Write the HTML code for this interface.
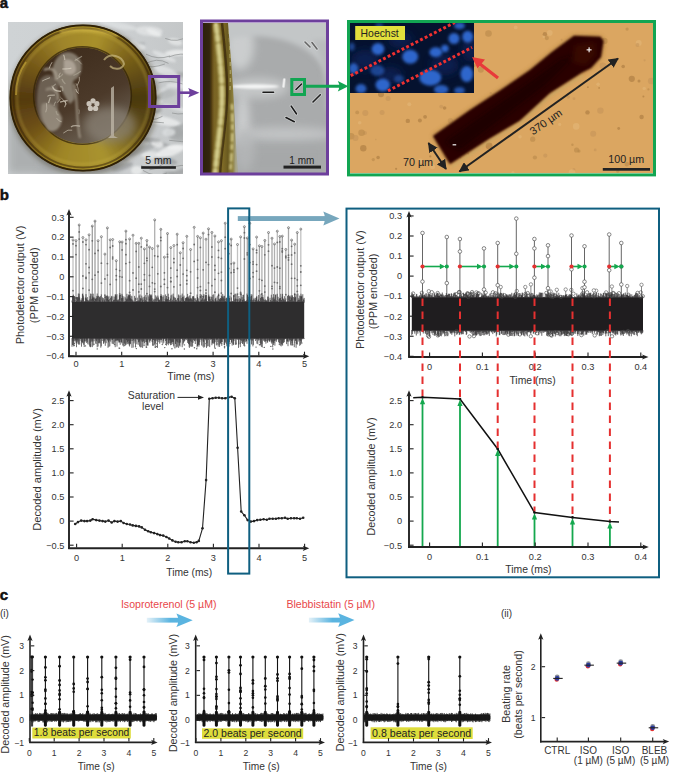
<!DOCTYPE html>
<html><head><meta charset="utf-8"><style>html,body{margin:0;padding:0;background:#fff;overflow:hidden}svg{display:block}</style></head>
<body><svg width="685" height="772" viewBox="0 0 685 772">

<defs>
 <radialGradient id="coinG" cx="0.42" cy="0.38" r="0.62">
  <stop offset="0" stop-color="#c9a638"/>
  <stop offset="0.55" stop-color="#a88420"/>
  <stop offset="0.85" stop-color="#8a6a12"/>
  <stop offset="1" stop-color="#4a3608"/>
 </radialGradient>
 <linearGradient id="innerG" x1="0.3" y1="0" x2="0.8" y2="1">
  <stop offset="0" stop-color="#3e2c1c"/>
  <stop offset="0.55" stop-color="#4c3a2a"/>
  <stop offset="1" stop-color="#72695c"/>
 </linearGradient>
 <linearGradient id="coinBg" x1="0" y1="0" x2="1" y2="0">
  <stop offset="0" stop-color="#cfd3d5"/>
  <stop offset="0.6" stop-color="#cdd0d2"/>
  <stop offset="1" stop-color="#c4c7c8"/>
 </linearGradient>
 <linearGradient id="midBg" x1="0" y1="0" x2="0" y2="1">
  <stop offset="0" stop-color="#b4b7b8"/>
  <stop offset="0.35" stop-color="#9c9e9f"/>
  <stop offset="0.6" stop-color="#a2a4a5"/>
  <stop offset="1" stop-color="#a9abac"/>
 </linearGradient>
 <linearGradient id="goldStrip" gradientUnits="userSpaceOnUse" x1="203" y1="0" x2="236" y2="0">
  <stop offset="0" stop-color="#2a1c06"/>
  <stop offset="0.2" stop-color="#4e3a10"/>
  <stop offset="0.35" stop-color="#7a6424"/>
  <stop offset="0.6" stop-color="#7e6a26"/>
  <stop offset="0.75" stop-color="#6a5a20"/>
  <stop offset="0.9" stop-color="#8c7e3c"/>
  <stop offset="1" stop-color="#a8a68e"/>
 </linearGradient>
 <linearGradient id="cArrow" x1="0" y1="0" x2="1" y2="0">
  <stop offset="0" stop-color="#e4f1f8"/>
  <stop offset="0.7" stop-color="#5ab4e0"/>
  <stop offset="1" stop-color="#5ab4e0"/>
 </linearGradient>
 <filter id="blur05" x="-50%" y="-50%" width="200%" height="200%"><feGaussianBlur stdDeviation="0.6"/></filter>
 <filter id="blur08" x="-50%" y="-50%" width="200%" height="200%"><feGaussianBlur stdDeviation="0.85"/></filter>
 <filter id="blur1" x="-50%" y="-50%" width="200%" height="200%"><feGaussianBlur stdDeviation="1.2"/></filter>
 <filter id="blur18" x="-50%" y="-50%" width="200%" height="200%"><feGaussianBlur stdDeviation="1.7"/></filter>
 <filter id="blur2" x="-60%" y="-60%" width="220%" height="220%"><feGaussianBlur stdDeviation="2.5"/></filter>
 <filter id="blur3" x="-100%" y="-100%" width="300%" height="300%"><feGaussianBlur stdDeviation="4"/></filter>
 <clipPath id="clipCoin"><rect x="8" y="22" width="175" height="152"/></clipPath>
 <clipPath id="clipCC"><circle cx="83" cy="98" r="72"/></clipPath>
 <clipPath id="clipStrip"><path d="M203,23 L228,23 C231,60 234,95 235,125 C236,145 237,160 238,173 L203,173 Z"/></clipPath>
 <clipPath id="clipMid"><rect x="203" y="23" width="123" height="150"/></clipPath>
 <clipPath id="clipRight"><rect x="350" y="23" width="303" height="150"/></clipPath>
 <clipPath id="clipInset"><rect x="350" y="23" width="124" height="70"/></clipPath>
 <marker id="ahBlk" viewBox="0 0 10 10" refX="9" refY="5" markerWidth="5" markerHeight="5" orient="auto-start-reverse"><path d="M0,0 L10,5 L0,10 z" fill="#222"/></marker>
</defs>

<rect width="685" height="772" fill="#fff"/>
<text x="-0.3" y="8" font-family="Liberation Sans, sans-serif" font-weight="bold" font-size="15" fill="#111" stroke="#111" stroke-width="0.5">a</text>
<text x="-0.3" y="200.3" font-family="Liberation Sans, sans-serif" font-weight="bold" font-size="15" fill="#111" stroke="#111" stroke-width="0.5">b</text>
<text x="-0.3" y="599.6" font-family="Liberation Sans, sans-serif" font-weight="bold" font-size="15" fill="#111" stroke="#111" stroke-width="0.5">c</text>
<g clip-path="url(#clipCoin)">
<rect x="8" y="22" width="175" height="152" fill="url(#coinBg)"/>
<rect x="8" y="110" width="60" height="64" fill="#a4a7a8" opacity="0.8" filter="url(#blur3)"/>
<rect x="40" y="150" width="80" height="24" fill="#a8abac" opacity="0.8" filter="url(#blur3)"/>
<ellipse cx="130.9" cy="44.9" rx="14.8" ry="1.8" fill="#a5a8a9" opacity="0.75" transform="rotate(-7 130.9 44.9)" filter="url(#blur1)"/>
<ellipse cx="109.6" cy="99.1" rx="5.6" ry="3.0" fill="#a5a8a9" opacity="0.75" transform="rotate(-13 109.6 99.1)" filter="url(#blur1)"/>
<ellipse cx="149.1" cy="31.0" rx="13.5" ry="4.8" fill="#e4e6e7" opacity="0.75" transform="rotate(4 149.1 31.0)" filter="url(#blur1)"/>
<ellipse cx="136.7" cy="170.4" rx="5.7" ry="4.5" fill="#eef0f0" opacity="0.75" transform="rotate(-4 136.7 170.4)" filter="url(#blur1)"/>
<ellipse cx="148.3" cy="108.8" rx="13.4" ry="3.9" fill="#a5a8a9" opacity="0.75" transform="rotate(4 148.3 108.8)" filter="url(#blur1)"/>
<ellipse cx="156.1" cy="78.6" rx="13.2" ry="1.7" fill="#e4e6e7" opacity="0.75" transform="rotate(6 156.1 78.6)" filter="url(#blur1)"/>
<ellipse cx="144.7" cy="102.8" rx="16.7" ry="3.1" fill="#e8eaea" opacity="0.75" transform="rotate(-7 144.7 102.8)" filter="url(#blur1)"/>
<ellipse cx="124.9" cy="49.3" rx="16.7" ry="1.8" fill="#eef0f0" opacity="0.75" transform="rotate(1 124.9 49.3)" filter="url(#blur1)"/>
<ellipse cx="175.0" cy="132.9" rx="9.3" ry="4.9" fill="#a5a8a9" opacity="0.75" transform="rotate(1 175.0 132.9)" filter="url(#blur1)"/>
<ellipse cx="118.2" cy="74.0" rx="19.0" ry="3.0" fill="#a5a8a9" opacity="0.75" transform="rotate(13 118.2 74.0)" filter="url(#blur1)"/>
<ellipse cx="150.8" cy="155.1" rx="9.7" ry="3.9" fill="#e8eaea" opacity="0.75" transform="rotate(4 150.8 155.1)" filter="url(#blur1)"/>
<ellipse cx="141.5" cy="149.7" rx="19.2" ry="3.2" fill="#a5a8a9" opacity="0.75" transform="rotate(-22 141.5 149.7)" filter="url(#blur1)"/>
<ellipse cx="161.1" cy="120.4" rx="19.9" ry="4.4" fill="#eef0f0" opacity="0.75" transform="rotate(11 161.1 120.4)" filter="url(#blur1)"/>
<ellipse cx="176.0" cy="74.7" rx="19.1" ry="2.7" fill="#a5a8a9" opacity="0.75" transform="rotate(-0 176.0 74.7)" filter="url(#blur1)"/>
<ellipse cx="122.5" cy="65.7" rx="16.1" ry="2.9" fill="#e8eaea" opacity="0.75" transform="rotate(-21 122.5 65.7)" filter="url(#blur1)"/>
<ellipse cx="140.9" cy="105.5" rx="18.3" ry="4.4" fill="#eef0f0" opacity="0.75" transform="rotate(10 140.9 105.5)" filter="url(#blur1)"/>
<ellipse cx="183.9" cy="125.8" rx="10.7" ry="2.3" fill="#a5a8a9" opacity="0.75" transform="rotate(-16 183.9 125.8)" filter="url(#blur1)"/>
<ellipse cx="123.6" cy="57.5" rx="12.3" ry="3.6" fill="#eef0f0" opacity="0.75" transform="rotate(-11 123.6 57.5)" filter="url(#blur1)"/>
<ellipse cx="116.7" cy="103.3" rx="14.1" ry="2.6" fill="#dfe2e3" opacity="0.75" transform="rotate(10 116.7 103.3)" filter="url(#blur1)"/>
<ellipse cx="146.2" cy="115.9" rx="15.1" ry="1.7" fill="#f2f3f3" opacity="0.75" transform="rotate(-5 146.2 115.9)" filter="url(#blur1)"/>
<ellipse cx="136.5" cy="95.2" rx="11.0" ry="2.2" fill="#9c9fa0" opacity="0.75" transform="rotate(-3 136.5 95.2)" filter="url(#blur1)"/>
<ellipse cx="113.8" cy="113.3" rx="6.5" ry="3.5" fill="#a5a8a9" opacity="0.75" transform="rotate(22 113.8 113.3)" filter="url(#blur1)"/>
<ellipse cx="154.1" cy="32.7" rx="8.1" ry="2.8" fill="#eef0f0" opacity="0.75" transform="rotate(23 154.1 32.7)" filter="url(#blur1)"/>
<ellipse cx="153.2" cy="94.1" rx="6.7" ry="3.2" fill="#e8eaea" opacity="0.75" transform="rotate(-1 153.2 94.1)" filter="url(#blur1)"/>
<ellipse cx="129.9" cy="43.9" rx="16.2" ry="4.1" fill="#e8eaea" opacity="0.75" transform="rotate(16 129.9 43.9)" filter="url(#blur1)"/>
<ellipse cx="117.9" cy="25.5" rx="19.3" ry="3.3" fill="#dfe2e3" opacity="0.75" transform="rotate(10 117.9 25.5)" filter="url(#blur1)"/>
<ellipse cx="178.1" cy="137.2" rx="9.5" ry="3.8" fill="#a5a8a9" opacity="0.75" transform="rotate(10 178.1 137.2)" filter="url(#blur1)"/>
<ellipse cx="125.9" cy="77.7" rx="7.5" ry="4.2" fill="#b8bbbc" opacity="0.75" transform="rotate(7 125.9 77.7)" filter="url(#blur1)"/>
<ellipse cx="154.1" cy="141.8" rx="16.4" ry="2.2" fill="#9c9fa0" opacity="0.75" transform="rotate(16 154.1 141.8)" filter="url(#blur1)"/>
<ellipse cx="164.2" cy="56.5" rx="12.8" ry="2.7" fill="#e4e6e7" opacity="0.75" transform="rotate(24 164.2 56.5)" filter="url(#blur1)"/>
<ellipse cx="168.2" cy="93.8" rx="7.9" ry="3.6" fill="#b8bbbc" opacity="0.75" transform="rotate(-3 168.2 93.8)" filter="url(#blur1)"/>
<ellipse cx="180.0" cy="172.2" rx="19.3" ry="2.8" fill="#9c9fa0" opacity="0.75" transform="rotate(-20 180.0 172.2)" filter="url(#blur1)"/>
<ellipse cx="142.6" cy="73.3" rx="12.2" ry="4.9" fill="#e4e6e7" opacity="0.75" transform="rotate(-1 142.6 73.3)" filter="url(#blur1)"/>
<ellipse cx="157.2" cy="143.5" rx="6.3" ry="3.8" fill="#f2f3f3" opacity="0.75" transform="rotate(14 157.2 143.5)" filter="url(#blur1)"/>
<ellipse cx="165.0" cy="94.7" rx="7.7" ry="4.3" fill="#b8bbbc" opacity="0.75" transform="rotate(-21 165.0 94.7)" filter="url(#blur1)"/>
<ellipse cx="180.7" cy="131.7" rx="11.9" ry="4.1" fill="#a5a8a9" opacity="0.75" transform="rotate(11 180.7 131.7)" filter="url(#blur1)"/>
<ellipse cx="118.6" cy="41.3" rx="7.3" ry="4.7" fill="#dfe2e3" opacity="0.75" transform="rotate(6 118.6 41.3)" filter="url(#blur1)"/>
<ellipse cx="152.7" cy="94.1" rx="19.1" ry="2.0" fill="#dfe2e3" opacity="0.75" transform="rotate(-24 152.7 94.1)" filter="url(#blur1)"/>
<ellipse cx="168.9" cy="132.4" rx="6.5" ry="4.1" fill="#dfe2e3" opacity="0.75" transform="rotate(-3 168.9 132.4)" filter="url(#blur1)"/>
<ellipse cx="174.7" cy="147.6" rx="8.2" ry="2.4" fill="#eef0f0" opacity="0.75" transform="rotate(0 174.7 147.6)" filter="url(#blur1)"/>
<ellipse cx="166.1" cy="71.6" rx="13.2" ry="4.4" fill="#e4e6e7" opacity="0.75" transform="rotate(21 166.1 71.6)" filter="url(#blur1)"/>
<ellipse cx="133.3" cy="91.6" rx="13.8" ry="4.7" fill="#f2f3f3" opacity="0.75" transform="rotate(16 133.3 91.6)" filter="url(#blur1)"/>
<ellipse cx="175.3" cy="41.9" rx="7.3" ry="3.3" fill="#e8eaea" opacity="0.75" transform="rotate(14 175.3 41.9)" filter="url(#blur1)"/>
<ellipse cx="153.7" cy="140.0" rx="7.2" ry="2.0" fill="#a5a8a9" opacity="0.75" transform="rotate(3 153.7 140.0)" filter="url(#blur1)"/>
<ellipse cx="131.1" cy="100.8" rx="13.3" ry="4.2" fill="#a5a8a9" opacity="0.75" transform="rotate(19 131.1 100.8)" filter="url(#blur1)"/>
<ellipse cx="109.5" cy="51.1" rx="5.6" ry="1.8" fill="#e8eaea" opacity="0.75" transform="rotate(3 109.5 51.1)" filter="url(#blur1)"/>
<ellipse cx="165.8" cy="160.7" rx="11.6" ry="3.6" fill="#9c9fa0" opacity="0.75" transform="rotate(10 165.8 160.7)" filter="url(#blur1)"/>
<ellipse cx="141.2" cy="103.1" rx="12.2" ry="4.8" fill="#eef0f0" opacity="0.75" transform="rotate(21 141.2 103.1)" filter="url(#blur1)"/>
<ellipse cx="176.4" cy="52.8" rx="11.7" ry="3.0" fill="#f2f3f3" opacity="0.75" transform="rotate(-3 176.4 52.8)" filter="url(#blur1)"/>
<ellipse cx="110.8" cy="58.6" rx="6.1" ry="3.8" fill="#a5a8a9" opacity="0.75" transform="rotate(20 110.8 58.6)" filter="url(#blur1)"/>
<ellipse cx="117.4" cy="130.9" rx="14.9" ry="2.0" fill="#dfe2e3" opacity="0.75" transform="rotate(23 117.4 130.9)" filter="url(#blur1)"/>
<ellipse cx="122.6" cy="166.8" rx="11.0" ry="3.2" fill="#9c9fa0" opacity="0.75" transform="rotate(-17 122.6 166.8)" filter="url(#blur1)"/>
<ellipse cx="139.5" cy="100.4" rx="10.1" ry="2.2" fill="#b8bbbc" opacity="0.75" transform="rotate(-20 139.5 100.4)" filter="url(#blur1)"/>
<ellipse cx="134.3" cy="73.4" rx="11.9" ry="4.0" fill="#f2f3f3" opacity="0.75" transform="rotate(-8 134.3 73.4)" filter="url(#blur1)"/>
<ellipse cx="154.9" cy="99.9" rx="6.0" ry="4.9" fill="#9c9fa0" opacity="0.75" transform="rotate(24 154.9 99.9)" filter="url(#blur1)"/>
<ellipse cx="113.4" cy="62.4" rx="5.6" ry="4.2" fill="#eef0f0" opacity="0.75" transform="rotate(13 113.4 62.4)" filter="url(#blur1)"/>
<ellipse cx="170.6" cy="151.1" rx="15.1" ry="4.8" fill="#f2f3f3" opacity="0.75" transform="rotate(-18 170.6 151.1)" filter="url(#blur1)"/>
<ellipse cx="178.5" cy="108.7" rx="15.5" ry="1.8" fill="#e4e6e7" opacity="0.75" transform="rotate(15 178.5 108.7)" filter="url(#blur1)"/>
<ellipse cx="119.7" cy="158.1" rx="9.0" ry="1.6" fill="#a5a8a9" opacity="0.75" transform="rotate(15 119.7 158.1)" filter="url(#blur1)"/>
<ellipse cx="111.7" cy="152.1" rx="6.0" ry="4.5" fill="#e8eaea" opacity="0.75" transform="rotate(-24 111.7 152.1)" filter="url(#blur1)"/>
<ellipse cx="184.5" cy="85.5" rx="18.7" ry="3.7" fill="#e4e6e7" opacity="0.75" transform="rotate(1 184.5 85.5)" filter="url(#blur1)"/>
<ellipse cx="124.1" cy="38.6" rx="7.4" ry="1.7" fill="#9c9fa0" opacity="0.75" transform="rotate(22 124.1 38.6)" filter="url(#blur1)"/>
<ellipse cx="155.3" cy="102.7" rx="8.1" ry="3.1" fill="#dfe2e3" opacity="0.75" transform="rotate(-11 155.3 102.7)" filter="url(#blur1)"/>
<ellipse cx="169.3" cy="173.2" rx="5.6" ry="1.6" fill="#9c9fa0" opacity="0.75" transform="rotate(1 169.3 173.2)" filter="url(#blur1)"/>
<ellipse cx="124.7" cy="90.0" rx="14.9" ry="3.8" fill="#e8eaea" opacity="0.75" transform="rotate(2 124.7 90.0)" filter="url(#blur1)"/>
<path d="M169.1,167.6 q12,-3.1 24,-2.3" stroke="#8e9192" stroke-width="1" fill="none" opacity="0.7"/>
<path d="M146.0,54.2 q12,6.1 24,1.8" stroke="#8e9192" stroke-width="1" fill="none" opacity="0.7"/>
<path d="M142.9,170.4 q12,7.7 24,2.7" stroke="#8e9192" stroke-width="1" fill="none" opacity="0.7"/>
<path d="M138.5,116.9 q12,6.1 24,-0.6" stroke="#8e9192" stroke-width="1" fill="none" opacity="0.7"/>
<path d="M139.9,122.8 q12,-1.9 24,0.0" stroke="#8e9192" stroke-width="1" fill="none" opacity="0.7"/>
<path d="M172.0,113.0 q12,3.1 24,-3.6" stroke="#8e9192" stroke-width="1" fill="none" opacity="0.7"/>
<path d="M144.5,64.5 q12,-7.9 24,-1.1" stroke="#8e9192" stroke-width="1" fill="none" opacity="0.7"/>
<path d="M149.5,169.8 q12,-2.8 24,-3.7" stroke="#8e9192" stroke-width="1" fill="none" opacity="0.7"/>
<path d="M168.9,57.0 q12,-5.1 24,-1.3" stroke="#8e9192" stroke-width="1" fill="none" opacity="0.7"/>
<path d="M140.9,66.0 q12,2.5 24,-2.0" stroke="#8e9192" stroke-width="1" fill="none" opacity="0.7"/>
<path d="M165.2,38.4 q12,5.1 24,-2.8" stroke="#8e9192" stroke-width="1" fill="none" opacity="0.7"/>
<path d="M158.5,82.9 q12,-3.2 24,1.0" stroke="#8e9192" stroke-width="1" fill="none" opacity="0.7"/>
<path d="M141.0,165.8 q12,5.7 24,-2.8" stroke="#8e9192" stroke-width="1" fill="none" opacity="0.7"/>
<path d="M169.2,140.3 q12,1.5 24,2.1" stroke="#8e9192" stroke-width="1" fill="none" opacity="0.7"/>
<circle cx="84" cy="100" r="75" fill="#2a2008" opacity="0.35" filter="url(#blur2)"/>
<circle cx="83" cy="98" r="72.8" fill="#64480f" stroke="#3a2806" stroke-width="1.6"/>
<g clip-path="url(#clipCC)"><g filter="url(#blur2)">
<path d="M83,98 L163.0,98.0 L162.6,106.0 Z" fill="#4c3a10"/>
<path d="M83,98 L162.7,105.0 L161.6,112.9 Z" fill="#503e11"/>
<path d="M83,98 L161.8,111.9 L160.0,119.7 Z" fill="#554212"/>
<path d="M83,98 L160.3,118.7 L157.8,126.3 Z" fill="#594613"/>
<path d="M83,98 L158.2,125.4 L155.1,132.8 Z" fill="#5d4a14"/>
<path d="M83,98 L155.5,131.8 L151.8,138.9 Z" fill="#624e15"/>
<path d="M83,98 L152.3,138.0 L147.9,144.7 Z" fill="#695417"/>
<path d="M83,98 L148.5,143.9 L143.6,150.2 Z" fill="#715d1b"/>
<path d="M83,98 L144.3,149.4 L138.8,155.3 Z" fill="#7a651e"/>
<path d="M83,98 L139.6,154.6 L133.6,160.0 Z" fill="#836e21"/>
<path d="M83,98 L134.4,159.3 L128.0,164.1 Z" fill="#8c7624"/>
<path d="M83,98 L128.9,163.5 L122.1,167.8 Z" fill="#947f28"/>
<path d="M83,98 L123.0,167.3 L115.9,170.9 Z" fill="#9d872b"/>
<path d="M83,98 L116.8,170.5 L109.4,173.5 Z" fill="#a6902e"/>
<path d="M83,98 L110.4,173.2 L102.7,175.5 Z" fill="#a9932f"/>
<path d="M83,98 L103.7,175.3 L95.9,177.0 Z" fill="#a8912e"/>
<path d="M83,98 L96.9,176.8 L88.9,177.8 Z" fill="#a68f2d"/>
<path d="M83,98 L90.0,177.7 L82.0,178.0 Z" fill="#a58e2c"/>
<path d="M83,98 L83.0,178.0 L75.0,177.6 Z" fill="#a48c2b"/>
<path d="M83,98 L76.0,177.7 L68.1,176.6 Z" fill="#a38a2a"/>
<path d="M83,98 L69.1,176.8 L61.3,175.0 Z" fill="#a18929"/>
<path d="M83,98 L62.3,175.3 L54.7,172.8 Z" fill="#a08728"/>
<path d="M83,98 L55.6,173.2 L48.2,170.1 Z" fill="#9c8326"/>
<path d="M83,98 L49.2,170.5 L42.1,166.8 Z" fill="#967c24"/>
<path d="M83,98 L43.0,167.3 L36.3,162.9 Z" fill="#8f7522"/>
<path d="M83,98 L37.1,163.5 L30.8,158.6 Z" fill="#896e1f"/>
<path d="M83,98 L31.6,159.3 L25.7,153.8 Z" fill="#83671d"/>
<path d="M83,98 L26.4,154.6 L21.0,148.6 Z" fill="#7d601b"/>
<path d="M83,98 L21.7,149.4 L16.9,143.0 Z" fill="#765919"/>
<path d="M83,98 L17.5,143.9 L13.2,137.1 Z" fill="#705216"/>
<path d="M83,98 L13.7,138.0 L10.1,130.9 Z" fill="#6b4d15"/>
<path d="M83,98 L10.5,131.8 L7.5,124.4 Z" fill="#674a14"/>
<path d="M83,98 L7.8,125.4 L5.5,117.7 Z" fill="#624613"/>
<path d="M83,98 L5.7,118.7 L4.0,110.9 Z" fill="#5e4212"/>
<path d="M83,98 L4.2,111.9 L3.2,103.9 Z" fill="#5a3f11"/>
<path d="M83,98 L3.3,105.0 L3.0,97.0 Z" fill="#553b10"/>
<path d="M83,98 L3.0,98.0 L3.4,90.0 Z" fill="#563c10"/>
<path d="M83,98 L3.3,91.0 L4.4,83.1 Z" fill="#5c4112"/>
<path d="M83,98 L4.2,84.1 L6.0,76.3 Z" fill="#614613"/>
<path d="M83,98 L5.7,77.3 L8.2,69.7 Z" fill="#664b15"/>
<path d="M83,98 L7.8,70.6 L10.9,63.2 Z" fill="#6b5016"/>
<path d="M83,98 L10.5,64.2 L14.2,57.1 Z" fill="#705517"/>
<path d="M83,98 L13.7,58.0 L18.1,51.3 Z" fill="#755919"/>
<path d="M83,98 L17.5,52.1 L22.4,45.8 Z" fill="#7b5f1b"/>
<path d="M83,98 L21.7,46.6 L27.2,40.7 Z" fill="#81651d"/>
<path d="M83,98 L26.4,41.4 L32.4,36.0 Z" fill="#866b1f"/>
<path d="M83,98 L31.6,36.7 L38.0,31.9 Z" fill="#8c7122"/>
<path d="M83,98 L37.1,32.5 L43.9,28.2 Z" fill="#927724"/>
<path d="M83,98 L43.0,28.7 L50.1,25.1 Z" fill="#977d26"/>
<path d="M83,98 L49.2,25.5 L56.6,22.5 Z" fill="#9d8329"/>
<path d="M83,98 L55.6,22.8 L63.3,20.5 Z" fill="#a0862a"/>
<path d="M83,98 L62.3,20.7 L70.1,19.0 Z" fill="#a2882a"/>
<path d="M83,98 L69.1,19.2 L77.1,18.2 Z" fill="#a38a2b"/>
<path d="M83,98 L76.0,18.3 L84.0,18.0 Z" fill="#a58b2b"/>
<path d="M83,98 L83.0,18.0 L91.0,18.4 Z" fill="#a68d2b"/>
<path d="M83,98 L90.0,18.3 L97.9,19.4 Z" fill="#a78e2c"/>
<path d="M83,98 L96.9,19.2 L104.7,21.0 Z" fill="#a9902c"/>
<path d="M83,98 L103.7,20.7 L111.3,23.2 Z" fill="#a58c2b"/>
<path d="M83,98 L110.4,22.8 L117.8,25.9 Z" fill="#9e8528"/>
<path d="M83,98 L116.8,25.5 L123.9,29.2 Z" fill="#977e26"/>
<path d="M83,98 L123.0,28.7 L129.7,33.1 Z" fill="#907723"/>
<path d="M83,98 L128.9,32.5 L135.2,37.4 Z" fill="#897020"/>
<path d="M83,98 L134.4,36.7 L140.3,42.2 Z" fill="#82691d"/>
<path d="M83,98 L139.6,41.4 L145.0,47.4 Z" fill="#7b621b"/>
<path d="M83,98 L144.3,46.6 L149.1,53.0 Z" fill="#745d19"/>
<path d="M83,98 L148.5,52.1 L152.8,58.9 Z" fill="#6e5818"/>
<path d="M83,98 L152.3,58.0 L155.9,65.1 Z" fill="#695316"/>
<path d="M83,98 L155.5,64.2 L158.5,71.6 Z" fill="#634e15"/>
<path d="M83,98 L158.2,70.6 L160.5,78.3 Z" fill="#5d4914"/>
<path d="M83,98 L160.3,77.3 L162.0,85.1 Z" fill="#574413"/>
<path d="M83,98 L161.8,84.1 L162.8,92.1 Z" fill="#523f11"/>
<path d="M83,98 L162.7,91.0 L163.0,99.0 Z" fill="#4c3a10"/>
</g>
<circle cx="83" cy="98" r="69.5" fill="none" stroke="#3a2808" stroke-width="2" opacity="0.55" filter="url(#blur05)"/>
<circle cx="83" cy="98" r="66" fill="none" stroke="#d8c050" stroke-width="2.5" opacity="0.25" filter="url(#blur1)"/>
<path d="M60,32 C80,28 100,30 118,36" stroke="#e0c450" stroke-width="3" fill="none" opacity="0.6" filter="url(#blur1)"/>
<path d="M16,95 C16,80 20,70 26,62" stroke="#d8b840" stroke-width="2" fill="none" opacity="0.5"/>
</g>
<circle cx="83" cy="98" r="72.5" fill="none" stroke="#2e2006" stroke-width="1.4"/>
<circle cx="82.5" cy="95.5" r="48.8" fill="none" stroke="#2e2008" stroke-width="1.6" opacity="0.7"/>
<circle cx="82.5" cy="95.5" r="48" fill="url(#innerG)"/>
<ellipse cx="110" cy="125" rx="26" ry="18" fill="#8c8478" opacity="0.7" filter="url(#blur3)"/>
<g filter="url(#blur1)" opacity="0.75">
<path d="M60,55 C66,50 76,52 80,60 C84,68 80,78 74,80 C70,86 76,92 74,100 L70,104 C64,96 60,86 56,80 C50,74 52,62 60,55Z" fill="#9a9284"/>
<path d="M64,60 C70,58 76,62 76,70 C74,76 68,76 64,72Z" fill="#d0c8bc"/>
<path d="M40,80 C46,72 54,74 58,84 C60,96 56,110 60,124 C54,130 46,128 40,120 C36,108 36,92 40,80Z" fill="#7a7064"/>
<path d="M42,104 C50,100 58,108 62,118 C62,128 54,134 48,130 C42,122 40,112 42,104Z" fill="#a8a092"/>
<path d="M44,70 C52,66 58,72 56,80" stroke="#c8c0b0" stroke-width="2" fill="none"/>
<path d="M46,90 C52,86 60,92 58,100" stroke="#b8b0a0" stroke-width="2" fill="none"/>
<path d="M74,84 C78,100 76,120 80,138" stroke="#b0a898" stroke-width="2" fill="none"/>
</g>
<path d="M50.5,97.2 q-0.2,0.3 -2.0,5.9" stroke="#c8c0b0" stroke-width="1.3" fill="none" opacity="0.75"/>
<path d="M60.4,98.7 q-1.4,2.3 -3.2,4.0" stroke="#a8a090" stroke-width="1.1" fill="none" opacity="0.75"/>
<path d="M46.4,103.1 q1.1,5.6 -0.7,9.2" stroke="#c8c0b0" stroke-width="0.8" fill="none" opacity="0.75"/>
<path d="M82.0,56.3 q-5.1,2.9 -7.4,4.6" stroke="#a8a090" stroke-width="1.2" fill="none" opacity="0.75"/>
<path d="M76.1,83.4 q3.4,6.6 1.5,8.7" stroke="#c8c0b0" stroke-width="0.7" fill="none" opacity="0.75"/>
<path d="M62.9,73.8 q-1.0,2.1 -6.2,5.1" stroke="#a8a090" stroke-width="1.1" fill="none" opacity="0.75"/>
<path d="M60.0,86.5 q3.8,-0.5 2.6,4.7" stroke="#a8a090" stroke-width="1.4" fill="none" opacity="0.75"/>
<path d="M71.4,68.0 q-2.1,0.9 -9.1,1.0" stroke="#d8d0c0" stroke-width="1.2" fill="none" opacity="0.75"/>
<path d="M52.1,62.2 q-1.6,2.2 -2.9,6.3" stroke="#c8c0b0" stroke-width="1.0" fill="none" opacity="0.75"/>
<path d="M50.0,77.7 q-6.7,2.4 -7.9,3.4" stroke="#c8c0b0" stroke-width="1.0" fill="none" opacity="0.75"/>
<path d="M60.4,97.1 q1.5,0.9 6.1,7.3" stroke="#c8c0b0" stroke-width="0.8" fill="none" opacity="0.75"/>
<path d="M63.2,55.1 q1.4,0.4 1.5,5.0" stroke="#c8c0b0" stroke-width="1.4" fill="none" opacity="0.75"/>
<path d="M55.8,83.9 q-2.9,3.2 -4.4,2.0" stroke="#a8a090" stroke-width="1.2" fill="none" opacity="0.75"/>
<path d="M67.6,100.7 q-3.8,0.3 -7.6,1.4" stroke="#d8d0c0" stroke-width="1.2" fill="none" opacity="0.75"/>
<path d="M75.8,89.0 q0.6,4.0 3.2,4.5" stroke="#d8d0c0" stroke-width="0.9" fill="none" opacity="0.75"/>
<path d="M56.0,101.7 q-2.0,1.3 -2.0,4.4" stroke="#a8a090" stroke-width="1.1" fill="none" opacity="0.75"/>
<path d="M54.9,95.1 q-6.6,-0.2 -7.5,1.1" stroke="#d8d0c0" stroke-width="1.0" fill="none" opacity="0.75"/>
<path d="M62.0,79.0 q0.9,3.1 3.4,5.1" stroke="#a8a090" stroke-width="1.3" fill="none" opacity="0.75"/>
<path d="M78.9,109.4 q0.9,1.0 0.0,4.8" stroke="#a8a090" stroke-width="0.8" fill="none" opacity="0.75"/>
<path d="M56.2,111.0 q0.2,4.0 2.4,3.9" stroke="#a8a090" stroke-width="1.3" fill="none" opacity="0.75"/>
<path d="M75.2,59.0 q3.7,1.3 6.5,5.3" stroke="#c8c0b0" stroke-width="0.7" fill="none" opacity="0.75"/>
<path d="M79.3,76.8 q1.1,3.4 -2.1,8.8" stroke="#d8d0c0" stroke-width="0.8" fill="none" opacity="0.75"/>
<path d="M65.0,100.7 q1.9,3.0 -0.4,6.5" stroke="#d8d0c0" stroke-width="1.0" fill="none" opacity="0.75"/>
<path d="M52.6,86.7 q1.2,4.9 8.4,4.5" stroke="#d8d0c0" stroke-width="1.4" fill="none" opacity="0.75"/>
<path d="M80.8,71.3 q-2.7,2.2 -7.4,4.2" stroke="#a8a090" stroke-width="1.1" fill="none" opacity="0.75"/>
<path d="M80.1,126.1 q-6.8,-1.1 -9.1,0.8" stroke="#c8c0b0" stroke-width="1.3" fill="none" opacity="0.75"/>
<path d="M72.2,130.2 q-4.0,-1.5 -8.9,2.9" stroke="#d8d0c0" stroke-width="0.8" fill="none" opacity="0.75"/>
<path d="M60.4,72.8 q-2.9,4.5 -0.5,4.1" stroke="#c8c0b0" stroke-width="0.9" fill="none" opacity="0.75"/>
<path d="M56.6,118.2 q2.7,3.7 5.0,3.5" stroke="#c8c0b0" stroke-width="0.9" fill="none" opacity="0.75"/>
<g opacity="0.9">
<circle cx="93.0" cy="100.84" r="2.6" fill="#d6d0c6"/>
<circle cx="96.9" cy="103.7" r="2.6" fill="#d6d0c6"/>
<circle cx="95.6" cy="108.38" r="2.6" fill="#d6d0c6"/>
<circle cx="90.4" cy="108.38" r="2.6" fill="#d6d0c6"/>
<circle cx="89.1" cy="103.7" r="2.6" fill="#d6d0c6"/>
</g>
<path d="M111,88 L114,86 L114,136 L118,138 L108,138 L111,135 Z" fill="#c0b8aa" opacity="0.75"/>
<path d="M104,60 C110,52 122,56 124,64 C122,70 114,70 110,66" stroke="#c8b880" stroke-width="2" fill="none" opacity="0.7"/>
</g>
<rect x="149.5" y="76.5" width="29.2" height="30" fill="none" stroke="#6d3f9c" stroke-width="3"/>
<line x1="180" y1="92.7" x2="192" y2="92.7" stroke="#6d3f9c" stroke-width="2.6"/>
<path d="M188.2,87.9 L199.4,92.7 L188.2,97.5 Q191.2,92.7 188.2,87.9 Z" fill="#6d3f9c"/>
<text x="158.3" y="163.8" font-family="Liberation Sans, sans-serif" font-size="10.5" fill="#222" text-anchor="middle">5 mm</text>
<rect x="141.2" y="166.2" width="34.7" height="2.6" fill="#222"/>
<g clip-path="url(#clipMid)">
<rect x="203" y="23" width="123" height="150" fill="#a9abac"/>
<ellipse cx="240" cy="45" rx="14" ry="25" fill="#cfd1d2" opacity="0.9" filter="url(#blur3)"/>
<ellipse cx="243" cy="130" rx="7" ry="40" fill="#d4d6d7" opacity="0.8" filter="url(#blur3)"/>
<path d="M203,18 L330,18 L330,80 C318,52 295,38 255,36 L203,40 Z" fill="#c3c6c7" filter="url(#blur2)"/>
<path d="M312,40 C322,55 326,80 326,110 L330,110 L330,40 Z" fill="#b9bcbd" filter="url(#blur2)"/>
<ellipse cx="258" cy="88" rx="30" ry="10" fill="#c8cacb" opacity="0.9" filter="url(#blur3)"/>
<ellipse cx="255" cy="86.5" rx="24" ry="2.2" fill="#f4f5f5" filter="url(#blur1)"/>
<ellipse cx="285" cy="134" rx="50" ry="7" fill="#c4c6c7" opacity="0.9" filter="url(#blur3)"/>
<rect x="203" y="145" width="123" height="30" fill="#a6a8a9" opacity="0.8" filter="url(#blur3)"/>
<ellipse cx="245" cy="150" rx="10" ry="20" fill="#b4b6b7" opacity="0.8" filter="url(#blur3)"/>
<path d="M203,23 L228,23 C231,60 234,95 235,125 C236,145 237,160 238,173 L203,173 Z" fill="url(#goldStrip)"/>
<g clip-path="url(#clipStrip)">
<rect x="203" y="23" width="8" height="150" fill="#2e2208" opacity="0.8" filter="url(#blur1)"/>
<path d="M222,23 C225,50 228,80 227,100 C226,130 221,150 220,175" stroke="#3a2c0c" stroke-width="2.5" fill="none" opacity="0.8" filter="url(#blur05)"/>
<path d="M216,25 C219,50 222,75 222,95 C222,120 218,140 215,175" stroke="#ece4a8" stroke-width="4.5" fill="none" stroke-linecap="round" stroke-dasharray="7 4 4 5 10 3 5 4" opacity="0.95" filter="url(#blur08)"/>
<path d="M216,25 C219,50 222,75 222,95 C222,120 218,140 215,175" stroke="#b0a860" stroke-width="7" fill="none" opacity="0.35" filter="url(#blur1)"/>
<path d="M232,105 C233,130 232,150 230,175" stroke="#e0d898" stroke-width="2.4" fill="none" stroke-linecap="round" stroke-dasharray="4 5 7 4" opacity="0.85" filter="url(#blur08)"/>
<path d="M229,30 C230,50 231,70 230,90" stroke="#b8b070" stroke-width="1.5" fill="none" stroke-dasharray="4 4" opacity="0.7" filter="url(#blur05)"/>
</g>
<line x1="263" y1="92.2" x2="273.6" y2="92.2" stroke="#e8eaea" stroke-width="3" stroke-linecap="round" opacity="0.6"/>
<line x1="263" y1="92.2" x2="273.6" y2="92.2" stroke="#1a1a1a" stroke-width="1.6" stroke-linecap="round"/>
<line x1="284.3" y1="79.5" x2="283.5" y2="86.5" stroke="#e8eaea" stroke-width="3" stroke-linecap="round" opacity="0.6"/>
<line x1="284.3" y1="79.5" x2="283.5" y2="86.5" stroke="#f0f0f0" stroke-width="1.6" stroke-linecap="round"/>
<line x1="296" y1="89.5" x2="301.6" y2="84" stroke="#e8eaea" stroke-width="3" stroke-linecap="round" opacity="0.6"/>
<line x1="296" y1="89.5" x2="301.6" y2="84" stroke="#1a1a1a" stroke-width="1.6" stroke-linecap="round"/>
<line x1="313" y1="102" x2="320.3" y2="94.7" stroke="#e8eaea" stroke-width="3" stroke-linecap="round" opacity="0.6"/>
<line x1="313" y1="102" x2="320.3" y2="94.7" stroke="#222" stroke-width="1.6" stroke-linecap="round"/>
<line x1="291.2" y1="106.1" x2="296.4" y2="113.8" stroke="#e8eaea" stroke-width="3" stroke-linecap="round" opacity="0.6"/>
<line x1="291.2" y1="106.1" x2="296.4" y2="113.8" stroke="#1a1a1a" stroke-width="1.6" stroke-linecap="round"/>
<line x1="286" y1="117.5" x2="294.3" y2="121.7" stroke="#e8eaea" stroke-width="3" stroke-linecap="round" opacity="0.6"/>
<line x1="286" y1="117.5" x2="294.3" y2="121.7" stroke="#1a1a1a" stroke-width="1.6" stroke-linecap="round"/>
<line x1="305" y1="42" x2="310" y2="47" stroke="#e8eaea" stroke-width="3" stroke-linecap="round" opacity="0.6"/>
<line x1="305" y1="42" x2="310" y2="47" stroke="#666" stroke-width="1.6" stroke-linecap="round"/>
<line x1="312" y1="42.5" x2="317" y2="49" stroke="#e8eaea" stroke-width="3" stroke-linecap="round" opacity="0.6"/>
<line x1="312" y1="42.5" x2="317" y2="49" stroke="#666" stroke-width="1.6" stroke-linecap="round"/>
</g>
<rect x="201.5" y="21" width="126" height="153" fill="none" stroke="#6d3f9c" stroke-width="3"/>
<rect x="291.8" y="79.5" width="12.7" height="15" fill="none" stroke="#12a552" stroke-width="3"/>
<line x1="305" y1="86.2" x2="340" y2="86.2" stroke="#12a552" stroke-width="3"/>
<path d="M337.8,81.1 L348.4,86.2 L337.8,91.4 Q340.8,86.2 337.8,81.1 Z" fill="#12a552"/>
<text x="301.8" y="163.6" font-family="Liberation Sans, sans-serif" font-size="10" fill="#222" text-anchor="middle">1 mm</text>
<rect x="283.5" y="165.6" width="37.5" height="3" fill="#222"/>
<g clip-path="url(#clipRight)">
<rect x="350" y="23" width="303" height="150" fill="#dba661"/>
<circle cx="568.4" cy="97.1" r="1.6" fill="#c49558" opacity="0.6"/>
<circle cx="363.3" cy="148.3" r="3.2" fill="#a87a40" opacity="0.6"/>
<circle cx="572.4" cy="144.8" r="1.2" fill="#b8884a" opacity="0.6"/>
<circle cx="600.4" cy="110.6" r="3.2" fill="#c49558" opacity="0.6"/>
<circle cx="375.8" cy="29.3" r="2.5" fill="#b8884a" opacity="0.6"/>
<circle cx="464.1" cy="90.7" r="0.9" fill="#b8884a" opacity="0.6"/>
<circle cx="539.7" cy="125.1" r="2.1" fill="#b8884a" opacity="0.6"/>
<circle cx="488.5" cy="33.5" r="3.3" fill="#b8884a" opacity="0.6"/>
<circle cx="549.8" cy="32.9" r="2.8" fill="#e2b878" opacity="0.6"/>
<circle cx="595.2" cy="149.9" r="1.4" fill="#c49558" opacity="0.6"/>
<circle cx="419.9" cy="120.5" r="2.0" fill="#a87a40" opacity="0.6"/>
<circle cx="373.3" cy="159.6" r="1.6" fill="#b8884a" opacity="0.6"/>
<circle cx="536.9" cy="119.4" r="1.0" fill="#c49558" opacity="0.6"/>
<circle cx="450.5" cy="120.7" r="2.7" fill="#c49558" opacity="0.6"/>
<circle cx="353.8" cy="32.1" r="1.5" fill="#b8884a" opacity="0.6"/>
<circle cx="559.7" cy="124.4" r="1.6" fill="#e2b878" opacity="0.6"/>
<circle cx="490.8" cy="93.0" r="1.1" fill="#c49558" opacity="0.6"/>
<circle cx="444.4" cy="35.9" r="2.1" fill="#e2b878" opacity="0.6"/>
<circle cx="489.1" cy="146.0" r="3.4" fill="#a87a40" opacity="0.6"/>
<circle cx="651.2" cy="81.0" r="3.3" fill="#c49558" opacity="0.6"/>
<circle cx="372.6" cy="36.5" r="2.8" fill="#e2b878" opacity="0.6"/>
<circle cx="638.7" cy="42.9" r="3.0" fill="#e2b878" opacity="0.6"/>
<circle cx="618.7" cy="128.5" r="1.4" fill="#a87a40" opacity="0.6"/>
<circle cx="469.4" cy="46.9" r="3.4" fill="#a87a40" opacity="0.6"/>
<circle cx="472.8" cy="132.1" r="1.9" fill="#a87a40" opacity="0.6"/>
<circle cx="445.8" cy="149.0" r="0.8" fill="#e2b878" opacity="0.6"/>
<circle cx="604.3" cy="41.0" r="3.3" fill="#b8884a" opacity="0.6"/>
<circle cx="623.2" cy="66.5" r="1.8" fill="#a87a40" opacity="0.6"/>
<circle cx="468.2" cy="153.5" r="1.0" fill="#a87a40" opacity="0.6"/>
<circle cx="579.0" cy="151.1" r="1.6" fill="#b8884a" opacity="0.6"/>
<circle cx="602.9" cy="65.8" r="3.3" fill="#c49558" opacity="0.6"/>
<circle cx="644.2" cy="88.4" r="1.7" fill="#e2b878" opacity="0.6"/>
<circle cx="587.9" cy="87.2" r="0.9" fill="#a87a40" opacity="0.6"/>
<circle cx="626.8" cy="164.1" r="2.3" fill="#b8884a" opacity="0.6"/>
<circle cx="365.0" cy="132.9" r="2.0" fill="#c49558" opacity="0.6"/>
<circle cx="545.3" cy="65.9" r="0.9" fill="#c49558" opacity="0.6"/>
<circle cx="401.7" cy="85.2" r="1.6" fill="#e2b878" opacity="0.6"/>
<circle cx="573.9" cy="169.4" r="1.5" fill="#c49558" opacity="0.6"/>
<circle cx="441.2" cy="106.6" r="1.9" fill="#c49558" opacity="0.6"/>
<circle cx="544.9" cy="34.3" r="2.2" fill="#a87a40" opacity="0.6"/>
<circle cx="516.8" cy="90.9" r="1.7" fill="#a87a40" opacity="0.6"/>
<circle cx="479.5" cy="105.2" r="1.5" fill="#c49558" opacity="0.6"/>
<circle cx="453.6" cy="36.7" r="1.4" fill="#e2b878" opacity="0.6"/>
<circle cx="595.2" cy="53.3" r="0.9" fill="#a87a40" opacity="0.6"/>
<circle cx="466.0" cy="134.9" r="1.4" fill="#e2b878" opacity="0.6"/>
<circle cx="452.5" cy="32.3" r="1.5" fill="#e2b878" opacity="0.6"/>
<circle cx="388.1" cy="98.5" r="2.5" fill="#c49558" opacity="0.6"/>
<circle cx="378.1" cy="157.5" r="1.8" fill="#a87a40" opacity="0.6"/>
<circle cx="480.8" cy="69.8" r="3.0" fill="#b8884a" opacity="0.6"/>
<circle cx="388.6" cy="86.8" r="2.9" fill="#a87a40" opacity="0.6"/>
<circle cx="643.4" cy="96.5" r="1.0" fill="#a87a40" opacity="0.6"/>
<circle cx="644.6" cy="60.3" r="1.1" fill="#c49558" opacity="0.6"/>
<circle cx="396.1" cy="168.8" r="1.1" fill="#a87a40" opacity="0.6"/>
<circle cx="375.8" cy="139.5" r="0.8" fill="#c49558" opacity="0.6"/>
<circle cx="420.5" cy="161.0" r="2.5" fill="#e2b878" opacity="0.6"/>
<circle cx="641.6" cy="117.0" r="2.2" fill="#a87a40" opacity="0.6"/>
<circle cx="561.7" cy="39.8" r="1.0" fill="#c49558" opacity="0.6"/>
<circle cx="467.6" cy="56.5" r="2.4" fill="#b8884a" opacity="0.6"/>
<circle cx="512.9" cy="172.5" r="1.6" fill="#e2b878" opacity="0.6"/>
<circle cx="545.3" cy="155.6" r="2.1" fill="#c49558" opacity="0.6"/>
<circle cx="515.7" cy="27.4" r="1.9" fill="#e2b878" opacity="0.6"/>
<circle cx="366.8" cy="52.1" r="3.2" fill="#a87a40" opacity="0.6"/>
<circle cx="374.6" cy="57.2" r="1.9" fill="#e2b878" opacity="0.6"/>
<circle cx="418.7" cy="28.1" r="1.7" fill="#a87a40" opacity="0.6"/>
<circle cx="459.8" cy="82.5" r="0.8" fill="#e2b878" opacity="0.6"/>
<circle cx="574.0" cy="98.7" r="1.4" fill="#c49558" opacity="0.6"/>
<circle cx="444.4" cy="146.0" r="1.4" fill="#c49558" opacity="0.6"/>
<circle cx="430.3" cy="156.4" r="1.1" fill="#a87a40" opacity="0.6"/>
<circle cx="534.9" cy="157.5" r="2.1" fill="#b8884a" opacity="0.6"/>
<circle cx="637.5" cy="45.0" r="1.9" fill="#c49558" opacity="0.6"/>
<circle cx="357.2" cy="112.4" r="1.9" fill="#b8884a" opacity="0.6"/>
<circle cx="405.8" cy="90.4" r="2.7" fill="#e2b878" opacity="0.6"/>
<circle cx="572.0" cy="172.6" r="3.3" fill="#e2b878" opacity="0.6"/>
<circle cx="407.8" cy="120.9" r="2.2" fill="#a87a40" opacity="0.6"/>
<circle cx="359.7" cy="122.7" r="1.8" fill="#e2b878" opacity="0.6"/>
<circle cx="648.4" cy="89.4" r="1.1" fill="#b8884a" opacity="0.6"/>
<circle cx="434.8" cy="75.7" r="3.4" fill="#b8884a" opacity="0.6"/>
<circle cx="520.0" cy="136.8" r="1.8" fill="#e2b878" opacity="0.6"/>
<circle cx="599.1" cy="87.9" r="0.9" fill="#a87a40" opacity="0.6"/>
<circle cx="409.3" cy="104.2" r="2.0" fill="#e2b878" opacity="0.6"/>
<circle cx="460.4" cy="157.5" r="0.9" fill="#a87a40" opacity="0.6"/>
<circle cx="425.1" cy="116.8" r="1.9" fill="#a87a40" opacity="0.6"/>
<circle cx="360.6" cy="32.4" r="3.3" fill="#e2b878" opacity="0.6"/>
<circle cx="409.1" cy="32.4" r="2.4" fill="#e2b878" opacity="0.6"/>
<circle cx="432.5" cy="166.7" r="2.5" fill="#e2b878" opacity="0.6"/>
<circle cx="576.2" cy="126.4" r="3.3" fill="#e2b878" opacity="0.6"/>
<circle cx="351.1" cy="136.3" r="3.3" fill="#b8884a" opacity="0.6"/>
<circle cx="357.3" cy="58.1" r="2.1" fill="#a87a40" opacity="0.6"/>
<circle cx="639.0" cy="81.0" r="1.5" fill="#a87a40" opacity="0.6"/>
<circle cx="596.9" cy="42.9" r="2.1" fill="#b8884a" opacity="0.6"/>
<circle cx="593.2" cy="133.8" r="3.0" fill="#c49558" opacity="0.6"/>
<circle cx="534.0" cy="72.2" r="1.7" fill="#e2b878" opacity="0.6"/>
<circle cx="587.5" cy="112.4" r="2.2" fill="#a87a40" opacity="0.6"/>
<circle cx="578.1" cy="60.1" r="1.0" fill="#b8884a" opacity="0.6"/>
<circle cx="496.0" cy="104.7" r="1.2" fill="#a87a40" opacity="0.6"/>
<circle cx="617.7" cy="171.2" r="1.5" fill="#b8884a" opacity="0.6"/>
<circle cx="413.1" cy="86.2" r="3.5" fill="#a87a40" opacity="0.6"/>
<circle cx="402.5" cy="42.9" r="2.0" fill="#c49558" opacity="0.6"/>
<circle cx="576.6" cy="150.0" r="2.6" fill="#b8884a" opacity="0.6"/>
<circle cx="586.3" cy="67.1" r="1.6" fill="#e2b878" opacity="0.6"/>
<circle cx="463.0" cy="133.7" r="1.3" fill="#c49558" opacity="0.6"/>
<circle cx="406.3" cy="58.3" r="1.6" fill="#c49558" opacity="0.6"/>
<circle cx="448.9" cy="82.4" r="3.5" fill="#c49558" opacity="0.6"/>
<circle cx="546.8" cy="38.1" r="2.1" fill="#b8884a" opacity="0.6"/>
<circle cx="381.0" cy="94.2" r="3.0" fill="#a87a40" opacity="0.6"/>
<circle cx="627.1" cy="29.1" r="1.6" fill="#b8884a" opacity="0.6"/>
<circle cx="365.3" cy="113.1" r="3.0" fill="#c49558" opacity="0.6"/>
<circle cx="631.8" cy="78.8" r="3.1" fill="#a87a40" opacity="0.6"/>
<circle cx="532.7" cy="139.2" r="2.6" fill="#b8884a" opacity="0.6"/>
<circle cx="382.1" cy="112.4" r="2.5" fill="#c49558" opacity="0.6"/>
<circle cx="361.3" cy="74.0" r="0.9" fill="#e2b878" opacity="0.6"/>
<circle cx="361.6" cy="132.8" r="3.3" fill="#b8884a" opacity="0.6"/>
<circle cx="598.1" cy="84.3" r="1.8" fill="#e2b878" opacity="0.6"/>
<circle cx="373.6" cy="27.7" r="2.1" fill="#a87a40" opacity="0.6"/>
<circle cx="369.2" cy="38.2" r="1.9" fill="#c49558" opacity="0.6"/>
<circle cx="543.7" cy="36.7" r="1.2" fill="#e2b878" opacity="0.6"/>
<circle cx="474.2" cy="65.5" r="1.6" fill="#b8884a" opacity="0.6"/>
<circle cx="444.6" cy="108.0" r="1.8" fill="#a87a40" opacity="0.6"/>
<circle cx="355.5" cy="138.0" r="3.0" fill="#c49558" opacity="0.6"/>
<circle cx="468.4" cy="83.7" r="3.3" fill="#a87a40" opacity="0.6"/>
<path d="M433,136 L470,110 L500,90.5 L530,70 L552,52 L574,35.7 L600.5,36.7 L603.5,41 L601,57 L591,68 L582,72.6 L550,93 L520,120.5 L490,138.2 L450,164 Z" fill="#8a5a20" opacity="0.8" filter="url(#blur2)" transform="translate(0,0)"/>
<path d="M433,136 L470,110 L500,90.5 L530,70 L552,52 L574,35.7 L600.5,36.7 L603.5,41 L601,57 L591,68 L582,72.6 L550,93 L520,120.5 L490,138.2 L450,164 Z" fill="#2a0600" filter="url(#blur1)"/>
<path d="M445,142 L530,82 L560,60 L575,55 L545,85 L460,150 Z" fill="#120100" opacity="0.6" filter="url(#blur2)"/>
<path d="M575,45 L595,42 L596,55 L585,66 L572,62 Z" fill="#4a1206" opacity="0.45" filter="url(#blur2)"/>
<path d="M452,167 L490,141 L520,123.5 L550,96 L583,75.5" stroke="#c8b070" stroke-width="2.2" fill="none" opacity="0.5" filter="url(#blur1)"/>
</g>
<g clip-path="url(#clipInset)">
<rect x="350" y="23" width="124" height="70" fill="#05122f"/>
<ellipse cx="365" cy="60" rx="14" ry="10" fill="#0c2458" opacity="0.8" filter="url(#blur3)"/>
<ellipse cx="400" cy="40" rx="12" ry="8" fill="#0c2458" opacity="0.8" filter="url(#blur3)"/>
<ellipse cx="445" cy="65" rx="14" ry="10" fill="#0c2458" opacity="0.8" filter="url(#blur3)"/>
<ellipse cx="390" cy="75" rx="12" ry="8" fill="#0c2458" opacity="0.8" filter="url(#blur3)"/>
<ellipse cx="470" cy="50" rx="8" ry="12" fill="#0c2458" opacity="0.8" filter="url(#blur3)"/>
<ellipse cx="378" cy="49" rx="6.4" ry="6" fill="#2f66cc" opacity="1" filter="url(#blur18)"/>
<ellipse cx="410.2" cy="56.8" rx="8" ry="7" fill="#2f66cc" opacity="1" filter="url(#blur18)"/>
<ellipse cx="435.8" cy="52.2" rx="6.4" ry="5" fill="#2f66cc" opacity="1" filter="url(#blur18)"/>
<ellipse cx="444.9" cy="48.5" rx="3.8" ry="3.8" fill="#2f66cc" opacity="1" filter="url(#blur18)"/>
<ellipse cx="454" cy="38.5" rx="5.5" ry="5.5" fill="#2f66cc" opacity="1" filter="url(#blur18)"/>
<ellipse cx="467.7" cy="36.7" rx="5.5" ry="6" fill="#2f66cc" opacity="1" filter="url(#blur18)"/>
<ellipse cx="459.5" cy="25.7" rx="5.5" ry="3.5" fill="#2f66cc" opacity="0.9" filter="url(#blur18)"/>
<ellipse cx="430.3" cy="77.7" rx="11" ry="8" fill="#2f66cc" opacity="1" filter="url(#blur18)"/>
<ellipse cx="382.8" cy="85" rx="7.3" ry="6.4" fill="#2f66cc" opacity="1" filter="url(#blur18)"/>
<ellipse cx="361" cy="88.7" rx="5.5" ry="4.6" fill="#2f66cc" opacity="0.9" filter="url(#blur18)"/>
<ellipse cx="353.6" cy="68.6" rx="4.6" ry="5.5" fill="#2f66cc" opacity="0.9" filter="url(#blur18)"/>
<ellipse cx="466.8" cy="74.1" rx="6.4" ry="8" fill="#2f66cc" opacity="1" filter="url(#blur18)"/>
<ellipse cx="441.2" cy="89.6" rx="7.3" ry="4.6" fill="#2f66cc" opacity="0.9" filter="url(#blur18)"/>
<ellipse cx="459.5" cy="90.5" rx="5.5" ry="3.5" fill="#2f66cc" opacity="0.8" filter="url(#blur18)"/>
<ellipse cx="377.4" cy="70.4" rx="7" ry="5.5" fill="#2f66cc" opacity="0.6" filter="url(#blur18)"/>
<ellipse cx="351.8" cy="46.7" rx="3" ry="4" fill="#2f66cc" opacity="0.6" filter="url(#blur18)"/>
<ellipse cx="399" cy="79" rx="5" ry="4" fill="#2f66cc" opacity="0.5" filter="url(#blur18)"/>
<ellipse cx="379.2" cy="25.7" rx="4" ry="3" fill="#2f66cc" opacity="0.5" filter="url(#blur18)"/>
</g>
<line x1="350.7" y1="75.7" x2="454.8" y2="22.5" stroke="#ee3030" stroke-width="3" stroke-dasharray="2.9 2.3"/>
<line x1="388" y1="90.9" x2="472" y2="47.4" stroke="#ee3030" stroke-width="3" stroke-dasharray="2.9 2.3"/>
<rect x="355.2" y="26" width="49.8" height="14" fill="#e2df3c"/>
<text x="360.6" y="36.6" font-family="Liberation Sans, sans-serif" font-size="10.4" fill="#222">Hoechst</text>
<line x1="498" y1="78" x2="480" y2="64" stroke="#e83a3a" stroke-width="3.2"/>
<path d="M472,57 L485,59.5 L477.5,68.5 Z" fill="#e83a3a"/>
<rect x="586.6" y="49.3" width="5" height="1.1" fill="#fff"/><rect x="588.55" y="47.3" width="1.1" height="5" fill="#fff"/>
<rect x="452.6" y="144.2" width="3.6" height="1.2" fill="#f4f4f4"/>
<line x1="428.5" y1="143" x2="446" y2="169" stroke="#222" stroke-width="2" marker-start="url(#ahBlk)" marker-end="url(#ahBlk)"/>
<line x1="459.5" y1="171.5" x2="618" y2="58.5" stroke="#222" stroke-width="2" marker-start="url(#ahBlk)" marker-end="url(#ahBlk)"/>
<text x="418" y="166" font-family="Liberation Sans, sans-serif" font-size="10.8" fill="#222" text-anchor="middle">70 µm</text>
<text transform="translate(548,125) rotate(-35)" font-family="Liberation Sans, sans-serif" font-size="11" fill="#222" text-anchor="middle">370 µm</text>
<text x="626.2" y="163.3" font-family="Liberation Sans, sans-serif" font-size="10.7" fill="#222" text-anchor="middle">100 µm</text>
<rect x="602.8" y="168" width="47.2" height="2.7" fill="#222"/>
<rect x="348.5" y="21.5" width="306" height="153.4" fill="none" stroke="#12a552" stroke-width="3"/>
<line x1="73.0" y1="239.9" x2="73.0" y2="300" stroke="#c2c2c2" stroke-width="1.3"/>
<circle cx="73.0" cy="239.9" r="1.0" fill="none" stroke="#666" stroke-width="0.7"/>
<circle cx="73.0" cy="243.9" r="0.9" fill="#6a6a6a"/>
<circle cx="73.0" cy="290.7" r="0.9" fill="#6a6a6a"/>
<line x1="76.0" y1="240.6" x2="76.0" y2="300" stroke="#a0a0a0" stroke-width="1.3"/>
<circle cx="76.0" cy="240.6" r="1.0" fill="none" stroke="#666" stroke-width="0.7"/>
<circle cx="76.0" cy="297.9" r="0.9" fill="#6a6a6a"/>
<circle cx="76.0" cy="245.7" r="0.9" fill="#6a6a6a"/>
<circle cx="76.0" cy="254.6" r="0.9" fill="#6a6a6a"/>
<line x1="79.2" y1="225.0" x2="79.2" y2="300" stroke="#a0a0a0" stroke-width="1.3"/>
<circle cx="79.2" cy="225.0" r="1.0" fill="none" stroke="#666" stroke-width="0.7"/>
<circle cx="79.2" cy="231.9" r="0.9" fill="#6a6a6a"/>
<circle cx="79.2" cy="239.1" r="0.9" fill="#6a6a6a"/>
<line x1="82.9" y1="237.5" x2="82.9" y2="300" stroke="#c2c2c2" stroke-width="1.3"/>
<circle cx="82.9" cy="237.5" r="1.0" fill="none" stroke="#666" stroke-width="0.7"/>
<circle cx="82.9" cy="242.0" r="0.9" fill="#6a6a6a"/>
<circle cx="82.9" cy="276.0" r="0.9" fill="#6a6a6a"/>
<circle cx="82.9" cy="288.4" r="0.9" fill="#6a6a6a"/>
<line x1="86.0" y1="239.8" x2="86.0" y2="300" stroke="#b0b0b0" stroke-width="1.3"/>
<circle cx="86.0" cy="239.8" r="1.0" fill="none" stroke="#666" stroke-width="0.7"/>
<circle cx="86.0" cy="278.3" r="0.9" fill="#6a6a6a"/>
<circle cx="86.0" cy="244.6" r="0.9" fill="#6a6a6a"/>
<circle cx="86.0" cy="263.8" r="0.9" fill="#6a6a6a"/>
<circle cx="86.0" cy="277.5" r="0.9" fill="#6a6a6a"/>
<line x1="89.1" y1="234.8" x2="89.1" y2="300" stroke="#b0b0b0" stroke-width="1.3"/>
<circle cx="89.1" cy="234.8" r="1.0" fill="none" stroke="#666" stroke-width="0.7"/>
<circle cx="89.1" cy="267.5" r="0.9" fill="#6a6a6a"/>
<circle cx="89.1" cy="272.8" r="0.9" fill="#6a6a6a"/>
<circle cx="89.1" cy="290.1" r="0.9" fill="#6a6a6a"/>
<circle cx="89.1" cy="249.7" r="0.9" fill="#6a6a6a"/>
<line x1="92.3" y1="226.1" x2="92.3" y2="300" stroke="#a0a0a0" stroke-width="1.3"/>
<circle cx="92.3" cy="226.1" r="1.0" fill="none" stroke="#666" stroke-width="0.7"/>
<circle cx="92.3" cy="279.3" r="0.9" fill="#6a6a6a"/>
<circle cx="92.3" cy="240.8" r="0.9" fill="#6a6a6a"/>
<line x1="95.0" y1="221.1" x2="95.0" y2="300" stroke="#a0a0a0" stroke-width="1.3"/>
<circle cx="95.0" cy="221.1" r="1.0" fill="none" stroke="#666" stroke-width="0.7"/>
<circle cx="95.0" cy="275.2" r="0.9" fill="#6a6a6a"/>
<circle cx="95.0" cy="253.4" r="0.9" fill="#6a6a6a"/>
<line x1="98.1" y1="240.7" x2="98.1" y2="300" stroke="#a8a8a8" stroke-width="1.3"/>
<circle cx="98.1" cy="240.7" r="1.0" fill="none" stroke="#666" stroke-width="0.7"/>
<circle cx="98.1" cy="250.5" r="0.9" fill="#6a6a6a"/>
<circle cx="98.1" cy="272.0" r="0.9" fill="#6a6a6a"/>
<line x1="101.4" y1="236.7" x2="101.4" y2="300" stroke="#bababa" stroke-width="1.3"/>
<circle cx="101.4" cy="236.7" r="1.0" fill="none" stroke="#666" stroke-width="0.7"/>
<circle cx="101.4" cy="283.1" r="0.9" fill="#6a6a6a"/>
<circle cx="101.4" cy="263.2" r="0.9" fill="#6a6a6a"/>
<line x1="104.9" y1="254.1" x2="104.9" y2="300" stroke="#c2c2c2" stroke-width="1.3"/>
<circle cx="104.9" cy="254.1" r="1.0" fill="none" stroke="#666" stroke-width="0.7"/>
<circle cx="104.9" cy="278.9" r="0.9" fill="#6a6a6a"/>
<circle cx="104.9" cy="295.2" r="0.9" fill="#6a6a6a"/>
<circle cx="104.9" cy="297.1" r="0.9" fill="#6a6a6a"/>
<line x1="107.4" y1="227.9" x2="107.4" y2="300" stroke="#b0b0b0" stroke-width="1.3"/>
<circle cx="107.4" cy="227.9" r="1.0" fill="none" stroke="#666" stroke-width="0.7"/>
<circle cx="107.4" cy="263.6" r="0.9" fill="#6a6a6a"/>
<circle cx="107.4" cy="275.1" r="0.9" fill="#6a6a6a"/>
<line x1="110.2" y1="239.8" x2="110.2" y2="300" stroke="#b0b0b0" stroke-width="1.3"/>
<circle cx="110.2" cy="239.8" r="1.0" fill="none" stroke="#666" stroke-width="0.7"/>
<circle cx="110.2" cy="284.4" r="0.9" fill="#6a6a6a"/>
<circle cx="110.2" cy="247.5" r="0.9" fill="#6a6a6a"/>
<line x1="112.7" y1="239.5" x2="112.7" y2="300" stroke="#c2c2c2" stroke-width="1.3"/>
<circle cx="112.7" cy="239.5" r="1.0" fill="none" stroke="#666" stroke-width="0.7"/>
<circle cx="112.7" cy="257.1" r="0.9" fill="#6a6a6a"/>
<circle cx="112.7" cy="246.0" r="0.9" fill="#6a6a6a"/>
<circle cx="112.7" cy="258.8" r="0.9" fill="#6a6a6a"/>
<line x1="116.3" y1="260.7" x2="116.3" y2="300" stroke="#a8a8a8" stroke-width="1.3"/>
<circle cx="116.3" cy="260.7" r="1.0" fill="none" stroke="#666" stroke-width="0.7"/>
<circle cx="116.3" cy="269.3" r="0.9" fill="#6a6a6a"/>
<circle cx="116.3" cy="279.7" r="0.9" fill="#6a6a6a"/>
<circle cx="116.3" cy="275.7" r="0.9" fill="#6a6a6a"/>
<line x1="119.7" y1="241.8" x2="119.7" y2="300" stroke="#a0a0a0" stroke-width="1.3"/>
<circle cx="119.7" cy="241.8" r="1.0" fill="none" stroke="#666" stroke-width="0.7"/>
<circle cx="119.7" cy="295.2" r="0.9" fill="#6a6a6a"/>
<circle cx="119.7" cy="276.6" r="0.9" fill="#6a6a6a"/>
<circle cx="119.7" cy="294.0" r="0.9" fill="#6a6a6a"/>
<circle cx="119.7" cy="270.6" r="0.9" fill="#6a6a6a"/>
<line x1="122.1" y1="242.0" x2="122.1" y2="300" stroke="#a8a8a8" stroke-width="1.3"/>
<circle cx="122.1" cy="242.0" r="1.0" fill="none" stroke="#666" stroke-width="0.7"/>
<circle cx="122.1" cy="277.1" r="0.9" fill="#6a6a6a"/>
<circle cx="122.1" cy="249.9" r="0.9" fill="#6a6a6a"/>
<line x1="125.9" y1="231.1" x2="125.9" y2="300" stroke="#a8a8a8" stroke-width="1.3"/>
<circle cx="125.9" cy="231.1" r="1.0" fill="none" stroke="#666" stroke-width="0.7"/>
<circle cx="125.9" cy="254.7" r="0.9" fill="#6a6a6a"/>
<circle cx="125.9" cy="243.7" r="0.9" fill="#6a6a6a"/>
<circle cx="125.9" cy="239.7" r="0.9" fill="#6a6a6a"/>
<circle cx="125.9" cy="263.6" r="0.9" fill="#6a6a6a"/>
<line x1="129.6" y1="239.0" x2="129.6" y2="300" stroke="#b0b0b0" stroke-width="1.3"/>
<circle cx="129.6" cy="239.0" r="1.0" fill="none" stroke="#666" stroke-width="0.7"/>
<circle cx="129.6" cy="262.3" r="0.9" fill="#6a6a6a"/>
<circle cx="129.6" cy="280.7" r="0.9" fill="#6a6a6a"/>
<circle cx="129.6" cy="292.5" r="0.9" fill="#6a6a6a"/>
<line x1="133.0" y1="235.2" x2="133.0" y2="300" stroke="#c2c2c2" stroke-width="1.3"/>
<circle cx="133.0" cy="235.2" r="1.0" fill="none" stroke="#666" stroke-width="0.7"/>
<circle cx="133.0" cy="290.0" r="0.9" fill="#6a6a6a"/>
<circle cx="133.0" cy="272.9" r="0.9" fill="#6a6a6a"/>
<line x1="136.2" y1="243.3" x2="136.2" y2="300" stroke="#a0a0a0" stroke-width="1.3"/>
<circle cx="136.2" cy="243.3" r="1.0" fill="none" stroke="#666" stroke-width="0.7"/>
<circle cx="136.2" cy="278.2" r="0.9" fill="#6a6a6a"/>
<circle cx="136.2" cy="251.4" r="0.9" fill="#6a6a6a"/>
<line x1="138.8" y1="243.3" x2="138.8" y2="300" stroke="#a8a8a8" stroke-width="1.3"/>
<circle cx="138.8" cy="243.3" r="1.0" fill="none" stroke="#666" stroke-width="0.7"/>
<circle cx="138.8" cy="291.9" r="0.9" fill="#6a6a6a"/>
<circle cx="138.8" cy="284.2" r="0.9" fill="#6a6a6a"/>
<circle cx="138.8" cy="267.0" r="0.9" fill="#6a6a6a"/>
<line x1="141.3" y1="238.2" x2="141.3" y2="300" stroke="#c2c2c2" stroke-width="1.3"/>
<circle cx="141.3" cy="238.2" r="1.0" fill="none" stroke="#666" stroke-width="0.7"/>
<circle cx="141.3" cy="289.0" r="0.9" fill="#6a6a6a"/>
<circle cx="141.3" cy="246.9" r="0.9" fill="#6a6a6a"/>
<circle cx="141.3" cy="284.1" r="0.9" fill="#6a6a6a"/>
<line x1="144.4" y1="248.9" x2="144.4" y2="300" stroke="#a8a8a8" stroke-width="1.3"/>
<circle cx="144.4" cy="248.9" r="1.0" fill="none" stroke="#666" stroke-width="0.7"/>
<circle cx="144.4" cy="280.0" r="0.9" fill="#6a6a6a"/>
<circle cx="144.4" cy="274.6" r="0.9" fill="#6a6a6a"/>
<circle cx="144.4" cy="263.3" r="0.9" fill="#6a6a6a"/>
<line x1="146.9" y1="240.5" x2="146.9" y2="300" stroke="#a0a0a0" stroke-width="1.3"/>
<circle cx="146.9" cy="240.5" r="1.0" fill="none" stroke="#666" stroke-width="0.7"/>
<circle cx="146.9" cy="293.7" r="0.9" fill="#6a6a6a"/>
<circle cx="146.9" cy="258.2" r="0.9" fill="#6a6a6a"/>
<circle cx="146.9" cy="245.1" r="0.9" fill="#6a6a6a"/>
<circle cx="146.9" cy="260.6" r="0.9" fill="#6a6a6a"/>
<line x1="149.5" y1="247.1" x2="149.5" y2="300" stroke="#a0a0a0" stroke-width="1.3"/>
<circle cx="149.5" cy="247.1" r="1.0" fill="none" stroke="#666" stroke-width="0.7"/>
<circle cx="149.5" cy="275.4" r="0.9" fill="#6a6a6a"/>
<circle cx="149.5" cy="286.4" r="0.9" fill="#6a6a6a"/>
<line x1="152.3" y1="248.5" x2="152.3" y2="300" stroke="#c2c2c2" stroke-width="1.3"/>
<circle cx="152.3" cy="248.5" r="1.0" fill="none" stroke="#666" stroke-width="0.7"/>
<circle cx="152.3" cy="267.3" r="0.9" fill="#6a6a6a"/>
<circle cx="152.3" cy="282.8" r="0.9" fill="#6a6a6a"/>
<line x1="154.7" y1="219.9" x2="154.7" y2="300" stroke="#b0b0b0" stroke-width="1.3"/>
<circle cx="154.7" cy="219.9" r="1.0" fill="none" stroke="#666" stroke-width="0.7"/>
<circle cx="154.7" cy="255.8" r="0.9" fill="#6a6a6a"/>
<circle cx="154.7" cy="283.6" r="0.9" fill="#6a6a6a"/>
<circle cx="154.7" cy="291.6" r="0.9" fill="#6a6a6a"/>
<circle cx="154.7" cy="289.1" r="0.9" fill="#6a6a6a"/>
<line x1="157.8" y1="246.0" x2="157.8" y2="300" stroke="#bababa" stroke-width="1.3"/>
<circle cx="157.8" cy="246.0" r="1.0" fill="none" stroke="#666" stroke-width="0.7"/>
<circle cx="157.8" cy="256.5" r="0.9" fill="#6a6a6a"/>
<circle cx="157.8" cy="273.8" r="0.9" fill="#6a6a6a"/>
<line x1="160.8" y1="229.3" x2="160.8" y2="300" stroke="#a8a8a8" stroke-width="1.3"/>
<circle cx="160.8" cy="229.3" r="1.0" fill="none" stroke="#666" stroke-width="0.7"/>
<circle cx="160.8" cy="237.5" r="0.9" fill="#6a6a6a"/>
<circle cx="160.8" cy="296.7" r="0.9" fill="#6a6a6a"/>
<circle cx="160.8" cy="286.5" r="0.9" fill="#6a6a6a"/>
<circle cx="160.8" cy="240.6" r="0.9" fill="#6a6a6a"/>
<line x1="164.4" y1="257.2" x2="164.4" y2="300" stroke="#c2c2c2" stroke-width="1.3"/>
<circle cx="164.4" cy="257.2" r="1.0" fill="none" stroke="#666" stroke-width="0.7"/>
<circle cx="164.4" cy="284.2" r="0.9" fill="#6a6a6a"/>
<circle cx="164.4" cy="279.4" r="0.9" fill="#6a6a6a"/>
<circle cx="164.4" cy="272.8" r="0.9" fill="#6a6a6a"/>
<line x1="167.5" y1="233.5" x2="167.5" y2="300" stroke="#a0a0a0" stroke-width="1.3"/>
<circle cx="167.5" cy="233.5" r="1.0" fill="none" stroke="#666" stroke-width="0.7"/>
<circle cx="167.5" cy="256.9" r="0.9" fill="#6a6a6a"/>
<circle cx="167.5" cy="287.6" r="0.9" fill="#6a6a6a"/>
<circle cx="167.5" cy="254.3" r="0.9" fill="#6a6a6a"/>
<line x1="170.8" y1="247.6" x2="170.8" y2="300" stroke="#bababa" stroke-width="1.3"/>
<circle cx="170.8" cy="247.6" r="1.0" fill="none" stroke="#666" stroke-width="0.7"/>
<circle cx="170.8" cy="268.1" r="0.9" fill="#6a6a6a"/>
<circle cx="170.8" cy="281.7" r="0.9" fill="#6a6a6a"/>
<circle cx="170.8" cy="277.8" r="0.9" fill="#6a6a6a"/>
<circle cx="170.8" cy="281.4" r="0.9" fill="#6a6a6a"/>
<line x1="173.9" y1="245.5" x2="173.9" y2="300" stroke="#c2c2c2" stroke-width="1.3"/>
<circle cx="173.9" cy="245.5" r="1.0" fill="none" stroke="#666" stroke-width="0.7"/>
<circle cx="173.9" cy="258.7" r="0.9" fill="#6a6a6a"/>
<circle cx="173.9" cy="286.8" r="0.9" fill="#6a6a6a"/>
<circle cx="173.9" cy="262.5" r="0.9" fill="#6a6a6a"/>
<line x1="177.2" y1="234.2" x2="177.2" y2="300" stroke="#a8a8a8" stroke-width="1.3"/>
<circle cx="177.2" cy="234.2" r="1.0" fill="none" stroke="#666" stroke-width="0.7"/>
<circle cx="177.2" cy="244.7" r="0.9" fill="#6a6a6a"/>
<circle cx="177.2" cy="270.2" r="0.9" fill="#6a6a6a"/>
<circle cx="177.2" cy="276.5" r="0.9" fill="#6a6a6a"/>
<line x1="180.3" y1="252.8" x2="180.3" y2="300" stroke="#bababa" stroke-width="1.3"/>
<circle cx="180.3" cy="252.8" r="1.0" fill="none" stroke="#666" stroke-width="0.7"/>
<circle cx="180.3" cy="285.0" r="0.9" fill="#6a6a6a"/>
<circle cx="180.3" cy="265.0" r="0.9" fill="#6a6a6a"/>
<line x1="183.1" y1="242.7" x2="183.1" y2="300" stroke="#a8a8a8" stroke-width="1.3"/>
<circle cx="183.1" cy="242.7" r="1.0" fill="none" stroke="#666" stroke-width="0.7"/>
<circle cx="183.1" cy="274.1" r="0.9" fill="#6a6a6a"/>
<circle cx="183.1" cy="248.5" r="0.9" fill="#6a6a6a"/>
<circle cx="183.1" cy="258.3" r="0.9" fill="#6a6a6a"/>
<line x1="186.8" y1="236.3" x2="186.8" y2="300" stroke="#bababa" stroke-width="1.3"/>
<circle cx="186.8" cy="236.3" r="1.0" fill="none" stroke="#666" stroke-width="0.7"/>
<circle cx="186.8" cy="280.5" r="0.9" fill="#6a6a6a"/>
<circle cx="186.8" cy="270.3" r="0.9" fill="#6a6a6a"/>
<circle cx="186.8" cy="275.7" r="0.9" fill="#6a6a6a"/>
<circle cx="186.8" cy="283.9" r="0.9" fill="#6a6a6a"/>
<line x1="190.6" y1="249.5" x2="190.6" y2="300" stroke="#b0b0b0" stroke-width="1.3"/>
<circle cx="190.6" cy="249.5" r="1.0" fill="none" stroke="#666" stroke-width="0.7"/>
<circle cx="190.6" cy="271.8" r="0.9" fill="#6a6a6a"/>
<circle cx="190.6" cy="293.2" r="0.9" fill="#6a6a6a"/>
<line x1="194.2" y1="227.3" x2="194.2" y2="300" stroke="#c2c2c2" stroke-width="1.3"/>
<circle cx="194.2" cy="227.3" r="1.0" fill="none" stroke="#666" stroke-width="0.7"/>
<circle cx="194.2" cy="261.4" r="0.9" fill="#6a6a6a"/>
<circle cx="194.2" cy="244.5" r="0.9" fill="#6a6a6a"/>
<line x1="197.6" y1="236.4" x2="197.6" y2="300" stroke="#a0a0a0" stroke-width="1.3"/>
<circle cx="197.6" cy="236.4" r="1.0" fill="none" stroke="#666" stroke-width="0.7"/>
<circle cx="197.6" cy="278.0" r="0.9" fill="#6a6a6a"/>
<circle cx="197.6" cy="269.3" r="0.9" fill="#6a6a6a"/>
<circle cx="197.6" cy="287.6" r="0.9" fill="#6a6a6a"/>
<circle cx="197.6" cy="260.1" r="0.9" fill="#6a6a6a"/>
<line x1="200.4" y1="237.8" x2="200.4" y2="300" stroke="#bababa" stroke-width="1.3"/>
<circle cx="200.4" cy="237.8" r="1.0" fill="none" stroke="#666" stroke-width="0.7"/>
<circle cx="200.4" cy="297.0" r="0.9" fill="#6a6a6a"/>
<circle cx="200.4" cy="247.4" r="0.9" fill="#6a6a6a"/>
<circle cx="200.4" cy="290.5" r="0.9" fill="#6a6a6a"/>
<circle cx="200.4" cy="286.7" r="0.9" fill="#6a6a6a"/>
<line x1="203.2" y1="233.1" x2="203.2" y2="300" stroke="#b0b0b0" stroke-width="1.3"/>
<circle cx="203.2" cy="233.1" r="1.0" fill="none" stroke="#666" stroke-width="0.7"/>
<circle cx="203.2" cy="296.8" r="0.9" fill="#6a6a6a"/>
<circle cx="203.2" cy="296.6" r="0.9" fill="#6a6a6a"/>
<circle cx="203.2" cy="269.8" r="0.9" fill="#6a6a6a"/>
<line x1="206.0" y1="239.2" x2="206.0" y2="300" stroke="#bababa" stroke-width="1.3"/>
<circle cx="206.0" cy="239.2" r="1.0" fill="none" stroke="#666" stroke-width="0.7"/>
<circle cx="206.0" cy="293.1" r="0.9" fill="#6a6a6a"/>
<circle cx="206.0" cy="290.1" r="0.9" fill="#6a6a6a"/>
<circle cx="206.0" cy="262.3" r="0.9" fill="#6a6a6a"/>
<line x1="208.5" y1="228.8" x2="208.5" y2="300" stroke="#a0a0a0" stroke-width="1.3"/>
<circle cx="208.5" cy="228.8" r="1.0" fill="none" stroke="#666" stroke-width="0.7"/>
<circle cx="208.5" cy="282.9" r="0.9" fill="#6a6a6a"/>
<circle cx="208.5" cy="264.6" r="0.9" fill="#6a6a6a"/>
<circle cx="208.5" cy="234.6" r="0.9" fill="#6a6a6a"/>
<line x1="211.9" y1="232.4" x2="211.9" y2="300" stroke="#a8a8a8" stroke-width="1.3"/>
<circle cx="211.9" cy="232.4" r="1.0" fill="none" stroke="#666" stroke-width="0.7"/>
<circle cx="211.9" cy="285.7" r="0.9" fill="#6a6a6a"/>
<circle cx="211.9" cy="247.0" r="0.9" fill="#6a6a6a"/>
<circle cx="211.9" cy="257.0" r="0.9" fill="#6a6a6a"/>
<line x1="214.9" y1="236.0" x2="214.9" y2="300" stroke="#b0b0b0" stroke-width="1.3"/>
<circle cx="214.9" cy="236.0" r="1.0" fill="none" stroke="#666" stroke-width="0.7"/>
<circle cx="214.9" cy="292.2" r="0.9" fill="#6a6a6a"/>
<circle cx="214.9" cy="270.0" r="0.9" fill="#6a6a6a"/>
<circle cx="214.9" cy="279.3" r="0.9" fill="#6a6a6a"/>
<circle cx="214.9" cy="265.5" r="0.9" fill="#6a6a6a"/>
<line x1="218.5" y1="241.9" x2="218.5" y2="300" stroke="#c2c2c2" stroke-width="1.3"/>
<circle cx="218.5" cy="241.9" r="1.0" fill="none" stroke="#666" stroke-width="0.7"/>
<circle cx="218.5" cy="295.4" r="0.9" fill="#6a6a6a"/>
<circle cx="218.5" cy="250.4" r="0.9" fill="#6a6a6a"/>
<circle cx="218.5" cy="257.4" r="0.9" fill="#6a6a6a"/>
<circle cx="218.5" cy="273.3" r="0.9" fill="#6a6a6a"/>
<line x1="221.4" y1="240.7" x2="221.4" y2="300" stroke="#b0b0b0" stroke-width="1.3"/>
<circle cx="221.4" cy="240.7" r="1.0" fill="none" stroke="#666" stroke-width="0.7"/>
<circle cx="221.4" cy="272.1" r="0.9" fill="#6a6a6a"/>
<circle cx="221.4" cy="293.1" r="0.9" fill="#6a6a6a"/>
<circle cx="221.4" cy="258.4" r="0.9" fill="#6a6a6a"/>
<circle cx="221.4" cy="280.5" r="0.9" fill="#6a6a6a"/>
<line x1="225.2" y1="223.2" x2="225.2" y2="300" stroke="#a0a0a0" stroke-width="1.3"/>
<circle cx="225.2" cy="223.2" r="1.0" fill="none" stroke="#666" stroke-width="0.7"/>
<circle cx="225.2" cy="248.7" r="0.9" fill="#6a6a6a"/>
<circle cx="225.2" cy="237.2" r="0.9" fill="#6a6a6a"/>
<line x1="228.8" y1="244.0" x2="228.8" y2="300" stroke="#c2c2c2" stroke-width="1.3"/>
<circle cx="228.8" cy="244.0" r="1.0" fill="none" stroke="#666" stroke-width="0.7"/>
<circle cx="228.8" cy="268.5" r="0.9" fill="#6a6a6a"/>
<circle cx="228.8" cy="253.7" r="0.9" fill="#6a6a6a"/>
<line x1="231.2" y1="239.1" x2="231.2" y2="300" stroke="#a8a8a8" stroke-width="1.3"/>
<circle cx="231.2" cy="239.1" r="1.0" fill="none" stroke="#666" stroke-width="0.7"/>
<circle cx="231.2" cy="263.8" r="0.9" fill="#6a6a6a"/>
<circle cx="231.2" cy="272.7" r="0.9" fill="#6a6a6a"/>
<circle cx="231.2" cy="245.5" r="0.9" fill="#6a6a6a"/>
<circle cx="231.2" cy="293.5" r="0.9" fill="#6a6a6a"/>
<line x1="233.9" y1="263.0" x2="233.9" y2="300" stroke="#a8a8a8" stroke-width="1.3"/>
<circle cx="233.9" cy="263.0" r="1.0" fill="none" stroke="#666" stroke-width="0.7"/>
<circle cx="233.9" cy="269.9" r="0.9" fill="#6a6a6a"/>
<circle cx="233.9" cy="272.2" r="0.9" fill="#6a6a6a"/>
<circle cx="233.9" cy="295.9" r="0.9" fill="#6a6a6a"/>
<line x1="237.5" y1="244.5" x2="237.5" y2="300" stroke="#c2c2c2" stroke-width="1.3"/>
<circle cx="237.5" cy="244.5" r="1.0" fill="none" stroke="#666" stroke-width="0.7"/>
<circle cx="237.5" cy="294.1" r="0.9" fill="#6a6a6a"/>
<circle cx="237.5" cy="288.1" r="0.9" fill="#6a6a6a"/>
<circle cx="237.5" cy="268.5" r="0.9" fill="#6a6a6a"/>
<line x1="240.6" y1="236.9" x2="240.6" y2="300" stroke="#bababa" stroke-width="1.3"/>
<circle cx="240.6" cy="236.9" r="1.0" fill="none" stroke="#666" stroke-width="0.7"/>
<circle cx="240.6" cy="292.3" r="0.9" fill="#6a6a6a"/>
<circle cx="240.6" cy="294.3" r="0.9" fill="#6a6a6a"/>
<circle cx="240.6" cy="293.4" r="0.9" fill="#6a6a6a"/>
<line x1="244.4" y1="226.7" x2="244.4" y2="300" stroke="#a0a0a0" stroke-width="1.3"/>
<circle cx="244.4" cy="226.7" r="1.0" fill="none" stroke="#666" stroke-width="0.7"/>
<circle cx="244.4" cy="238.0" r="0.9" fill="#6a6a6a"/>
<circle cx="244.4" cy="259.0" r="0.9" fill="#6a6a6a"/>
<circle cx="244.4" cy="232.7" r="0.9" fill="#6a6a6a"/>
<line x1="247.3" y1="238.0" x2="247.3" y2="300" stroke="#a8a8a8" stroke-width="1.3"/>
<circle cx="247.3" cy="238.0" r="1.0" fill="none" stroke="#666" stroke-width="0.7"/>
<circle cx="247.3" cy="252.9" r="0.9" fill="#6a6a6a"/>
<circle cx="247.3" cy="254.8" r="0.9" fill="#6a6a6a"/>
<line x1="249.8" y1="223.3" x2="249.8" y2="300" stroke="#bababa" stroke-width="1.3"/>
<circle cx="249.8" cy="223.3" r="1.0" fill="none" stroke="#666" stroke-width="0.7"/>
<circle cx="249.8" cy="278.5" r="0.9" fill="#6a6a6a"/>
<circle cx="249.8" cy="244.6" r="0.9" fill="#6a6a6a"/>
<circle cx="249.8" cy="262.6" r="0.9" fill="#6a6a6a"/>
<line x1="253.1" y1="248.9" x2="253.1" y2="300" stroke="#a0a0a0" stroke-width="1.3"/>
<circle cx="253.1" cy="248.9" r="1.0" fill="none" stroke="#666" stroke-width="0.7"/>
<circle cx="253.1" cy="264.2" r="0.9" fill="#6a6a6a"/>
<circle cx="253.1" cy="261.8" r="0.9" fill="#6a6a6a"/>
<circle cx="253.1" cy="276.8" r="0.9" fill="#6a6a6a"/>
<circle cx="253.1" cy="272.6" r="0.9" fill="#6a6a6a"/>
<line x1="256.6" y1="237.1" x2="256.6" y2="300" stroke="#c2c2c2" stroke-width="1.3"/>
<circle cx="256.6" cy="237.1" r="1.0" fill="none" stroke="#666" stroke-width="0.7"/>
<circle cx="256.6" cy="264.6" r="0.9" fill="#6a6a6a"/>
<circle cx="256.6" cy="271.2" r="0.9" fill="#6a6a6a"/>
<circle cx="256.6" cy="250.2" r="0.9" fill="#6a6a6a"/>
<circle cx="256.6" cy="252.7" r="0.9" fill="#6a6a6a"/>
<line x1="259.4" y1="245.8" x2="259.4" y2="300" stroke="#a0a0a0" stroke-width="1.3"/>
<circle cx="259.4" cy="245.8" r="1.0" fill="none" stroke="#666" stroke-width="0.7"/>
<circle cx="259.4" cy="290.8" r="0.9" fill="#6a6a6a"/>
<circle cx="259.4" cy="279.3" r="0.9" fill="#6a6a6a"/>
<line x1="261.9" y1="246.5" x2="261.9" y2="300" stroke="#b0b0b0" stroke-width="1.3"/>
<circle cx="261.9" cy="246.5" r="1.0" fill="none" stroke="#666" stroke-width="0.7"/>
<circle cx="261.9" cy="294.0" r="0.9" fill="#6a6a6a"/>
<circle cx="261.9" cy="280.3" r="0.9" fill="#6a6a6a"/>
<line x1="264.8" y1="240.4" x2="264.8" y2="300" stroke="#a0a0a0" stroke-width="1.3"/>
<circle cx="264.8" cy="240.4" r="1.0" fill="none" stroke="#666" stroke-width="0.7"/>
<circle cx="264.8" cy="292.1" r="0.9" fill="#6a6a6a"/>
<circle cx="264.8" cy="254.8" r="0.9" fill="#6a6a6a"/>
<circle cx="264.8" cy="286.1" r="0.9" fill="#6a6a6a"/>
<line x1="268.5" y1="232.5" x2="268.5" y2="300" stroke="#b0b0b0" stroke-width="1.3"/>
<circle cx="268.5" cy="232.5" r="1.0" fill="none" stroke="#666" stroke-width="0.7"/>
<circle cx="268.5" cy="244.8" r="0.9" fill="#6a6a6a"/>
<circle cx="268.5" cy="251.2" r="0.9" fill="#6a6a6a"/>
<line x1="272.0" y1="238.2" x2="272.0" y2="300" stroke="#a8a8a8" stroke-width="1.3"/>
<circle cx="272.0" cy="238.2" r="1.0" fill="none" stroke="#666" stroke-width="0.7"/>
<circle cx="272.0" cy="288.6" r="0.9" fill="#6a6a6a"/>
<circle cx="272.0" cy="265.7" r="0.9" fill="#6a6a6a"/>
<circle cx="272.0" cy="286.3" r="0.9" fill="#6a6a6a"/>
<line x1="274.5" y1="244.0" x2="274.5" y2="300" stroke="#b0b0b0" stroke-width="1.3"/>
<circle cx="274.5" cy="244.0" r="1.0" fill="none" stroke="#666" stroke-width="0.7"/>
<circle cx="274.5" cy="268.1" r="0.9" fill="#6a6a6a"/>
<circle cx="274.5" cy="282.3" r="0.9" fill="#6a6a6a"/>
<line x1="277.3" y1="231.2" x2="277.3" y2="300" stroke="#bababa" stroke-width="1.3"/>
<circle cx="277.3" cy="231.2" r="1.0" fill="none" stroke="#666" stroke-width="0.7"/>
<circle cx="277.3" cy="242.4" r="0.9" fill="#6a6a6a"/>
<circle cx="277.3" cy="267.0" r="0.9" fill="#6a6a6a"/>
<circle cx="277.3" cy="282.8" r="0.9" fill="#6a6a6a"/>
<line x1="279.8" y1="236.5" x2="279.8" y2="300" stroke="#a0a0a0" stroke-width="1.3"/>
<circle cx="279.8" cy="236.5" r="1.0" fill="none" stroke="#666" stroke-width="0.7"/>
<circle cx="279.8" cy="288.4" r="0.9" fill="#6a6a6a"/>
<circle cx="279.8" cy="286.7" r="0.9" fill="#6a6a6a"/>
<circle cx="279.8" cy="268.2" r="0.9" fill="#6a6a6a"/>
<circle cx="279.8" cy="241.9" r="0.9" fill="#6a6a6a"/>
<line x1="282.3" y1="236.2" x2="282.3" y2="300" stroke="#a0a0a0" stroke-width="1.3"/>
<circle cx="282.3" cy="236.2" r="1.0" fill="none" stroke="#666" stroke-width="0.7"/>
<circle cx="282.3" cy="248.7" r="0.9" fill="#6a6a6a"/>
<circle cx="282.3" cy="250.9" r="0.9" fill="#6a6a6a"/>
<circle cx="282.3" cy="252.0" r="0.9" fill="#6a6a6a"/>
<line x1="285.8" y1="249.4" x2="285.8" y2="300" stroke="#b0b0b0" stroke-width="1.3"/>
<circle cx="285.8" cy="249.4" r="1.0" fill="none" stroke="#666" stroke-width="0.7"/>
<circle cx="285.8" cy="294.7" r="0.9" fill="#6a6a6a"/>
<circle cx="285.8" cy="257.7" r="0.9" fill="#6a6a6a"/>
<circle cx="285.8" cy="256.2" r="0.9" fill="#6a6a6a"/>
<line x1="288.5" y1="227.7" x2="288.5" y2="300" stroke="#a8a8a8" stroke-width="1.3"/>
<circle cx="288.5" cy="227.7" r="1.0" fill="none" stroke="#666" stroke-width="0.7"/>
<circle cx="288.5" cy="257.6" r="0.9" fill="#6a6a6a"/>
<circle cx="288.5" cy="260.0" r="0.9" fill="#6a6a6a"/>
<circle cx="288.5" cy="255.2" r="0.9" fill="#6a6a6a"/>
<line x1="291.6" y1="240.1" x2="291.6" y2="300" stroke="#b0b0b0" stroke-width="1.3"/>
<circle cx="291.6" cy="240.1" r="1.0" fill="none" stroke="#666" stroke-width="0.7"/>
<circle cx="291.6" cy="264.2" r="0.9" fill="#6a6a6a"/>
<circle cx="291.6" cy="278.3" r="0.9" fill="#6a6a6a"/>
<circle cx="291.6" cy="246.3" r="0.9" fill="#6a6a6a"/>
<circle cx="291.6" cy="254.9" r="0.9" fill="#6a6a6a"/>
<line x1="294.7" y1="244.2" x2="294.7" y2="300" stroke="#bababa" stroke-width="1.3"/>
<circle cx="294.7" cy="244.2" r="1.0" fill="none" stroke="#666" stroke-width="0.7"/>
<circle cx="294.7" cy="294.1" r="0.9" fill="#6a6a6a"/>
<circle cx="294.7" cy="278.3" r="0.9" fill="#6a6a6a"/>
<circle cx="294.7" cy="252.9" r="0.9" fill="#6a6a6a"/>
<line x1="297.3" y1="232.5" x2="297.3" y2="300" stroke="#a8a8a8" stroke-width="1.3"/>
<circle cx="297.3" cy="232.5" r="1.0" fill="none" stroke="#666" stroke-width="0.7"/>
<circle cx="297.3" cy="291.4" r="0.9" fill="#6a6a6a"/>
<circle cx="297.3" cy="285.8" r="0.9" fill="#6a6a6a"/>
<circle cx="297.3" cy="279.8" r="0.9" fill="#6a6a6a"/>
<line x1="300.8" y1="229.1" x2="300.8" y2="300" stroke="#c2c2c2" stroke-width="1.3"/>
<circle cx="300.8" cy="229.1" r="1.0" fill="none" stroke="#666" stroke-width="0.7"/>
<circle cx="300.8" cy="272.0" r="0.9" fill="#6a6a6a"/>
<circle cx="300.8" cy="265.8" r="0.9" fill="#6a6a6a"/>
<circle cx="300.8" cy="296.9" r="0.9" fill="#6a6a6a"/>
<circle cx="300.8" cy="285.3" r="0.9" fill="#6a6a6a"/>
<rect x="72.0" y="302" width="232.2" height="36.5" fill="#2e2d2e"/>
<path d="M72.0,302.5 V300.5 M72.5,302.5 V296.2 M72.9,302.5 V295.5 M73.4,302.5 V294.6 M73.8,302.5 V296.7 M74.3,302.5 V296.0 M74.7,302.5 V296.4 M75.2,302.5 V299.9 M75.6,302.5 V302.0 M76.1,302.5 V297.3 M76.5,302.5 V300.7 M77.0,302.5 V297.0 M77.4,302.5 V297.0 M77.9,302.5 V298.2 M78.3,302.5 V293.5 M78.8,302.5 V296.6 M79.2,302.5 V293.7 M79.7,302.5 V297.5 M80.1,302.5 V300.5 M80.6,302.5 V301.8 M81.0,302.5 V299.6 M81.5,302.5 V300.6 M81.9,302.5 V298.1 M82.4,302.5 V293.9 M82.8,302.5 V293.6 M83.3,302.5 V295.5 M83.7,302.5 V297.6 M84.2,302.5 V301.8 M84.6,302.5 V301.2 M85.1,302.5 V301.2 M85.5,302.5 V297.5 M86.0,302.5 V294.1 M86.4,302.5 V298.3 M86.9,302.5 V299.7 M87.3,302.5 V297.1 M87.8,302.5 V300.3 M88.2,302.5 V300.3 M88.7,302.5 V300.6 M89.1,302.5 V301.2 M89.6,302.5 V299.5 M90.0,302.5 V296.2 M90.5,302.5 V293.6 M90.9,302.5 V301.7 M91.4,302.5 V299.2 M91.8,302.5 V293.8 M92.3,302.5 V298.3 M92.7,302.5 V296.4 M93.2,302.5 V293.7 M93.6,302.5 V297.6 M94.1,302.5 V297.4 M94.5,302.5 V300.9 M95.0,302.5 V298.3 M95.4,302.5 V299.1 M95.9,302.5 V298.9 M96.3,302.5 V297.8 M96.8,302.5 V295.9 M97.2,302.5 V293.5 M97.7,302.5 V296.3 M98.1,302.5 V301.5 M98.6,302.5 V295.8 M99.0,302.5 V299.8 M99.5,302.5 V296.8 M99.9,302.5 V297.7 M100.4,302.5 V296.1 M100.8,302.5 V300.6 M101.3,302.5 V294.4 M101.7,302.5 V301.9 M102.2,302.5 V300.4 M102.6,302.5 V297.4 M103.1,302.5 V298.2 M103.5,302.5 V301.6 M104.0,302.5 V298.1 M104.4,302.5 V299.6 M104.9,302.5 V300.9 M105.3,302.5 V296.2 M105.8,302.5 V301.7 M106.2,302.5 V295.5 M106.7,302.5 V296.0 M107.1,302.5 V299.2 M107.6,302.5 V295.5 M108.0,302.5 V297.1 M108.5,302.5 V300.0 M108.9,302.5 V296.2 M109.4,302.5 V299.2 M109.8,302.5 V301.6 M110.3,302.5 V301.7 M110.7,302.5 V298.0 M111.2,302.5 V296.8 M111.6,302.5 V295.9 M112.1,302.5 V300.9 M112.5,302.5 V301.7 M113.0,302.5 V296.4 M113.4,302.5 V300.4 M113.9,302.5 V299.8 M114.3,302.5 V299.7 M114.8,302.5 V296.6 M115.2,302.5 V294.4 M115.7,302.5 V294.4 M116.1,302.5 V295.6 M116.6,302.5 V300.1 M117.0,302.5 V294.2 M117.5,302.5 V300.6 M117.9,302.5 V299.7 M118.4,302.5 V299.5 M118.8,302.5 V301.0 M119.3,302.5 V295.7 M119.7,302.5 V295.3 M120.2,302.5 V301.1 M120.6,302.5 V294.8 M121.1,302.5 V301.9 M121.5,302.5 V298.1 M122.0,302.5 V293.9 M122.4,302.5 V295.6 M122.9,302.5 V298.1 M123.3,302.5 V301.7 M123.8,302.5 V296.3 M124.2,302.5 V301.7 M124.7,302.5 V301.3 M125.1,302.5 V297.2 M125.6,302.5 V300.8 M126.0,302.5 V298.4 M126.5,302.5 V299.5 M126.9,302.5 V293.8 M127.4,302.5 V298.6 M127.8,302.5 V296.4 M128.3,302.5 V294.4 M128.7,302.5 V295.4 M129.2,302.5 V295.1 M129.6,302.5 V295.3 M130.1,302.5 V294.0 M130.5,302.5 V298.3 M131.0,302.5 V295.6 M131.4,302.5 V299.2 M131.9,302.5 V296.2 M132.3,302.5 V299.6 M132.8,302.5 V300.9 M133.2,302.5 V300.3 M133.7,302.5 V301.8 M134.1,302.5 V301.5 M134.6,302.5 V295.9 M135.0,302.5 V301.8 M135.5,302.5 V297.8 M135.9,302.5 V301.9 M136.4,302.5 V301.1 M136.8,302.5 V300.7 M137.3,302.5 V297.7 M137.7,302.5 V301.1 M138.2,302.5 V301.1 M138.6,302.5 V300.1 M139.1,302.5 V295.5 M139.5,302.5 V300.5 M140.0,302.5 V294.4 M140.4,302.5 V298.1 M140.9,302.5 V298.7 M141.3,302.5 V301.8 M141.8,302.5 V295.6 M142.2,302.5 V298.3 M142.6,302.5 V300.4 M143.1,302.5 V297.1 M143.5,302.5 V302.0 M144.0,302.5 V299.7 M144.4,302.5 V296.5 M144.9,302.5 V301.2 M145.3,302.5 V300.1 M145.8,302.5 V294.9 M146.2,302.5 V297.3 M146.7,302.5 V300.5 M147.1,302.5 V301.3 M147.6,302.5 V302.0 M148.0,302.5 V295.2 M148.5,302.5 V301.7 M148.9,302.5 V296.5 M149.4,302.5 V298.7 M149.8,302.5 V294.0 M150.3,302.5 V295.0 M150.7,302.5 V295.8 M151.2,302.5 V294.4 M151.6,302.5 V295.4 M152.1,302.5 V298.2 M152.5,302.5 V301.2 M153.0,302.5 V300.1 M153.4,302.5 V301.7 M153.9,302.5 V298.8 M154.3,302.5 V299.8 M154.8,302.5 V301.5 M155.2,302.5 V298.9 M155.7,302.5 V295.3 M156.1,302.5 V302.0 M156.6,302.5 V296.6 M157.0,302.5 V298.0 M157.5,302.5 V302.0 M157.9,302.5 V295.6 M158.4,302.5 V297.5 M158.8,302.5 V299.6 M159.3,302.5 V300.2 M159.7,302.5 V299.5 M160.2,302.5 V300.6 M160.6,302.5 V296.3 M161.1,302.5 V294.1 M161.5,302.5 V296.4 M162.0,302.5 V295.4 M162.4,302.5 V301.3 M162.9,302.5 V296.9 M163.3,302.5 V301.1 M163.8,302.5 V295.3 M164.2,302.5 V301.6 M164.7,302.5 V301.2 M165.1,302.5 V299.4 M165.6,302.5 V294.4 M166.0,302.5 V298.4 M166.5,302.5 V296.0 M166.9,302.5 V299.5 M167.4,302.5 V299.3 M167.8,302.5 V299.4 M168.3,302.5 V293.7 M168.7,302.5 V297.0 M169.2,302.5 V302.0 M169.6,302.5 V299.9 M170.1,302.5 V301.5 M170.5,302.5 V298.5 M171.0,302.5 V295.4 M171.4,302.5 V301.2 M171.9,302.5 V294.6 M172.3,302.5 V299.8 M172.8,302.5 V301.3 M173.2,302.5 V293.6 M173.7,302.5 V296.5 M174.1,302.5 V301.0 M174.6,302.5 V297.4 M175.0,302.5 V301.7 M175.5,302.5 V297.8 M175.9,302.5 V300.0 M176.4,302.5 V299.7 M176.8,302.5 V301.4 M177.3,302.5 V301.4 M177.7,302.5 V298.2 M178.2,302.5 V298.0 M178.6,302.5 V294.5 M179.1,302.5 V295.5 M179.5,302.5 V301.4 M180.0,302.5 V300.3 M180.4,302.5 V300.7 M180.9,302.5 V295.3 M181.3,302.5 V298.1 M181.8,302.5 V301.9 M182.2,302.5 V293.6 M182.7,302.5 V297.1 M183.1,302.5 V296.9 M183.6,302.5 V299.6 M184.0,302.5 V295.6 M184.5,302.5 V301.0 M184.9,302.5 V301.3 M185.4,302.5 V297.9 M185.8,302.5 V298.4 M186.3,302.5 V297.9 M186.7,302.5 V297.2 M187.2,302.5 V296.9 M187.6,302.5 V293.9 M188.1,302.5 V298.8 M188.5,302.5 V297.4 M189.0,302.5 V296.1 M189.4,302.5 V298.7 M189.9,302.5 V295.2 M190.3,302.5 V299.3 M190.8,302.5 V297.9 M191.2,302.5 V298.3 M191.7,302.5 V299.1 M192.1,302.5 V300.1 M192.6,302.5 V296.4 M193.0,302.5 V296.3 M193.5,302.5 V296.1 M193.9,302.5 V297.7 M194.4,302.5 V301.4 M194.8,302.5 V298.5 M195.3,302.5 V301.8 M195.7,302.5 V298.3 M196.2,302.5 V300.2 M196.6,302.5 V300.7 M197.1,302.5 V294.5 M197.5,302.5 V297.0 M198.0,302.5 V299.2 M198.4,302.5 V300.8 M198.9,302.5 V297.9 M199.3,302.5 V301.6 M199.8,302.5 V301.4 M200.2,302.5 V294.0 M200.7,302.5 V300.6 M201.1,302.5 V300.0 M201.6,302.5 V294.6 M202.0,302.5 V299.4 M202.5,302.5 V297.8 M202.9,302.5 V301.9 M203.4,302.5 V300.2 M203.8,302.5 V294.2 M204.3,302.5 V298.8 M204.7,302.5 V300.3 M205.2,302.5 V294.6 M205.6,302.5 V295.2 M206.1,302.5 V298.8 M206.5,302.5 V294.8 M207.0,302.5 V300.9 M207.4,302.5 V301.0 M207.9,302.5 V301.8 M208.3,302.5 V296.4 M208.8,302.5 V294.6 M209.2,302.5 V296.5 M209.7,302.5 V296.7 M210.1,302.5 V299.0 M210.6,302.5 V300.8 M211.0,302.5 V296.5 M211.5,302.5 V301.1 M211.9,302.5 V297.0 M212.4,302.5 V299.6 M212.8,302.5 V294.8 M213.3,302.5 V300.7 M213.7,302.5 V294.3 M214.2,302.5 V300.4 M214.6,302.5 V301.6 M215.1,302.5 V299.1 M215.5,302.5 V298.3 M216.0,302.5 V297.6 M216.4,302.5 V300.6 M216.9,302.5 V301.6 M217.3,302.5 V296.1 M217.8,302.5 V300.4 M218.2,302.5 V301.0 M218.7,302.5 V293.6 M219.1,302.5 V298.9 M219.6,302.5 V299.5 M220.0,302.5 V298.5 M220.5,302.5 V298.0 M220.9,302.5 V299.8 M221.4,302.5 V295.8 M221.8,302.5 V298.5 M222.3,302.5 V296.8 M222.7,302.5 V294.0 M223.2,302.5 V295.8 M223.6,302.5 V297.5 M224.1,302.5 V299.1 M224.5,302.5 V295.8 M225.0,302.5 V300.7 M225.4,302.5 V300.8 M225.9,302.5 V298.6 M226.3,302.5 V297.7 M226.8,302.5 V297.9 M227.2,302.5 V301.1 M227.7,302.5 V302.0 M228.1,302.5 V299.1 M228.6,302.5 V300.5 M229.0,302.5 V301.7 M229.5,302.5 V297.9 M229.9,302.5 V295.7 M230.4,302.5 V301.3 M230.8,302.5 V301.9 M231.3,302.5 V297.4 M231.7,302.5 V300.5 M232.2,302.5 V301.6 M232.6,302.5 V301.1 M233.1,302.5 V301.2 M233.5,302.5 V295.3 M234.0,302.5 V301.8 M234.4,302.5 V299.7 M234.9,302.5 V293.8 M235.3,302.5 V298.6 M235.8,302.5 V293.7 M236.2,302.5 V298.9 M236.7,302.5 V301.9 M237.1,302.5 V294.7 M237.6,302.5 V299.5 M238.0,302.5 V299.2 M238.5,302.5 V301.9 M238.9,302.5 V296.0 M239.4,302.5 V300.7 M239.8,302.5 V298.1 M240.3,302.5 V298.9 M240.7,302.5 V299.7 M241.2,302.5 V293.7 M241.6,302.5 V301.9 M242.1,302.5 V297.1 M242.5,302.5 V299.9 M243.0,302.5 V295.0 M243.4,302.5 V294.7 M243.9,302.5 V299.5 M244.3,302.5 V299.6 M244.8,302.5 V300.8 M245.2,302.5 V301.1 M245.7,302.5 V301.2 M246.1,302.5 V300.9 M246.6,302.5 V300.2 M247.0,302.5 V293.6 M247.5,302.5 V295.0 M247.9,302.5 V299.6 M248.4,302.5 V296.7 M248.8,302.5 V300.4 M249.3,302.5 V301.1 M249.7,302.5 V299.5 M250.2,302.5 V296.5 M250.6,302.5 V299.7 M251.1,302.5 V294.2 M251.5,302.5 V296.0 M252.0,302.5 V294.5 M252.4,302.5 V300.1 M252.9,302.5 V301.7 M253.3,302.5 V300.0 M253.8,302.5 V298.4 M254.2,302.5 V299.5 M254.7,302.5 V301.9 M255.1,302.5 V297.7 M255.6,302.5 V300.1 M256.0,302.5 V298.1 M256.5,302.5 V296.6 M256.9,302.5 V296.4 M257.4,302.5 V301.3 M257.8,302.5 V300.4 M258.3,302.5 V299.4 M258.7,302.5 V295.0 M259.2,302.5 V300.3 M259.6,302.5 V300.8 M260.1,302.5 V301.9 M260.5,302.5 V297.9 M261.0,302.5 V293.8 M261.4,302.5 V296.9 M261.9,302.5 V300.8 M262.3,302.5 V297.0 M262.8,302.5 V294.9 M263.2,302.5 V297.3 M263.7,302.5 V299.2 M264.1,302.5 V301.8 M264.6,302.5 V300.0 M265.0,302.5 V300.4 M265.5,302.5 V299.4 M265.9,302.5 V301.2 M266.4,302.5 V300.7 M266.8,302.5 V299.9 M267.3,302.5 V301.3 M267.7,302.5 V296.6 M268.2,302.5 V296.7 M268.6,302.5 V299.5 M269.1,302.5 V301.8 M269.5,302.5 V301.8 M270.0,302.5 V297.8 M270.4,302.5 V300.0 M270.9,302.5 V301.9 M271.3,302.5 V294.7 M271.8,302.5 V300.5 M272.2,302.5 V301.0 M272.7,302.5 V297.5 M273.1,302.5 V299.7 M273.6,302.5 V294.1 M274.0,302.5 V297.4 M274.5,302.5 V299.3 M274.9,302.5 V300.4 M275.4,302.5 V294.8 M275.8,302.5 V294.5 M276.3,302.5 V301.4 M276.7,302.5 V300.2 M277.2,302.5 V293.8 M277.6,302.5 V301.0 M278.1,302.5 V296.8 M278.5,302.5 V302.0 M279.0,302.5 V299.5 M279.4,302.5 V298.6 M279.9,302.5 V298.1 M280.3,302.5 V298.0 M280.8,302.5 V293.8 M281.2,302.5 V299.9 M281.7,302.5 V300.1 M282.1,302.5 V296.7 M282.6,302.5 V293.9 M283.0,302.5 V301.2 M283.5,302.5 V298.6 M283.9,302.5 V299.7 M284.4,302.5 V296.2 M284.8,302.5 V300.7 M285.3,302.5 V300.0 M285.7,302.5 V298.4 M286.2,302.5 V301.8 M286.6,302.5 V301.6 M287.1,302.5 V301.5 M287.5,302.5 V295.9 M288.0,302.5 V301.2 M288.4,302.5 V294.9 M288.9,302.5 V300.6 M289.3,302.5 V295.7 M289.8,302.5 V296.5 M290.2,302.5 V296.5 M290.7,302.5 V300.0 M291.1,302.5 V295.2 M291.6,302.5 V297.9 M292.0,302.5 V296.6 M292.5,302.5 V295.3 M292.9,302.5 V301.4 M293.4,302.5 V297.0 M293.8,302.5 V301.1 M294.3,302.5 V297.8 M294.7,302.5 V293.8 M295.2,302.5 V296.8 M295.6,302.5 V297.3 M296.1,302.5 V294.2 M296.5,302.5 V301.8 M297.0,302.5 V301.5 M297.4,302.5 V300.3 M297.9,302.5 V293.6 M298.3,302.5 V300.0 M298.8,302.5 V298.2 M299.2,302.5 V299.6 M299.7,302.5 V295.6 M300.1,302.5 V300.3 M300.6,302.5 V297.5 M301.0,302.5 V293.7 M301.5,302.5 V296.7 M301.9,302.5 V295.6 M302.4,302.5 V301.1 M302.8,302.5 V294.2 M303.3,302.5 V298.7 M303.7,302.5 V300.0 M304.2,302.5 V297.9" stroke="#323132" stroke-width="0.7" fill="none"/>
<path d="M72.0,338 V346.8 M72.5,338 V345.0 M72.9,338 V340.8 M73.4,338 V346.4 M73.8,338 V344.9 M74.3,338 V340.8 M74.7,338 V338.2 M75.2,338 V341.5 M75.6,338 V340.4 M76.1,338 V343.2 M76.5,338 V347.2 M77.0,338 V340.2 M77.4,338 V342.5 M77.9,338 V340.7 M78.3,338 V343.4 M78.8,338 V344.8 M79.2,338 V338.1 M79.7,338 V344.5 M80.1,338 V340.8 M80.6,338 V339.0 M81.0,338 V338.4 M81.5,338 V346.7 M81.9,338 V341.9 M82.4,338 V342.5 M82.8,338 V343.3 M83.3,338 V338.3 M83.7,338 V344.8 M84.2,338 V347.0 M84.6,338 V341.5 M85.1,338 V341.7 M85.5,338 V338.2 M86.0,338 V341.0 M86.4,338 V342.9 M86.9,338 V339.7 M87.3,338 V342.4 M87.8,338 V344.3 M88.2,338 V338.0 M88.7,338 V338.1 M89.1,338 V344.7 M89.6,338 V346.6 M90.0,338 V338.2 M90.5,338 V347.2 M90.9,338 V346.7 M91.4,338 V341.6 M91.8,338 V339.4 M92.3,338 V347.1 M92.7,338 V341.5 M93.2,338 V345.5 M93.6,338 V338.5 M94.1,338 V341.3 M94.5,338 V338.2 M95.0,338 V338.5 M95.4,338 V343.7 M95.9,338 V339.5 M96.3,338 V341.0 M96.8,338 V342.1 M97.2,338 V347.3 M97.7,338 V339.3 M98.1,338 V346.5 M98.6,338 V343.2 M99.0,338 V339.6 M99.5,338 V342.5 M99.9,338 V343.3 M100.4,338 V339.0 M100.8,338 V347.7 M101.3,338 V346.3 M101.7,338 V338.2 M102.2,338 V341.0 M102.6,338 V338.4 M103.1,338 V338.3 M103.5,338 V343.8 M104.0,338 V343.2 M104.4,338 V341.6 M104.9,338 V340.2 M105.3,338 V345.8 M105.8,338 V338.5 M106.2,338 V343.2 M106.7,338 V339.1 M107.1,338 V339.5 M107.6,338 V340.5 M108.0,338 V347.8 M108.5,338 V342.3 M108.9,338 V346.9 M109.4,338 V340.5 M109.8,338 V346.3 M110.3,338 V338.3 M110.7,338 V341.6 M111.2,338 V339.8 M111.6,338 V338.3 M112.1,338 V343.6 M112.5,338 V339.9 M113.0,338 V344.0 M113.4,338 V338.7 M113.9,338 V344.4 M114.3,338 V338.5 M114.8,338 V342.5 M115.2,338 V347.2 M115.7,338 V341.1 M116.1,338 V339.9 M116.6,338 V340.8 M117.0,338 V346.6 M117.5,338 V340.4 M117.9,338 V340.4 M118.4,338 V340.7 M118.8,338 V342.5 M119.3,338 V342.2 M119.7,338 V342.5 M120.2,338 V344.8 M120.6,338 V339.7 M121.1,338 V342.0 M121.5,338 V342.5 M122.0,338 V343.5 M122.4,338 V338.2 M122.9,338 V345.2 M123.3,338 V338.3 M123.8,338 V346.6 M124.2,338 V343.3 M124.7,338 V344.6 M125.1,338 V339.4 M125.6,338 V344.9 M126.0,338 V344.9 M126.5,338 V340.2 M126.9,338 V343.7 M127.4,338 V342.2 M127.8,338 V344.2 M128.3,338 V340.9 M128.7,338 V343.7 M129.2,338 V345.4 M129.6,338 V346.5 M130.1,338 V343.4 M130.5,338 V344.2 M131.0,338 V341.0 M131.4,338 V338.7 M131.9,338 V347.9 M132.3,338 V338.8 M132.8,338 V341.0 M133.2,338 V347.6 M133.7,338 V339.9 M134.1,338 V343.4 M134.6,338 V338.9 M135.0,338 V341.4 M135.5,338 V346.8 M135.9,338 V338.4 M136.4,338 V339.2 M136.8,338 V344.3 M137.3,338 V339.2 M137.7,338 V339.7 M138.2,338 V344.8 M138.6,338 V342.3 M139.1,338 V341.6 M139.5,338 V346.5 M140.0,338 V340.2 M140.4,338 V347.4 M140.9,338 V339.2 M141.3,338 V347.3 M141.8,338 V340.6 M142.2,338 V342.0 M142.6,338 V347.9 M143.1,338 V339.3 M143.5,338 V341.5 M144.0,338 V345.3 M144.4,338 V343.0 M144.9,338 V338.7 M145.3,338 V339.5 M145.8,338 V342.0 M146.2,338 V347.9 M146.7,338 V342.2 M147.1,338 V344.9 M147.6,338 V345.6 M148.0,338 V345.6 M148.5,338 V339.6 M148.9,338 V338.4 M149.4,338 V341.5 M149.8,338 V342.7 M150.3,338 V339.9 M150.7,338 V340.9 M151.2,338 V338.3 M151.6,338 V339.1 M152.1,338 V342.1 M152.5,338 V345.7 M153.0,338 V339.9 M153.4,338 V339.9 M153.9,338 V344.3 M154.3,338 V343.9 M154.8,338 V340.7 M155.2,338 V347.5 M155.7,338 V343.5 M156.1,338 V340.6 M156.6,338 V339.3 M157.0,338 V341.4 M157.5,338 V347.9 M157.9,338 V339.1 M158.4,338 V339.8 M158.8,338 V342.2 M159.3,338 V340.2 M159.7,338 V343.7 M160.2,338 V339.1 M160.6,338 V340.1 M161.1,338 V342.5 M161.5,338 V340.1 M162.0,338 V338.4 M162.4,338 V338.4 M162.9,338 V344.2 M163.3,338 V340.8 M163.8,338 V342.8 M164.2,338 V339.3 M164.7,338 V338.5 M165.1,338 V338.3 M165.6,338 V341.0 M166.0,338 V343.4 M166.5,338 V345.6 M166.9,338 V340.1 M167.4,338 V338.0 M167.8,338 V344.1 M168.3,338 V345.2 M168.7,338 V343.0 M169.2,338 V340.1 M169.6,338 V343.5 M170.1,338 V340.6 M170.5,338 V345.2 M171.0,338 V343.0 M171.4,338 V344.9 M171.9,338 V342.3 M172.3,338 V341.8 M172.8,338 V344.2 M173.2,338 V342.0 M173.7,338 V345.8 M174.1,338 V347.2 M174.6,338 V339.0 M175.0,338 V339.4 M175.5,338 V344.0 M175.9,338 V347.0 M176.4,338 V341.4 M176.8,338 V347.6 M177.3,338 V346.7 M177.7,338 V342.4 M178.2,338 V339.6 M178.6,338 V347.9 M179.1,338 V342.9 M179.5,338 V345.6 M180.0,338 V346.6 M180.4,338 V342.6 M180.9,338 V338.9 M181.3,338 V338.3 M181.8,338 V338.9 M182.2,338 V347.2 M182.7,338 V339.9 M183.1,338 V344.5 M183.6,338 V342.8 M184.0,338 V338.0 M184.5,338 V341.5 M184.9,338 V340.6 M185.4,338 V338.9 M185.8,338 V339.5 M186.3,338 V340.1 M186.7,338 V338.1 M187.2,338 V338.7 M187.6,338 V342.9 M188.1,338 V340.9 M188.5,338 V343.9 M189.0,338 V344.7 M189.4,338 V347.9 M189.9,338 V346.0 M190.3,338 V341.1 M190.8,338 V346.7 M191.2,338 V342.1 M191.7,338 V346.7 M192.1,338 V338.2 M192.6,338 V346.6 M193.0,338 V342.9 M193.5,338 V339.9 M193.9,338 V338.2 M194.4,338 V341.2 M194.8,338 V340.7 M195.3,338 V344.0 M195.7,338 V339.3 M196.2,338 V340.7 M196.6,338 V338.2 M197.1,338 V347.5 M197.5,338 V346.2 M198.0,338 V345.4 M198.4,338 V344.6 M198.9,338 V346.7 M199.3,338 V345.2 M199.8,338 V342.2 M200.2,338 V338.0 M200.7,338 V339.8 M201.1,338 V338.2 M201.6,338 V345.5 M202.0,338 V340.4 M202.5,338 V338.1 M202.9,338 V346.6 M203.4,338 V341.8 M203.8,338 V347.7 M204.3,338 V339.1 M204.7,338 V346.9 M205.2,338 V339.0 M205.6,338 V340.3 M206.1,338 V338.8 M206.5,338 V347.9 M207.0,338 V343.3 M207.4,338 V346.4 M207.9,338 V338.4 M208.3,338 V340.0 M208.8,338 V346.2 M209.2,338 V338.6 M209.7,338 V347.1 M210.1,338 V338.3 M210.6,338 V339.9 M211.0,338 V339.0 M211.5,338 V339.3 M211.9,338 V345.2 M212.4,338 V343.6 M212.8,338 V342.8 M213.3,338 V339.9 M213.7,338 V343.7 M214.2,338 V343.4 M214.6,338 V347.8 M215.1,338 V342.1 M215.5,338 V338.1 M216.0,338 V339.7 M216.4,338 V345.4 M216.9,338 V339.7 M217.3,338 V339.4 M217.8,338 V342.3 M218.2,338 V346.6 M218.7,338 V338.1 M219.1,338 V344.7 M219.6,338 V347.0 M220.0,338 V338.9 M220.5,338 V343.4 M220.9,338 V343.6 M221.4,338 V342.0 M221.8,338 V345.9 M222.3,338 V342.0 M222.7,338 V338.9 M223.2,338 V338.8 M223.6,338 V339.3 M224.1,338 V345.0 M224.5,338 V345.2 M225.0,338 V341.7 M225.4,338 V342.7 M225.9,338 V338.1 M226.3,338 V344.2 M226.8,338 V346.3 M227.2,338 V338.7 M227.7,338 V341.7 M228.1,338 V341.2 M228.6,338 V345.3 M229.0,338 V346.7 M229.5,338 V342.3 M229.9,338 V339.3 M230.4,338 V339.9 M230.8,338 V340.0 M231.3,338 V342.1 M231.7,338 V342.8 M232.2,338 V345.6 M232.6,338 V339.5 M233.1,338 V344.0 M233.5,338 V345.1 M234.0,338 V340.9 M234.4,338 V339.2 M234.9,338 V338.1 M235.3,338 V344.8 M235.8,338 V338.7 M236.2,338 V344.6 M236.7,338 V339.4 M237.1,338 V338.6 M237.6,338 V339.8 M238.0,338 V338.3 M238.5,338 V347.9 M238.9,338 V344.5 M239.4,338 V339.5 M239.8,338 V339.4 M240.3,338 V347.1 M240.7,338 V340.2 M241.2,338 V343.0 M241.6,338 V340.8 M242.1,338 V338.2 M242.5,338 V344.0 M243.0,338 V342.8 M243.4,338 V341.4 M243.9,338 V345.9 M244.3,338 V345.1 M244.8,338 V340.3 M245.2,338 V342.3 M245.7,338 V339.1 M246.1,338 V341.5 M246.6,338 V341.2 M247.0,338 V343.8 M247.5,338 V339.1 M247.9,338 V338.3 M248.4,338 V340.4 M248.8,338 V338.0 M249.3,338 V339.5 M249.7,338 V346.9 M250.2,338 V339.6 M250.6,338 V338.7 M251.1,338 V340.4 M251.5,338 V344.4 M252.0,338 V338.0 M252.4,338 V340.6 M252.9,338 V346.4 M253.3,338 V344.9 M253.8,338 V338.2 M254.2,338 V339.3 M254.7,338 V338.7 M255.1,338 V338.1 M255.6,338 V341.0 M256.0,338 V338.6 M256.5,338 V339.5 M256.9,338 V343.7 M257.4,338 V339.1 M257.8,338 V344.2 M258.3,338 V340.6 M258.7,338 V339.2 M259.2,338 V340.3 M259.6,338 V338.1 M260.1,338 V343.2 M260.5,338 V345.4 M261.0,338 V339.8 M261.4,338 V346.9 M261.9,338 V343.9 M262.3,338 V347.4 M262.8,338 V339.3 M263.2,338 V338.3 M263.7,338 V340.7 M264.1,338 V340.6 M264.6,338 V341.8 M265.0,338 V338.8 M265.5,338 V341.5 M265.9,338 V343.7 M266.4,338 V338.4 M266.8,338 V341.0 M267.3,338 V342.7 M267.7,338 V342.4 M268.2,338 V338.1 M268.6,338 V340.4 M269.1,338 V340.8 M269.5,338 V341.7 M270.0,338 V341.5 M270.4,338 V339.5 M270.9,338 V340.3 M271.3,338 V342.5 M271.8,338 V343.7 M272.2,338 V341.5 M272.7,338 V347.4 M273.1,338 V342.6 M273.6,338 V345.0 M274.0,338 V343.1 M274.5,338 V340.9 M274.9,338 V345.7 M275.4,338 V340.6 M275.8,338 V338.1 M276.3,338 V341.9 M276.7,338 V340.4 M277.2,338 V338.7 M277.6,338 V339.3 M278.1,338 V339.3 M278.5,338 V342.3 M279.0,338 V339.4 M279.4,338 V343.5 M279.9,338 V343.2 M280.3,338 V345.7 M280.8,338 V340.1 M281.2,338 V346.4 M281.7,338 V344.3 M282.1,338 V343.9 M282.6,338 V345.6 M283.0,338 V343.1 M283.5,338 V342.5 M283.9,338 V339.7 M284.4,338 V342.2 M284.8,338 V339.4 M285.3,338 V338.9 M285.7,338 V338.6 M286.2,338 V338.2 M286.6,338 V344.1 M287.1,338 V341.3 M287.5,338 V341.6 M288.0,338 V346.2 M288.4,338 V338.2 M288.9,338 V341.9 M289.3,338 V340.7 M289.8,338 V339.5 M290.2,338 V340.1 M290.7,338 V344.8 M291.1,338 V345.7 M291.6,338 V341.0 M292.0,338 V343.2 M292.5,338 V345.3 M292.9,338 V340.6 M293.4,338 V339.3 M293.8,338 V338.0 M294.3,338 V347.2 M294.7,338 V338.6 M295.2,338 V341.0 M295.6,338 V340.7 M296.1,338 V347.8 M296.5,338 V344.2 M297.0,338 V338.1 M297.4,338 V344.5 M297.9,338 V338.5 M298.3,338 V338.1 M298.8,338 V341.6 M299.2,338 V339.9 M299.7,338 V345.8 M300.1,338 V340.7 M300.6,338 V344.9 M301.0,338 V340.7 M301.5,338 V342.3 M301.9,338 V338.7 M302.4,338 V338.4 M302.8,338 V339.4 M303.3,338 V338.5 M303.7,338 V338.0 M304.2,338 V338.7" stroke="#323132" stroke-width="0.7" fill="none"/>
<path d="M217.2,343.9 h0.1 M124.8,345.4 h0.1 M156.9,343.8 h0.1 M83.9,342.5 h0.1 M279.3,344.2 h0.1 M90.2,343.3 h0.1 M184.3,349.0 h0.1 M119.0,348.1 h0.1 M184.4,344.9 h0.1 M259.4,344.8 h0.1 M85.4,345.9 h0.1 M224.5,346.4 h0.1 M136.3,348.6 h0.1 M272.8,349.0 h0.1 M174.9,347.8 h0.1 M240.3,343.2 h0.1 M78.2,343.2 h0.1 M99.6,342.5 h0.1 M155.3,347.3 h0.1 M144.0,345.6 h0.1 M74.4,343.5 h0.1 M294.7,342.1 h0.1 M194.4,347.7 h0.1 M256.0,347.1 h0.1 M164.7,347.6 h0.1 M264.2,347.4 h0.1 M300.9,342.7 h0.1 M292.7,344.8 h0.1 M235.8,343.8 h0.1 M283.2,342.2 h0.1 M205.9,343.6 h0.1 M162.2,344.6 h0.1 M224.5,347.7 h0.1 M156.7,346.5 h0.1 M154.2,344.0 h0.1 M282.2,344.3 h0.1 M93.9,344.3 h0.1 M244.2,343.5 h0.1 M244.6,345.8 h0.1 M229.9,343.2 h0.1 M96.6,343.0 h0.1 M153.3,345.0 h0.1 M74.2,345.5 h0.1 M165.7,344.3 h0.1 M196.7,348.7 h0.1 M119.5,348.2 h0.1 M146.5,347.3 h0.1 M97.2,348.9 h0.1 M171.9,348.7 h0.1 M123.0,344.9 h0.1 M235.9,343.2 h0.1 M135.5,346.7 h0.1 M292.1,344.3 h0.1 M114.6,344.5 h0.1 M301.8,343.0 h0.1 M219.4,344.6 h0.1 M221.5,343.5 h0.1 M215.1,348.2 h0.1 M270.8,346.4 h0.1 M189.2,346.0 h0.1" stroke="#666" stroke-width="1.4" stroke-linecap="round" fill="none"/>
<line x1="69" y1="357" x2="69" y2="213" stroke="#222" stroke-width="1.9"/>
<path d="M66.4,215.5 L69,209 L71.6,215.5 L69,214 Z" fill="#222"/>
<line x1="68.2" y1="356.3" x2="305.3" y2="356.3" stroke="#222" stroke-width="1.9"/>
<path d="M302.8,353.7 L309.3,356.3 L302.8,358.90000000000003 L304.3,356.3 Z" fill="#222"/>
<line x1="69.8" y1="217.31" x2="73.6" y2="217.31" stroke="#222" stroke-width="1.1"/>
<text x="64.4" y="220.61" font-family="Liberation Sans, sans-serif" font-size="9.2" fill="#333" text-anchor="end">0.3</text>
<line x1="69.8" y1="237.14000000000001" x2="73.6" y2="237.14000000000001" stroke="#222" stroke-width="1.1"/>
<text x="64.4" y="240.44000000000003" font-family="Liberation Sans, sans-serif" font-size="9.2" fill="#333" text-anchor="end">0.2</text>
<line x1="69.8" y1="256.97" x2="73.6" y2="256.97" stroke="#222" stroke-width="1.1"/>
<text x="64.4" y="260.27000000000004" font-family="Liberation Sans, sans-serif" font-size="9.2" fill="#333" text-anchor="end">0.1</text>
<line x1="69.8" y1="276.8" x2="73.6" y2="276.8" stroke="#222" stroke-width="1.1"/>
<text x="64.4" y="280.1" font-family="Liberation Sans, sans-serif" font-size="9.2" fill="#333" text-anchor="end">0</text>
<line x1="69.8" y1="296.63" x2="73.6" y2="296.63" stroke="#222" stroke-width="1.1"/>
<text x="64.4" y="299.93" font-family="Liberation Sans, sans-serif" font-size="9.2" fill="#333" text-anchor="end">−0.1</text>
<line x1="69.8" y1="316.46000000000004" x2="73.6" y2="316.46000000000004" stroke="#222" stroke-width="1.1"/>
<text x="64.4" y="319.76000000000005" font-family="Liberation Sans, sans-serif" font-size="9.2" fill="#333" text-anchor="end">−0.2</text>
<line x1="69.8" y1="336.29" x2="73.6" y2="336.29" stroke="#222" stroke-width="1.1"/>
<text x="64.4" y="339.59000000000003" font-family="Liberation Sans, sans-serif" font-size="9.2" fill="#333" text-anchor="end">−0.3</text>
<line x1="69.8" y1="356.12" x2="73.6" y2="356.12" stroke="#222" stroke-width="1.1"/>
<text x="64.4" y="359.42" font-family="Liberation Sans, sans-serif" font-size="9.2" fill="#333" text-anchor="end">−0.4</text>
<line x1="76.0" y1="355.5" x2="76.0" y2="351.7" stroke="#222" stroke-width="1.1"/>
<text x="76.0" y="366.8" font-family="Liberation Sans, sans-serif" font-size="9.2" fill="#333" text-anchor="middle">0</text>
<line x1="121.7" y1="355.5" x2="121.7" y2="351.7" stroke="#222" stroke-width="1.1"/>
<text x="121.7" y="366.8" font-family="Liberation Sans, sans-serif" font-size="9.2" fill="#333" text-anchor="middle">1</text>
<line x1="167.4" y1="355.5" x2="167.4" y2="351.7" stroke="#222" stroke-width="1.1"/>
<text x="167.4" y="366.8" font-family="Liberation Sans, sans-serif" font-size="9.2" fill="#333" text-anchor="middle">2</text>
<line x1="213.10000000000002" y1="355.5" x2="213.10000000000002" y2="351.7" stroke="#222" stroke-width="1.1"/>
<text x="213.10000000000002" y="366.8" font-family="Liberation Sans, sans-serif" font-size="9.2" fill="#333" text-anchor="middle">3</text>
<line x1="258.8" y1="355.5" x2="258.8" y2="351.7" stroke="#222" stroke-width="1.1"/>
<text x="258.8" y="366.8" font-family="Liberation Sans, sans-serif" font-size="9.2" fill="#333" text-anchor="middle">4</text>
<line x1="304.5" y1="355.5" x2="304.5" y2="351.7" stroke="#222" stroke-width="1.1"/>
<text x="304.5" y="366.8" font-family="Liberation Sans, sans-serif" font-size="9.2" fill="#333" text-anchor="middle">5</text>
<text x="191" y="380" font-family="Liberation Sans, sans-serif" font-size="10.6" fill="#333" text-anchor="middle">Time (ms)</text>
<text transform="translate(24.4,284.9) rotate(-90)" font-family="Liberation Sans, sans-serif" font-size="10.9" fill="#333" text-anchor="middle">Photodetector output (V)</text>
<text transform="translate(37.6,285.3) rotate(-90)" font-family="Liberation Sans, sans-serif" font-size="10.9" fill="#333" text-anchor="middle">(PPM encoded)</text>
<polyline points="75.2,524.0 78.0,522.1 81.2,520.6 84.4,521.1 87.1,521.1 90.3,520.6 92.6,519.2 96.2,520.1 99.4,520.6 102.6,521.1 105.3,521.6 108.5,520.6 111.7,522.5 114.4,521.1 117.6,521.6 120.8,521.1 123.6,523.0 126.8,524.0 130.0,524.5 132.7,525.4 135.9,525.9 139.1,526.4 141.8,527.4 145.0,529.8 148.2,531.2 150.9,532.2 154.1,533.1 157.3,534.1 160.0,535.1 163.2,535.6 166.4,537.0 169.2,538.5 172.4,540.4 175.6,541.8 178.3,542.3 181.5,542.3 184.7,541.3 187.4,541.3 190.6,542.3 193.8,542.8 196.5,542.3 198.8,540.9 202.5,528.3 206.1,480.1 209.3,398.7 212.5,398.2 215.7,397.7 218.9,397.7 222.1,398.2 225.3,398.2 228.4,397.2 231.6,396.7 234.8,398.2 237.6,447.8 241.2,511.5 244.4,515.3 247.6,520.1 250.8,521.6 254.0,521.1 257.2,520.1 260.4,519.7 263.6,519.2 266.8,519.7 269.5,518.7 272.7,518.7 275.9,518.7 278.6,518.2 281.8,518.2 285.0,517.7 287.7,518.7 290.9,518.2 294.1,518.2 296.8,518.2 300.0,518.7 303.2,517.7" fill="none" stroke="#222" stroke-width="1.1"/>
<circle cx="75.2" cy="524.0" r="1.3" fill="#222"/>
<circle cx="78.0" cy="522.1" r="1.3" fill="#222"/>
<circle cx="81.2" cy="520.6" r="1.3" fill="#222"/>
<circle cx="84.4" cy="521.1" r="1.3" fill="#222"/>
<circle cx="87.1" cy="521.1" r="1.3" fill="#222"/>
<circle cx="90.3" cy="520.6" r="1.3" fill="#222"/>
<circle cx="92.6" cy="519.2" r="1.3" fill="#222"/>
<circle cx="96.2" cy="520.1" r="1.3" fill="#222"/>
<circle cx="99.4" cy="520.6" r="1.3" fill="#222"/>
<circle cx="102.6" cy="521.1" r="1.3" fill="#222"/>
<circle cx="105.3" cy="521.6" r="1.3" fill="#222"/>
<circle cx="108.5" cy="520.6" r="1.3" fill="#222"/>
<circle cx="111.7" cy="522.5" r="1.3" fill="#222"/>
<circle cx="114.4" cy="521.1" r="1.3" fill="#222"/>
<circle cx="117.6" cy="521.6" r="1.3" fill="#222"/>
<circle cx="120.8" cy="521.1" r="1.3" fill="#222"/>
<circle cx="123.6" cy="523.0" r="1.3" fill="#222"/>
<circle cx="126.8" cy="524.0" r="1.3" fill="#222"/>
<circle cx="130.0" cy="524.5" r="1.3" fill="#222"/>
<circle cx="132.7" cy="525.4" r="1.3" fill="#222"/>
<circle cx="135.9" cy="525.9" r="1.3" fill="#222"/>
<circle cx="139.1" cy="526.4" r="1.3" fill="#222"/>
<circle cx="141.8" cy="527.4" r="1.3" fill="#222"/>
<circle cx="145.0" cy="529.8" r="1.3" fill="#222"/>
<circle cx="148.2" cy="531.2" r="1.3" fill="#222"/>
<circle cx="150.9" cy="532.2" r="1.3" fill="#222"/>
<circle cx="154.1" cy="533.1" r="1.3" fill="#222"/>
<circle cx="157.3" cy="534.1" r="1.3" fill="#222"/>
<circle cx="160.0" cy="535.1" r="1.3" fill="#222"/>
<circle cx="163.2" cy="535.6" r="1.3" fill="#222"/>
<circle cx="166.4" cy="537.0" r="1.3" fill="#222"/>
<circle cx="169.2" cy="538.5" r="1.3" fill="#222"/>
<circle cx="172.4" cy="540.4" r="1.3" fill="#222"/>
<circle cx="175.6" cy="541.8" r="1.3" fill="#222"/>
<circle cx="178.3" cy="542.3" r="1.3" fill="#222"/>
<circle cx="181.5" cy="542.3" r="1.3" fill="#222"/>
<circle cx="184.7" cy="541.3" r="1.3" fill="#222"/>
<circle cx="187.4" cy="541.3" r="1.3" fill="#222"/>
<circle cx="190.6" cy="542.3" r="1.3" fill="#222"/>
<circle cx="193.8" cy="542.8" r="1.3" fill="#222"/>
<circle cx="196.5" cy="542.3" r="1.3" fill="#222"/>
<circle cx="198.8" cy="540.9" r="1.3" fill="#222"/>
<circle cx="202.5" cy="528.3" r="1.3" fill="#222"/>
<circle cx="206.1" cy="480.1" r="1.3" fill="#222"/>
<circle cx="209.3" cy="398.7" r="1.3" fill="#222"/>
<circle cx="212.5" cy="398.2" r="1.3" fill="#222"/>
<circle cx="215.7" cy="397.7" r="1.3" fill="#222"/>
<circle cx="218.9" cy="397.7" r="1.3" fill="#222"/>
<circle cx="222.1" cy="398.2" r="1.3" fill="#222"/>
<circle cx="225.3" cy="398.2" r="1.3" fill="#222"/>
<circle cx="228.4" cy="397.2" r="1.3" fill="#222"/>
<circle cx="231.6" cy="396.7" r="1.3" fill="#222"/>
<circle cx="234.8" cy="398.2" r="1.3" fill="#222"/>
<circle cx="237.6" cy="447.8" r="1.3" fill="#222"/>
<circle cx="241.2" cy="511.5" r="1.3" fill="#222"/>
<circle cx="244.4" cy="515.3" r="1.3" fill="#222"/>
<circle cx="247.6" cy="520.1" r="1.3" fill="#222"/>
<circle cx="250.8" cy="521.6" r="1.3" fill="#222"/>
<circle cx="254.0" cy="521.1" r="1.3" fill="#222"/>
<circle cx="257.2" cy="520.1" r="1.3" fill="#222"/>
<circle cx="260.4" cy="519.7" r="1.3" fill="#222"/>
<circle cx="263.6" cy="519.2" r="1.3" fill="#222"/>
<circle cx="266.8" cy="519.7" r="1.3" fill="#222"/>
<circle cx="269.5" cy="518.7" r="1.3" fill="#222"/>
<circle cx="272.7" cy="518.7" r="1.3" fill="#222"/>
<circle cx="275.9" cy="518.7" r="1.3" fill="#222"/>
<circle cx="278.6" cy="518.2" r="1.3" fill="#222"/>
<circle cx="281.8" cy="518.2" r="1.3" fill="#222"/>
<circle cx="285.0" cy="517.7" r="1.3" fill="#222"/>
<circle cx="287.7" cy="518.7" r="1.3" fill="#222"/>
<circle cx="290.9" cy="518.2" r="1.3" fill="#222"/>
<circle cx="294.1" cy="518.2" r="1.3" fill="#222"/>
<circle cx="296.8" cy="518.2" r="1.3" fill="#222"/>
<circle cx="300.0" cy="518.7" r="1.3" fill="#222"/>
<circle cx="303.2" cy="517.7" r="1.3" fill="#222"/>
<line x1="69" y1="549" x2="69" y2="394.3" stroke="#222" stroke-width="1.9"/>
<path d="M66.4,396.8 L69,390.3 L71.6,396.8 L69,395.3 Z" fill="#222"/>
<line x1="68.2" y1="548.3" x2="305.3" y2="548.3" stroke="#222" stroke-width="1.9"/>
<path d="M302.8,545.6999999999999 L309.3,548.3 L302.8,550.9 L304.3,548.3 Z" fill="#222"/>
<line x1="69.8" y1="400.6" x2="73.6" y2="400.6" stroke="#222" stroke-width="1.1"/>
<text x="64.4" y="403.90000000000003" font-family="Liberation Sans, sans-serif" font-size="9.2" fill="#333" text-anchor="end">2.5</text>
<line x1="69.8" y1="424.70000000000005" x2="73.6" y2="424.70000000000005" stroke="#222" stroke-width="1.1"/>
<text x="64.4" y="428.00000000000006" font-family="Liberation Sans, sans-serif" font-size="9.2" fill="#333" text-anchor="end">2.0</text>
<line x1="69.8" y1="448.8" x2="73.6" y2="448.8" stroke="#222" stroke-width="1.1"/>
<text x="64.4" y="452.1" font-family="Liberation Sans, sans-serif" font-size="9.2" fill="#333" text-anchor="end">1.5</text>
<line x1="69.8" y1="472.90000000000003" x2="73.6" y2="472.90000000000003" stroke="#222" stroke-width="1.1"/>
<text x="64.4" y="476.20000000000005" font-family="Liberation Sans, sans-serif" font-size="9.2" fill="#333" text-anchor="end">1.0</text>
<line x1="69.8" y1="497.0" x2="73.6" y2="497.0" stroke="#222" stroke-width="1.1"/>
<text x="64.4" y="500.3" font-family="Liberation Sans, sans-serif" font-size="9.2" fill="#333" text-anchor="end">0.5</text>
<line x1="69.8" y1="521.1" x2="73.6" y2="521.1" stroke="#222" stroke-width="1.1"/>
<text x="64.4" y="524.4" font-family="Liberation Sans, sans-serif" font-size="9.2" fill="#333" text-anchor="end">0</text>
<line x1="69.8" y1="545.2" x2="73.6" y2="545.2" stroke="#222" stroke-width="1.1"/>
<text x="64.4" y="548.5" font-family="Liberation Sans, sans-serif" font-size="9.2" fill="#333" text-anchor="end">−0.5</text>
<line x1="76.6" y1="547.5" x2="76.6" y2="543.7" stroke="#222" stroke-width="1.1"/>
<text x="76.6" y="561.2" font-family="Liberation Sans, sans-serif" font-size="9.2" fill="#333" text-anchor="middle">0</text>
<line x1="122.19999999999999" y1="547.5" x2="122.19999999999999" y2="543.7" stroke="#222" stroke-width="1.1"/>
<text x="122.19999999999999" y="561.2" font-family="Liberation Sans, sans-serif" font-size="9.2" fill="#333" text-anchor="middle">1</text>
<line x1="167.8" y1="547.5" x2="167.8" y2="543.7" stroke="#222" stroke-width="1.1"/>
<text x="167.8" y="561.2" font-family="Liberation Sans, sans-serif" font-size="9.2" fill="#333" text-anchor="middle">2</text>
<line x1="213.4" y1="547.5" x2="213.4" y2="543.7" stroke="#222" stroke-width="1.1"/>
<text x="213.4" y="561.2" font-family="Liberation Sans, sans-serif" font-size="9.2" fill="#333" text-anchor="middle">3</text>
<line x1="259.0" y1="547.5" x2="259.0" y2="543.7" stroke="#222" stroke-width="1.1"/>
<text x="259.0" y="561.2" font-family="Liberation Sans, sans-serif" font-size="9.2" fill="#333" text-anchor="middle">4</text>
<line x1="304.6" y1="547.5" x2="304.6" y2="543.7" stroke="#222" stroke-width="1.1"/>
<text x="304.6" y="561.2" font-family="Liberation Sans, sans-serif" font-size="9.2" fill="#333" text-anchor="middle">5</text>
<text x="189.2" y="576" font-family="Liberation Sans, sans-serif" font-size="10.3" fill="#333" text-anchor="middle">Time (ms)</text>
<text transform="translate(40.6,469.4) rotate(-90)" font-family="Liberation Sans, sans-serif" font-size="11.1" fill="#333" text-anchor="middle">Decoded amplitude (mV)</text>
<text x="151.4" y="398.8" font-family="Liberation Sans, sans-serif" font-size="10.4" fill="#333" text-anchor="middle">Saturation</text>
<text x="152.8" y="410" font-family="Liberation Sans, sans-serif" font-size="10.4" fill="#333" text-anchor="middle">level</text>
<line x1="177.5" y1="397.4" x2="200" y2="397.4" stroke="#222" stroke-width="1"/>
<path d="M198,395 L204,397.4 L198,399.8 Z" fill="#222"/>
<rect x="228.1" y="208.4" width="21.2" height="365.2" fill="none" stroke="#0f5f80" stroke-width="2"/>
<rect x="237.8" y="216.1" width="90" height="4.9" fill="#77a7bd"/>
<path d="M323.3,211.6 L339.5,218.5 L323.3,225.4 Q326.5,218.5 323.3,211.6 Z" fill="#77a7bd"/>
<rect x="248.2" y="216.1" width="2" height="4.9" fill="#0f5f80"/>
<rect x="346.5" y="208.6" width="312.5" height="368.7" fill="none" stroke="#0f5f80" stroke-width="2"/>
<line x1="438.2" y1="294.9" x2="438.2" y2="301" stroke="#555" stroke-width="0.7"/>
<circle cx="438.2" cy="294.9" r="1.7" fill="#fff" stroke="#555" stroke-width="0.6"/>
<line x1="571.3" y1="289.9" x2="571.3" y2="301" stroke="#555" stroke-width="0.7"/>
<circle cx="571.3" cy="289.9" r="1.7" fill="#fff" stroke="#555" stroke-width="0.6"/>
<line x1="565.7" y1="289.5" x2="565.7" y2="301" stroke="#555" stroke-width="0.7"/>
<circle cx="565.7" cy="289.5" r="1.7" fill="#fff" stroke="#555" stroke-width="0.6"/>
<line x1="500.7" y1="287.0" x2="500.7" y2="301" stroke="#555" stroke-width="0.7"/>
<circle cx="500.7" cy="287.0" r="1.7" fill="#fff" stroke="#555" stroke-width="0.6"/>
<line x1="550.7" y1="291.4" x2="550.7" y2="301" stroke="#555" stroke-width="0.7"/>
<circle cx="550.7" cy="291.4" r="1.7" fill="#fff" stroke="#555" stroke-width="0.6"/>
<line x1="530.9" y1="284.4" x2="530.9" y2="301" stroke="#555" stroke-width="0.7"/>
<circle cx="530.9" cy="284.4" r="1.7" fill="#fff" stroke="#555" stroke-width="0.6"/>
<line x1="556.8" y1="289.8" x2="556.8" y2="301" stroke="#555" stroke-width="0.7"/>
<circle cx="556.8" cy="289.8" r="1.7" fill="#fff" stroke="#555" stroke-width="0.6"/>
<line x1="549.0" y1="291.7" x2="549.0" y2="301" stroke="#555" stroke-width="0.7"/>
<circle cx="549.0" cy="291.7" r="1.7" fill="#fff" stroke="#555" stroke-width="0.6"/>
<line x1="627.2" y1="286.0" x2="627.2" y2="301" stroke="#555" stroke-width="0.7"/>
<circle cx="627.2" cy="286.0" r="1.7" fill="#fff" stroke="#555" stroke-width="0.6"/>
<line x1="520.2" y1="296.9" x2="520.2" y2="301" stroke="#555" stroke-width="0.7"/>
<circle cx="520.2" cy="296.9" r="1.7" fill="#fff" stroke="#555" stroke-width="0.6"/>
<line x1="582.4" y1="288.1" x2="582.4" y2="301" stroke="#555" stroke-width="0.7"/>
<circle cx="582.4" cy="288.1" r="1.7" fill="#fff" stroke="#555" stroke-width="0.6"/>
<line x1="582.1" y1="296.9" x2="582.1" y2="301" stroke="#555" stroke-width="0.7"/>
<circle cx="582.1" cy="296.9" r="1.7" fill="#fff" stroke="#555" stroke-width="0.6"/>
<line x1="504.8" y1="295.3" x2="504.8" y2="301" stroke="#555" stroke-width="0.7"/>
<circle cx="504.8" cy="295.3" r="1.7" fill="#fff" stroke="#555" stroke-width="0.6"/>
<line x1="441.1" y1="296.9" x2="441.1" y2="301" stroke="#555" stroke-width="0.7"/>
<circle cx="441.1" cy="296.9" r="1.7" fill="#fff" stroke="#555" stroke-width="0.6"/>
<line x1="525.3" y1="287.0" x2="525.3" y2="301" stroke="#555" stroke-width="0.7"/>
<circle cx="525.3" cy="287.0" r="1.7" fill="#fff" stroke="#555" stroke-width="0.6"/>
<line x1="606.1" y1="292.4" x2="606.1" y2="301" stroke="#555" stroke-width="0.7"/>
<circle cx="606.1" cy="292.4" r="1.7" fill="#fff" stroke="#555" stroke-width="0.6"/>
<line x1="628.6" y1="294.8" x2="628.6" y2="301" stroke="#555" stroke-width="0.7"/>
<circle cx="628.6" cy="294.8" r="1.7" fill="#fff" stroke="#555" stroke-width="0.6"/>
<line x1="596.2" y1="290.7" x2="596.2" y2="301" stroke="#555" stroke-width="0.7"/>
<circle cx="596.2" cy="290.7" r="1.7" fill="#fff" stroke="#555" stroke-width="0.6"/>
<line x1="641.5" y1="284.8" x2="641.5" y2="301" stroke="#555" stroke-width="0.7"/>
<circle cx="641.5" cy="284.8" r="1.7" fill="#fff" stroke="#555" stroke-width="0.6"/>
<line x1="613.0" y1="293.3" x2="613.0" y2="301" stroke="#555" stroke-width="0.7"/>
<circle cx="613.0" cy="293.3" r="1.7" fill="#fff" stroke="#555" stroke-width="0.6"/>
<line x1="469.8" y1="294.5" x2="469.8" y2="301" stroke="#555" stroke-width="0.7"/>
<circle cx="469.8" cy="294.5" r="1.7" fill="#fff" stroke="#555" stroke-width="0.6"/>
<line x1="516.8" y1="291.0" x2="516.8" y2="301" stroke="#555" stroke-width="0.7"/>
<circle cx="516.8" cy="291.0" r="1.7" fill="#fff" stroke="#555" stroke-width="0.6"/>
<line x1="611.9" y1="286.5" x2="611.9" y2="301" stroke="#555" stroke-width="0.7"/>
<circle cx="611.9" cy="286.5" r="1.7" fill="#fff" stroke="#555" stroke-width="0.6"/>
<line x1="476.4" y1="292.4" x2="476.4" y2="301" stroke="#555" stroke-width="0.7"/>
<circle cx="476.4" cy="292.4" r="1.7" fill="#fff" stroke="#555" stroke-width="0.6"/>
<line x1="428.8" y1="291.2" x2="428.8" y2="301" stroke="#555" stroke-width="0.7"/>
<circle cx="428.8" cy="291.2" r="1.7" fill="#fff" stroke="#555" stroke-width="0.6"/>
<line x1="593.8" y1="290.4" x2="593.8" y2="301" stroke="#555" stroke-width="0.7"/>
<circle cx="593.8" cy="290.4" r="1.7" fill="#fff" stroke="#555" stroke-width="0.6"/>
<line x1="467.7" y1="294.4" x2="467.7" y2="301" stroke="#555" stroke-width="0.7"/>
<circle cx="467.7" cy="294.4" r="1.7" fill="#fff" stroke="#555" stroke-width="0.6"/>
<line x1="609.5" y1="294.0" x2="609.5" y2="301" stroke="#555" stroke-width="0.7"/>
<circle cx="609.5" cy="294.0" r="1.7" fill="#fff" stroke="#555" stroke-width="0.6"/>
<line x1="422.5" y1="233" x2="422.5" y2="300" stroke="#555" stroke-width="0.9"/>
<circle cx="422.5" cy="233" r="1.8" fill="#fff" stroke="#555" stroke-width="0.7"/>
<circle cx="422.5" cy="281.6" r="1.8" fill="#fff" stroke="#555" stroke-width="0.7"/>
<line x1="446.8" y1="237" x2="446.8" y2="300" stroke="#555" stroke-width="0.9"/>
<circle cx="446.8" cy="237" r="1.8" fill="#fff" stroke="#555" stroke-width="0.7"/>
<circle cx="446.8" cy="283.1" r="1.8" fill="#fff" stroke="#555" stroke-width="0.7"/>
<line x1="459.9" y1="239" x2="459.9" y2="300" stroke="#555" stroke-width="0.9"/>
<circle cx="459.9" cy="239" r="1.8" fill="#fff" stroke="#555" stroke-width="0.7"/>
<circle cx="459.9" cy="251.5" r="1.8" fill="#fff" stroke="#555" stroke-width="0.7"/>
<line x1="484" y1="248.4" x2="484" y2="300" stroke="#555" stroke-width="0.9"/>
<circle cx="484" cy="248.4" r="1.8" fill="#fff" stroke="#555" stroke-width="0.7"/>
<circle cx="484" cy="289.5" r="1.8" fill="#fff" stroke="#555" stroke-width="0.7"/>
<line x1="497.7" y1="243" x2="497.7" y2="300" stroke="#555" stroke-width="0.9"/>
<circle cx="497.7" cy="243" r="1.8" fill="#fff" stroke="#555" stroke-width="0.7"/>
<circle cx="497.7" cy="285.2" r="1.8" fill="#fff" stroke="#555" stroke-width="0.7"/>
<line x1="516.3" y1="218.6" x2="516.3" y2="300" stroke="#555" stroke-width="0.9"/>
<circle cx="516.3" cy="218.6" r="1.8" fill="#fff" stroke="#555" stroke-width="0.7"/>
<circle cx="516.3" cy="253.8" r="1.8" fill="#fff" stroke="#555" stroke-width="0.7"/>
<line x1="534.4" y1="239" x2="534.4" y2="300" stroke="#555" stroke-width="0.9"/>
<circle cx="534.4" cy="239" r="1.8" fill="#fff" stroke="#555" stroke-width="0.7"/>
<circle cx="534.4" cy="248.4" r="1.8" fill="#fff" stroke="#555" stroke-width="0.7"/>
<circle cx="534.4" cy="277.7" r="1.8" fill="#fff" stroke="#555" stroke-width="0.7"/>
<line x1="548" y1="245.3" x2="548" y2="300" stroke="#555" stroke-width="0.9"/>
<circle cx="548" cy="245.3" r="1.8" fill="#fff" stroke="#555" stroke-width="0.7"/>
<circle cx="548" cy="288.2" r="1.8" fill="#fff" stroke="#555" stroke-width="0.7"/>
<circle cx="548" cy="256.1" r="1.8" fill="#fff" stroke="#555" stroke-width="0.7"/>
<line x1="571.5" y1="235.5" x2="571.5" y2="300" stroke="#555" stroke-width="0.9"/>
<circle cx="571.5" cy="235.5" r="1.8" fill="#fff" stroke="#555" stroke-width="0.7"/>
<circle cx="571.5" cy="269.3" r="1.8" fill="#fff" stroke="#555" stroke-width="0.7"/>
<line x1="584.5" y1="246.3" x2="584.5" y2="300" stroke="#555" stroke-width="0.9"/>
<circle cx="584.5" cy="246.3" r="1.8" fill="#fff" stroke="#555" stroke-width="0.7"/>
<circle cx="584.5" cy="287.3" r="1.8" fill="#fff" stroke="#555" stroke-width="0.7"/>
<circle cx="584.5" cy="281.7" r="1.8" fill="#fff" stroke="#555" stroke-width="0.7"/>
<line x1="609.2" y1="234.5" x2="609.2" y2="300" stroke="#555" stroke-width="0.9"/>
<circle cx="609.2" cy="234.5" r="1.8" fill="#fff" stroke="#555" stroke-width="0.7"/>
<circle cx="609.2" cy="270.2" r="1.8" fill="#fff" stroke="#555" stroke-width="0.7"/>
<line x1="621.3" y1="243" x2="621.3" y2="300" stroke="#555" stroke-width="0.9"/>
<circle cx="621.3" cy="243" r="1.8" fill="#fff" stroke="#555" stroke-width="0.7"/>
<circle cx="621.3" cy="266.5" r="1.8" fill="#fff" stroke="#555" stroke-width="0.7"/>
<circle cx="621.3" cy="284.5" r="1.8" fill="#fff" stroke="#555" stroke-width="0.7"/>
<rect x="411.8" y="297.5" width="231.2" height="33" fill="#1f1d1f"/>
<path d="M411.8,298 V294.4 M412.3,298 V292.8 M412.8,298 V296.8 M413.3,298 V294.0 M413.8,298 V295.0 M414.3,298 V296.6 M414.8,298 V296.3 M415.3,298 V296.4 M415.8,298 V297.3 M416.3,298 V294.3 M416.8,298 V293.9 M417.3,298 V297.3 M417.8,298 V296.1 M418.3,298 V296.5 M418.8,298 V297.2 M419.3,298 V295.4 M419.8,298 V295.5 M420.3,298 V297.2 M420.8,298 V292.8 M421.3,298 V294.7 M421.8,298 V295.6 M422.3,298 V295.9 M422.8,298 V294.7 M423.3,298 V296.3 M423.8,298 V294.6 M424.3,298 V294.6 M424.8,298 V294.9 M425.3,298 V296.1 M425.8,298 V293.4 M426.3,298 V296.6 M426.8,298 V293.3 M427.3,298 V297.2 M427.8,298 V295.7 M428.3,298 V293.8 M428.8,298 V297.4 M429.3,298 V294.4 M429.8,298 V293.7 M430.3,298 V294.5 M430.8,298 V297.3 M431.3,298 V295.4 M431.8,298 V294.6 M432.3,298 V296.8 M432.8,298 V293.8 M433.3,298 V296.8 M433.8,298 V297.2 M434.3,298 V292.5 M434.8,298 V293.8 M435.3,298 V295.4 M435.8,298 V295.5 M436.3,298 V295.4 M436.8,298 V293.8 M437.3,298 V292.8 M437.8,298 V293.8 M438.3,298 V294.6 M438.8,298 V295.6 M439.3,298 V295.8 M439.8,298 V296.1 M440.3,298 V293.6 M440.8,298 V297.2 M441.3,298 V295.1 M441.8,298 V293.9 M442.3,298 V292.5 M442.8,298 V297.3 M443.3,298 V294.6 M443.8,298 V296.4 M444.3,298 V296.7 M444.8,298 V295.6 M445.3,298 V295.0 M445.8,298 V297.2 M446.3,298 V293.1 M446.8,298 V295.4 M447.3,298 V295.1 M447.8,298 V294.8 M448.3,298 V294.3 M448.8,298 V293.6 M449.3,298 V293.8 M449.8,298 V294.1 M450.3,298 V296.5 M450.8,298 V296.0 M451.3,298 V293.1 M451.8,298 V294.0 M452.3,298 V296.0 M452.8,298 V296.8 M453.3,298 V294.6 M453.8,298 V293.2 M454.3,298 V292.5 M454.8,298 V297.1 M455.3,298 V293.0 M455.8,298 V294.8 M456.3,298 V294.9 M456.8,298 V297.3 M457.3,298 V296.1 M457.8,298 V296.3 M458.3,298 V296.4 M458.8,298 V297.0 M459.3,298 V296.4 M459.8,298 V294.5 M460.3,298 V297.4 M460.8,298 V292.8 M461.3,298 V295.3 M461.8,298 V296.1 M462.3,298 V297.2 M462.8,298 V296.2 M463.3,298 V292.7 M463.8,298 V293.5 M464.3,298 V294.0 M464.8,298 V296.9 M465.3,298 V294.0 M465.8,298 V293.4 M466.3,298 V295.0 M466.8,298 V292.9 M467.3,298 V296.1 M467.8,298 V295.1 M468.3,298 V296.0 M468.8,298 V296.7 M469.3,298 V297.1 M469.8,298 V296.5 M470.3,298 V292.5 M470.8,298 V296.0 M471.3,298 V297.1 M471.8,298 V294.3 M472.3,298 V294.5 M472.8,298 V295.2 M473.3,298 V295.6 M473.8,298 V294.8 M474.3,298 V293.6 M474.8,298 V297.3 M475.3,298 V297.1 M475.8,298 V294.5 M476.3,298 V295.8 M476.8,298 V294.2 M477.3,298 V292.8 M477.8,298 V293.6 M478.3,298 V294.3 M478.8,298 V294.4 M479.3,298 V297.2 M479.8,298 V297.3 M480.3,298 V297.1 M480.8,298 V297.1 M481.3,298 V295.9 M481.8,298 V292.9 M482.3,298 V294.3 M482.8,298 V295.8 M483.3,298 V295.4 M483.8,298 V295.2 M484.3,298 V293.9 M484.8,298 V297.5 M485.3,298 V294.6 M485.8,298 V293.7 M486.3,298 V295.7 M486.8,298 V295.7 M487.3,298 V297.1 M487.8,298 V296.0 M488.3,298 V295.5 M488.8,298 V296.2 M489.3,298 V297.4 M489.8,298 V293.7 M490.3,298 V296.7 M490.8,298 V293.1 M491.3,298 V297.0 M491.8,298 V295.3 M492.3,298 V297.2 M492.8,298 V294.8 M493.3,298 V295.5 M493.8,298 V292.5 M494.3,298 V297.0 M494.8,298 V295.5 M495.3,298 V292.7 M495.8,298 V296.4 M496.3,298 V297.1 M496.8,298 V293.4 M497.3,298 V296.3 M497.8,298 V296.9 M498.3,298 V292.5 M498.8,298 V296.3 M499.3,298 V293.8 M499.8,298 V294.9 M500.3,298 V292.6 M500.8,298 V296.2 M501.3,298 V293.2 M501.8,298 V296.5 M502.3,298 V296.6 M502.8,298 V297.4 M503.3,298 V292.9 M503.8,298 V296.0 M504.3,298 V295.2 M504.8,298 V297.3 M505.3,298 V297.0 M505.8,298 V294.3 M506.3,298 V294.7 M506.8,298 V295.8 M507.3,298 V294.6 M507.8,298 V295.6 M508.3,298 V296.2 M508.8,298 V294.7 M509.3,298 V294.2 M509.8,298 V297.3 M510.3,298 V295.1 M510.8,298 V294.1 M511.3,298 V297.5 M511.8,298 V292.8 M512.3,298 V296.1 M512.8,298 V297.1 M513.3,298 V294.6 M513.8,298 V295.9 M514.3,298 V293.1 M514.8,298 V292.7 M515.3,298 V295.2 M515.8,298 V294.5 M516.3,298 V294.4 M516.8,298 V293.0 M517.3,298 V297.2 M517.8,298 V296.9 M518.3,298 V297.4 M518.8,298 V293.1 M519.3,298 V293.1 M519.8,298 V296.8 M520.3,298 V297.1 M520.8,298 V293.3 M521.3,298 V295.8 M521.8,298 V294.9 M522.3,298 V292.5 M522.8,298 V293.2 M523.3,298 V297.0 M523.8,298 V297.0 M524.3,298 V297.2 M524.8,298 V296.5 M525.3,298 V295.9 M525.8,298 V296.9 M526.3,298 V293.5 M526.8,298 V294.5 M527.3,298 V296.1 M527.8,298 V296.8 M528.3,298 V296.8 M528.8,298 V296.8 M529.3,298 V293.1 M529.8,298 V297.4 M530.3,298 V294.2 M530.8,298 V296.2 M531.3,298 V292.9 M531.8,298 V296.9 M532.3,298 V295.7 M532.8,298 V293.0 M533.3,298 V294.5 M533.8,298 V295.0 M534.3,298 V295.1 M534.8,298 V296.4 M535.3,298 V295.4 M535.8,298 V296.9 M536.3,298 V296.7 M536.8,298 V294.4 M537.3,298 V295.8 M537.8,298 V295.2 M538.3,298 V294.5 M538.8,298 V297.3 M539.3,298 V292.5 M539.8,298 V294.5 M540.3,298 V292.5 M540.8,298 V293.1 M541.3,298 V292.9 M541.8,298 V292.7 M542.3,298 V297.4 M542.8,298 V292.8 M543.3,298 V297.0 M543.8,298 V297.0 M544.3,298 V296.8 M544.8,298 V297.1 M545.3,298 V293.7 M545.8,298 V297.4 M546.3,298 V294.3 M546.8,298 V293.5 M547.3,298 V294.5 M547.8,298 V294.2 M548.3,298 V297.1 M548.8,298 V292.6 M549.3,298 V294.5 M549.8,298 V296.4 M550.3,298 V296.6 M550.8,298 V293.7 M551.3,298 V293.7 M551.8,298 V297.3 M552.3,298 V297.5 M552.8,298 V292.7 M553.3,298 V294.5 M553.8,298 V292.7 M554.3,298 V297.2 M554.8,298 V293.2 M555.3,298 V296.2 M555.8,298 V295.5 M556.3,298 V297.1 M556.8,298 V294.5 M557.3,298 V295.0 M557.8,298 V296.5 M558.3,298 V296.0 M558.8,298 V292.8 M559.3,298 V295.9 M559.8,298 V294.9 M560.3,298 V297.5 M560.8,298 V297.0 M561.3,298 V296.3 M561.8,298 V295.1 M562.3,298 V296.7 M562.8,298 V297.0 M563.3,298 V295.0 M563.8,298 V295.8 M564.3,298 V296.6 M564.8,298 V295.5 M565.3,298 V294.8 M565.8,298 V294.6 M566.3,298 V295.1 M566.8,298 V294.0 M567.3,298 V296.4 M567.8,298 V296.0 M568.3,298 V296.3 M568.8,298 V294.7 M569.3,298 V295.6 M569.8,298 V294.1 M570.3,298 V294.6 M570.8,298 V294.6 M571.3,298 V295.5 M571.8,298 V295.1 M572.3,298 V296.4 M572.8,298 V297.4 M573.3,298 V297.5 M573.8,298 V297.4 M574.3,298 V297.4 M574.8,298 V296.0 M575.3,298 V296.9 M575.8,298 V297.2 M576.3,298 V297.4 M576.8,298 V293.4 M577.3,298 V296.4 M577.8,298 V295.5 M578.3,298 V294.7 M578.8,298 V295.7 M579.3,298 V294.5 M579.8,298 V296.7 M580.3,298 V296.6 M580.8,298 V293.3 M581.3,298 V295.6 M581.8,298 V297.4 M582.3,298 V292.8 M582.8,298 V295.6 M583.3,298 V294.5 M583.8,298 V292.9 M584.3,298 V292.7 M584.8,298 V296.6 M585.3,298 V296.0 M585.8,298 V294.9 M586.3,298 V296.6 M586.8,298 V294.6 M587.3,298 V294.5 M587.8,298 V295.9 M588.3,298 V294.0 M588.8,298 V296.6 M589.3,298 V293.0 M589.8,298 V294.3 M590.3,298 V293.2 M590.8,298 V292.6 M591.3,298 V294.8 M591.8,298 V297.1 M592.3,298 V295.6 M592.8,298 V297.5 M593.3,298 V293.9 M593.8,298 V296.3 M594.3,298 V297.5 M594.8,298 V295.0 M595.3,298 V295.7 M595.8,298 V297.2 M596.3,298 V292.6 M596.8,298 V297.3 M597.3,298 V297.4 M597.8,298 V295.3 M598.3,298 V292.9 M598.8,298 V295.8 M599.3,298 V296.3 M599.8,298 V296.5 M600.3,298 V293.4 M600.8,298 V296.8 M601.3,298 V293.8 M601.8,298 V297.3 M602.3,298 V295.6 M602.8,298 V294.8 M603.3,298 V293.0 M603.8,298 V292.8 M604.3,298 V295.9 M604.8,298 V297.3 M605.3,298 V292.6 M605.8,298 V296.9 M606.3,298 V293.8 M606.8,298 V292.9 M607.3,298 V293.8 M607.8,298 V297.4 M608.3,298 V292.7 M608.8,298 V296.9 M609.3,298 V293.1 M609.8,298 V297.5 M610.3,298 V294.8 M610.8,298 V292.5 M611.3,298 V293.9 M611.8,298 V293.7 M612.3,298 V293.4 M612.8,298 V297.3 M613.3,298 V296.7 M613.8,298 V296.0 M614.3,298 V294.1 M614.8,298 V294.8 M615.3,298 V296.7 M615.8,298 V292.6 M616.3,298 V293.0 M616.8,298 V296.3 M617.3,298 V293.5 M617.8,298 V295.1 M618.3,298 V293.3 M618.8,298 V297.4 M619.3,298 V296.6 M619.8,298 V294.6 M620.3,298 V295.8 M620.8,298 V297.5 M621.3,298 V294.8 M621.8,298 V294.1 M622.3,298 V295.2 M622.8,298 V294.5 M623.3,298 V293.8 M623.8,298 V293.2 M624.3,298 V296.8 M624.8,298 V294.9 M625.3,298 V292.5 M625.8,298 V296.8 M626.3,298 V294.9 M626.8,298 V295.0 M627.3,298 V295.1 M627.8,298 V293.5 M628.3,298 V295.8 M628.8,298 V296.1 M629.3,298 V296.5 M629.8,298 V294.1 M630.3,298 V295.5 M630.8,298 V296.8 M631.3,298 V297.4 M631.8,298 V294.3 M632.3,298 V296.2 M632.8,298 V296.6 M633.3,298 V295.9 M633.8,298 V297.5 M634.3,298 V295.0 M634.8,298 V295.4 M635.3,298 V294.0 M635.8,298 V292.8 M636.3,298 V293.0 M636.8,298 V295.5 M637.3,298 V293.1 M637.8,298 V294.5 M638.3,298 V297.4 M638.8,298 V295.2 M639.3,298 V297.5 M639.8,298 V295.8 M640.3,298 V297.5 M640.8,298 V297.0 M641.3,298 V296.8 M641.8,298 V297.1 M642.3,298 V295.4 M642.8,298 V296.0" stroke="#262426" stroke-width="0.7" fill="none"/>
<path d="M411.8,330 V335.3 M412.3,330 V334.0 M412.8,330 V331.3 M413.3,330 V331.1 M413.8,330 V330.6 M414.3,330 V331.5 M414.8,330 V333.7 M415.3,330 V330.5 M415.8,330 V331.3 M416.3,330 V335.5 M416.8,330 V331.2 M417.3,330 V331.6 M417.8,330 V333.7 M418.3,330 V330.9 M418.8,330 V330.8 M419.3,330 V332.4 M419.8,330 V330.9 M420.3,330 V335.6 M420.8,330 V330.7 M421.3,330 V331.4 M421.8,330 V331.2 M422.3,330 V331.3 M422.8,330 V332.1 M423.3,330 V333.5 M423.8,330 V331.6 M424.3,330 V330.5 M424.8,330 V330.5 M425.3,330 V333.5 M425.8,330 V332.3 M426.3,330 V330.8 M426.8,330 V334.8 M427.3,330 V334.0 M427.8,330 V331.3 M428.3,330 V330.5 M428.8,330 V333.5 M429.3,330 V336.4 M429.8,330 V335.5 M430.3,330 V331.0 M430.8,330 V331.1 M431.3,330 V332.8 M431.8,330 V330.7 M432.3,330 V330.5 M432.8,330 V332.5 M433.3,330 V333.2 M433.8,330 V330.6 M434.3,330 V334.0 M434.8,330 V336.0 M435.3,330 V333.5 M435.8,330 V335.2 M436.3,330 V330.8 M436.8,330 V330.5 M437.3,330 V334.2 M437.8,330 V335.8 M438.3,330 V336.3 M438.8,330 V335.6 M439.3,330 V331.0 M439.8,330 V332.1 M440.3,330 V335.6 M440.8,330 V332.4 M441.3,330 V336.3 M441.8,330 V330.8 M442.3,330 V333.3 M442.8,330 V331.4 M443.3,330 V333.0 M443.8,330 V332.0 M444.3,330 V333.5 M444.8,330 V336.4 M445.3,330 V331.1 M445.8,330 V331.0 M446.3,330 V335.1 M446.8,330 V331.0 M447.3,330 V331.1 M447.8,330 V336.2 M448.3,330 V330.9 M448.8,330 V331.4 M449.3,330 V330.8 M449.8,330 V332.2 M450.3,330 V333.7 M450.8,330 V332.9 M451.3,330 V333.2 M451.8,330 V334.8 M452.3,330 V331.8 M452.8,330 V333.2 M453.3,330 V332.4 M453.8,330 V331.3 M454.3,330 V333.3 M454.8,330 V336.4 M455.3,330 V330.8 M455.8,330 V331.6 M456.3,330 V331.3 M456.8,330 V334.9 M457.3,330 V333.9 M457.8,330 V330.9 M458.3,330 V333.1 M458.8,330 V332.2 M459.3,330 V335.1 M459.8,330 V334.4 M460.3,330 V332.1 M460.8,330 V333.1 M461.3,330 V334.5 M461.8,330 V333.5 M462.3,330 V334.2 M462.8,330 V331.5 M463.3,330 V334.2 M463.8,330 V331.3 M464.3,330 V330.6 M464.8,330 V330.9 M465.3,330 V332.0 M465.8,330 V331.3 M466.3,330 V335.0 M466.8,330 V333.9 M467.3,330 V330.8 M467.8,330 V330.8 M468.3,330 V331.4 M468.8,330 V330.6 M469.3,330 V331.0 M469.8,330 V331.7 M470.3,330 V332.9 M470.8,330 V330.7 M471.3,330 V332.0 M471.8,330 V333.7 M472.3,330 V331.3 M472.8,330 V335.2 M473.3,330 V332.0 M473.8,330 V335.8 M474.3,330 V331.1 M474.8,330 V334.2 M475.3,330 V334.7 M475.8,330 V335.0 M476.3,330 V335.7 M476.8,330 V335.2 M477.3,330 V332.1 M477.8,330 V334.4 M478.3,330 V332.3 M478.8,330 V333.9 M479.3,330 V335.5 M479.8,330 V331.9 M480.3,330 V336.1 M480.8,330 V331.6 M481.3,330 V335.7 M481.8,330 V331.2 M482.3,330 V332.9 M482.8,330 V335.0 M483.3,330 V332.8 M483.8,330 V335.4 M484.3,330 V331.9 M484.8,330 V335.2 M485.3,330 V332.2 M485.8,330 V334.2 M486.3,330 V333.5 M486.8,330 V334.8 M487.3,330 V334.3 M487.8,330 V330.8 M488.3,330 V333.8 M488.8,330 V332.4 M489.3,330 V335.9 M489.8,330 V331.5 M490.3,330 V331.3 M490.8,330 V330.7 M491.3,330 V332.4 M491.8,330 V332.2 M492.3,330 V331.2 M492.8,330 V334.1 M493.3,330 V331.0 M493.8,330 V332.0 M494.3,330 V332.9 M494.8,330 V332.6 M495.3,330 V332.1 M495.8,330 V331.5 M496.3,330 V336.4 M496.8,330 V334.5 M497.3,330 V331.1 M497.8,330 V331.1 M498.3,330 V332.1 M498.8,330 V330.8 M499.3,330 V335.0 M499.8,330 V335.2 M500.3,330 V330.8 M500.8,330 V331.1 M501.3,330 V334.0 M501.8,330 V333.3 M502.3,330 V330.7 M502.8,330 V334.9 M503.3,330 V331.0 M503.8,330 V335.1 M504.3,330 V330.9 M504.8,330 V335.0 M505.3,330 V334.6 M505.8,330 V333.5 M506.3,330 V331.8 M506.8,330 V334.8 M507.3,330 V333.2 M507.8,330 V334.2 M508.3,330 V331.3 M508.8,330 V331.6 M509.3,330 V335.6 M509.8,330 V333.3 M510.3,330 V335.9 M510.8,330 V331.8 M511.3,330 V336.0 M511.8,330 V331.2 M512.3,330 V332.1 M512.8,330 V336.1 M513.3,330 V331.0 M513.8,330 V331.0 M514.3,330 V336.3 M514.8,330 V335.9 M515.3,330 V332.5 M515.8,330 V330.7 M516.3,330 V333.7 M516.8,330 V335.6 M517.3,330 V331.0 M517.8,330 V334.2 M518.3,330 V336.0 M518.8,330 V330.8 M519.3,330 V331.5 M519.8,330 V331.6 M520.3,330 V333.2 M520.8,330 V331.0 M521.3,330 V334.9 M521.8,330 V335.0 M522.3,330 V333.4 M522.8,330 V331.8 M523.3,330 V334.8 M523.8,330 V335.8 M524.3,330 V331.7 M524.8,330 V336.4 M525.3,330 V331.0 M525.8,330 V333.6 M526.3,330 V334.7 M526.8,330 V330.7 M527.3,330 V336.2 M527.8,330 V332.3 M528.3,330 V332.0 M528.8,330 V332.3 M529.3,330 V331.4 M529.8,330 V332.1 M530.3,330 V333.1 M530.8,330 V333.9 M531.3,330 V332.4 M531.8,330 V331.3 M532.3,330 V331.3 M532.8,330 V331.2 M533.3,330 V333.7 M533.8,330 V333.4 M534.3,330 V330.5 M534.8,330 V330.7 M535.3,330 V334.6 M535.8,330 V330.6 M536.3,330 V330.8 M536.8,330 V333.0 M537.3,330 V330.6 M537.8,330 V331.0 M538.3,330 V330.7 M538.8,330 V335.2 M539.3,330 V332.4 M539.8,330 V331.4 M540.3,330 V331.3 M540.8,330 V333.3 M541.3,330 V330.7 M541.8,330 V335.8 M542.3,330 V330.6 M542.8,330 V332.5 M543.3,330 V330.7 M543.8,330 V332.9 M544.3,330 V331.9 M544.8,330 V330.9 M545.3,330 V331.9 M545.8,330 V331.4 M546.3,330 V331.4 M546.8,330 V335.6 M547.3,330 V332.1 M547.8,330 V335.9 M548.3,330 V335.5 M548.8,330 V334.5 M549.3,330 V330.9 M549.8,330 V333.5 M550.3,330 V333.1 M550.8,330 V332.6 M551.3,330 V331.6 M551.8,330 V334.0 M552.3,330 V335.9 M552.8,330 V336.0 M553.3,330 V331.2 M553.8,330 V333.8 M554.3,330 V332.8 M554.8,330 V333.6 M555.3,330 V336.5 M555.8,330 V330.6 M556.3,330 V332.7 M556.8,330 V332.6 M557.3,330 V333.2 M557.8,330 V330.6 M558.3,330 V335.2 M558.8,330 V330.5 M559.3,330 V336.2 M559.8,330 V330.7 M560.3,330 V332.0 M560.8,330 V336.3 M561.3,330 V335.3 M561.8,330 V334.2 M562.3,330 V334.6 M562.8,330 V331.0 M563.3,330 V333.7 M563.8,330 V333.5 M564.3,330 V336.1 M564.8,330 V334.1 M565.3,330 V335.7 M565.8,330 V332.7 M566.3,330 V335.9 M566.8,330 V336.0 M567.3,330 V333.3 M567.8,330 V334.3 M568.3,330 V333.9 M568.8,330 V330.5 M569.3,330 V330.8 M569.8,330 V335.0 M570.3,330 V334.2 M570.8,330 V332.3 M571.3,330 V335.3 M571.8,330 V330.6 M572.3,330 V333.9 M572.8,330 V331.0 M573.3,330 V333.2 M573.8,330 V331.6 M574.3,330 V333.5 M574.8,330 V330.6 M575.3,330 V333.8 M575.8,330 V332.1 M576.3,330 V330.7 M576.8,330 V331.0 M577.3,330 V334.0 M577.8,330 V335.9 M578.3,330 V334.2 M578.8,330 V331.7 M579.3,330 V330.9 M579.8,330 V334.5 M580.3,330 V331.7 M580.8,330 V330.9 M581.3,330 V334.4 M581.8,330 V335.1 M582.3,330 V334.0 M582.8,330 V333.9 M583.3,330 V332.3 M583.8,330 V335.5 M584.3,330 V331.1 M584.8,330 V331.7 M585.3,330 V331.5 M585.8,330 V334.8 M586.3,330 V334.3 M586.8,330 V334.6 M587.3,330 V332.5 M587.8,330 V332.3 M588.3,330 V330.5 M588.8,330 V332.9 M589.3,330 V331.4 M589.8,330 V330.6 M590.3,330 V332.9 M590.8,330 V331.4 M591.3,330 V330.9 M591.8,330 V332.5 M592.3,330 V334.2 M592.8,330 V331.6 M593.3,330 V330.8 M593.8,330 V330.6 M594.3,330 V333.1 M594.8,330 V331.8 M595.3,330 V330.6 M595.8,330 V331.3 M596.3,330 V330.7 M596.8,330 V334.3 M597.3,330 V334.7 M597.8,330 V331.7 M598.3,330 V332.1 M598.8,330 V332.3 M599.3,330 V336.2 M599.8,330 V335.4 M600.3,330 V333.1 M600.8,330 V335.9 M601.3,330 V335.9 M601.8,330 V332.5 M602.3,330 V332.4 M602.8,330 V335.1 M603.3,330 V332.9 M603.8,330 V333.5 M604.3,330 V330.5 M604.8,330 V331.2 M605.3,330 V333.7 M605.8,330 V336.3 M606.3,330 V333.5 M606.8,330 V331.6 M607.3,330 V330.6 M607.8,330 V330.7 M608.3,330 V336.1 M608.8,330 V331.5 M609.3,330 V333.3 M609.8,330 V332.7 M610.3,330 V335.5 M610.8,330 V332.9 M611.3,330 V331.5 M611.8,330 V331.4 M612.3,330 V332.4 M612.8,330 V333.3 M613.3,330 V333.4 M613.8,330 V332.2 M614.3,330 V334.5 M614.8,330 V331.3 M615.3,330 V334.6 M615.8,330 V335.5 M616.3,330 V333.8 M616.8,330 V330.5 M617.3,330 V334.4 M617.8,330 V334.6 M618.3,330 V331.2 M618.8,330 V330.8 M619.3,330 V331.3 M619.8,330 V331.3 M620.3,330 V331.3 M620.8,330 V335.5 M621.3,330 V330.8 M621.8,330 V333.8 M622.3,330 V334.0 M622.8,330 V333.0 M623.3,330 V336.0 M623.8,330 V330.7 M624.3,330 V331.4 M624.8,330 V333.6 M625.3,330 V332.7 M625.8,330 V331.7 M626.3,330 V330.7 M626.8,330 V334.5 M627.3,330 V332.3 M627.8,330 V332.0 M628.3,330 V330.8 M628.8,330 V335.5 M629.3,330 V336.2 M629.8,330 V332.5 M630.3,330 V330.6 M630.8,330 V333.9 M631.3,330 V336.3 M631.8,330 V332.0 M632.3,330 V332.8 M632.8,330 V334.1 M633.3,330 V331.0 M633.8,330 V334.6 M634.3,330 V335.1 M634.8,330 V330.5 M635.3,330 V332.0 M635.8,330 V331.9 M636.3,330 V334.9 M636.8,330 V332.9 M637.3,330 V336.2 M637.8,330 V330.8 M638.3,330 V332.7 M638.8,330 V332.6 M639.3,330 V331.7 M639.8,330 V330.6 M640.3,330 V333.2 M640.8,330 V332.1 M641.3,330 V334.3 M641.8,330 V333.4 M642.3,330 V333.2 M642.8,330 V332.4" stroke="#262426" stroke-width="0.7" fill="none"/>
<circle cx="594.1" cy="295.1" r="1.7" fill="none" stroke="#444" stroke-width="0.6"/>
<circle cx="459.6" cy="292.1" r="1.7" fill="none" stroke="#444" stroke-width="0.6"/>
<circle cx="582.7" cy="293.3" r="1.7" fill="none" stroke="#444" stroke-width="0.6"/>
<circle cx="565.7" cy="333.0" r="1.7" fill="none" stroke="#444" stroke-width="0.6"/>
<circle cx="573.5" cy="293.7" r="1.7" fill="none" stroke="#444" stroke-width="0.6"/>
<circle cx="607.3" cy="331.2" r="1.7" fill="none" stroke="#444" stroke-width="0.6"/>
<circle cx="552.7" cy="296.9" r="1.7" fill="none" stroke="#444" stroke-width="0.6"/>
<circle cx="551.0" cy="334.9" r="1.7" fill="none" stroke="#444" stroke-width="0.6"/>
<circle cx="594.0" cy="296.4" r="1.7" fill="none" stroke="#444" stroke-width="0.6"/>
<circle cx="623.4" cy="332.0" r="1.7" fill="none" stroke="#444" stroke-width="0.6"/>
<circle cx="551.6" cy="335.6" r="1.7" fill="none" stroke="#444" stroke-width="0.6"/>
<circle cx="613.5" cy="293.1" r="1.7" fill="none" stroke="#444" stroke-width="0.6"/>
<circle cx="525.8" cy="295.3" r="1.7" fill="none" stroke="#444" stroke-width="0.6"/>
<circle cx="589.1" cy="295.4" r="1.7" fill="none" stroke="#444" stroke-width="0.6"/>
<circle cx="433.8" cy="333.1" r="1.7" fill="none" stroke="#444" stroke-width="0.6"/>
<circle cx="550.5" cy="296.3" r="1.7" fill="none" stroke="#444" stroke-width="0.6"/>
<circle cx="508.4" cy="334.7" r="1.7" fill="none" stroke="#444" stroke-width="0.6"/>
<circle cx="421.9" cy="292.8" r="1.7" fill="none" stroke="#444" stroke-width="0.6"/>
<circle cx="519.9" cy="334.4" r="1.7" fill="none" stroke="#444" stroke-width="0.6"/>
<circle cx="469.5" cy="336.5" r="1.7" fill="none" stroke="#444" stroke-width="0.6"/>
<circle cx="472.1" cy="292.1" r="1.7" fill="none" stroke="#444" stroke-width="0.6"/>
<circle cx="473.9" cy="336.1" r="1.7" fill="none" stroke="#444" stroke-width="0.6"/>
<circle cx="568.4" cy="334.3" r="1.7" fill="none" stroke="#444" stroke-width="0.6"/>
<circle cx="571.9" cy="333.5" r="1.7" fill="none" stroke="#444" stroke-width="0.6"/>
<circle cx="495.6" cy="293.3" r="1.7" fill="none" stroke="#444" stroke-width="0.6"/>
<circle cx="477.7" cy="293.5" r="1.7" fill="none" stroke="#444" stroke-width="0.6"/>
<circle cx="555.2" cy="332.1" r="1.7" fill="none" stroke="#444" stroke-width="0.6"/>
<circle cx="571.7" cy="333.7" r="1.7" fill="none" stroke="#444" stroke-width="0.6"/>
<circle cx="527.7" cy="293.1" r="1.7" fill="none" stroke="#444" stroke-width="0.6"/>
<circle cx="429.0" cy="336.8" r="1.7" fill="none" stroke="#444" stroke-width="0.6"/>
<circle cx="530.8" cy="336.2" r="1.7" fill="none" stroke="#444" stroke-width="0.6"/>
<circle cx="640.8" cy="292.4" r="1.7" fill="none" stroke="#444" stroke-width="0.6"/>
<circle cx="612.1" cy="296.0" r="1.7" fill="none" stroke="#444" stroke-width="0.6"/>
<circle cx="515.3" cy="296.9" r="1.7" fill="none" stroke="#444" stroke-width="0.6"/>
<circle cx="546.4" cy="292.9" r="1.7" fill="none" stroke="#444" stroke-width="0.6"/>
<circle cx="567.7" cy="333.7" r="1.7" fill="none" stroke="#444" stroke-width="0.6"/>
<circle cx="640.6" cy="296.6" r="1.7" fill="none" stroke="#444" stroke-width="0.6"/>
<circle cx="462.7" cy="295.3" r="1.7" fill="none" stroke="#444" stroke-width="0.6"/>
<circle cx="467.9" cy="293.6" r="1.7" fill="none" stroke="#444" stroke-width="0.6"/>
<circle cx="637.6" cy="292.9" r="1.7" fill="none" stroke="#444" stroke-width="0.6"/>
<circle cx="587.1" cy="292.3" r="1.7" fill="none" stroke="#444" stroke-width="0.6"/>
<circle cx="594.7" cy="335.4" r="1.7" fill="none" stroke="#444" stroke-width="0.6"/>
<circle cx="560.9" cy="296.9" r="1.7" fill="none" stroke="#444" stroke-width="0.6"/>
<circle cx="485.7" cy="292.6" r="1.7" fill="none" stroke="#444" stroke-width="0.6"/>
<circle cx="612.0" cy="336.3" r="1.7" fill="none" stroke="#444" stroke-width="0.6"/>
<circle cx="501.4" cy="295.2" r="1.7" fill="none" stroke="#444" stroke-width="0.6"/>
<circle cx="467.3" cy="293.4" r="1.7" fill="none" stroke="#444" stroke-width="0.6"/>
<circle cx="427.0" cy="332.4" r="1.7" fill="none" stroke="#444" stroke-width="0.6"/>
<circle cx="628.2" cy="331.7" r="1.7" fill="none" stroke="#444" stroke-width="0.6"/>
<circle cx="628.0" cy="331.0" r="1.7" fill="none" stroke="#444" stroke-width="0.6"/>
<circle cx="525.6" cy="293.9" r="1.7" fill="none" stroke="#444" stroke-width="0.6"/>
<circle cx="438.8" cy="334.7" r="1.7" fill="none" stroke="#444" stroke-width="0.6"/>
<circle cx="501.8" cy="296.7" r="1.7" fill="none" stroke="#444" stroke-width="0.6"/>
<circle cx="459.0" cy="292.1" r="1.7" fill="none" stroke="#444" stroke-width="0.6"/>
<circle cx="515.5" cy="294.4" r="1.7" fill="none" stroke="#444" stroke-width="0.6"/>
<circle cx="441.9" cy="332.4" r="1.7" fill="none" stroke="#444" stroke-width="0.6"/>
<circle cx="555.1" cy="295.7" r="1.7" fill="none" stroke="#444" stroke-width="0.6"/>
<circle cx="492.9" cy="292.3" r="1.7" fill="none" stroke="#444" stroke-width="0.6"/>
<circle cx="619.0" cy="293.2" r="1.7" fill="none" stroke="#444" stroke-width="0.6"/>
<circle cx="431.8" cy="292.2" r="1.7" fill="none" stroke="#444" stroke-width="0.6"/>
<circle cx="548.8" cy="332.1" r="1.7" fill="none" stroke="#444" stroke-width="0.6"/>
<circle cx="437.7" cy="293.0" r="1.7" fill="none" stroke="#444" stroke-width="0.6"/>
<circle cx="428.1" cy="335.7" r="1.7" fill="none" stroke="#444" stroke-width="0.6"/>
<circle cx="446.4" cy="334.0" r="1.7" fill="none" stroke="#444" stroke-width="0.6"/>
<circle cx="413.1" cy="293.5" r="1.7" fill="none" stroke="#444" stroke-width="0.6"/>
<circle cx="456.5" cy="331.1" r="1.7" fill="none" stroke="#444" stroke-width="0.6"/>
<circle cx="478.8" cy="293.4" r="1.7" fill="none" stroke="#444" stroke-width="0.6"/>
<circle cx="500.4" cy="295.5" r="1.7" fill="none" stroke="#444" stroke-width="0.6"/>
<circle cx="621.8" cy="332.7" r="1.7" fill="none" stroke="#444" stroke-width="0.6"/>
<circle cx="468.3" cy="297.0" r="1.7" fill="none" stroke="#444" stroke-width="0.6"/>
<circle cx="557.0" cy="333.1" r="1.7" fill="none" stroke="#444" stroke-width="0.6"/>
<circle cx="437.9" cy="335.4" r="1.7" fill="none" stroke="#444" stroke-width="0.6"/>
<circle cx="548.4" cy="334.5" r="1.7" fill="none" stroke="#444" stroke-width="0.6"/>
<circle cx="642.8" cy="296.2" r="1.7" fill="none" stroke="#444" stroke-width="0.6"/>
<circle cx="471.8" cy="294.5" r="1.7" fill="none" stroke="#444" stroke-width="0.6"/>
<circle cx="512.2" cy="332.3" r="1.7" fill="none" stroke="#444" stroke-width="0.6"/>
<circle cx="456.1" cy="294.2" r="1.7" fill="none" stroke="#444" stroke-width="0.6"/>
<circle cx="472.5" cy="293.8" r="1.7" fill="none" stroke="#444" stroke-width="0.6"/>
<circle cx="537.2" cy="333.3" r="1.7" fill="none" stroke="#444" stroke-width="0.6"/>
<circle cx="581.4" cy="335.1" r="1.7" fill="none" stroke="#444" stroke-width="0.6"/>
<line x1="422.5" y1="266.5" x2="441.8" y2="266.5" stroke="#14a84e" stroke-width="1.6"/>
<path d="M439.8,263.8 L445.3,266.5 L439.8,269.2 Z" fill="#14a84e"/>
<circle cx="422.5" cy="266.5" r="2.1" fill="#e53030"/>
<circle cx="446.8" cy="266.5" r="2.1" fill="#14a84e"/>
<line x1="459.9" y1="266.5" x2="479" y2="266.5" stroke="#14a84e" stroke-width="1.6"/>
<path d="M477,263.8 L482.5,266.5 L477,269.2 Z" fill="#14a84e"/>
<circle cx="459.9" cy="266.5" r="2.1" fill="#e53030"/>
<circle cx="484" cy="266.5" r="2.1" fill="#14a84e"/>
<line x1="497.7" y1="266.5" x2="511.29999999999995" y2="266.5" stroke="#14a84e" stroke-width="1.6"/>
<path d="M509.29999999999995,263.8 L514.8,266.5 L509.29999999999995,269.2 Z" fill="#14a84e"/>
<circle cx="497.7" cy="266.5" r="2.1" fill="#e53030"/>
<circle cx="516.3" cy="266.5" r="2.1" fill="#14a84e"/>
<line x1="534.4" y1="266.5" x2="543" y2="266.5" stroke="#14a84e" stroke-width="1.6"/>
<path d="M541,263.8 L546.5,266.5 L541,269.2 Z" fill="#14a84e"/>
<circle cx="534.4" cy="266.5" r="2.1" fill="#e53030"/>
<circle cx="548" cy="266.5" r="2.1" fill="#14a84e"/>
<line x1="571.5" y1="266.5" x2="579.5" y2="266.5" stroke="#14a84e" stroke-width="1.6"/>
<path d="M577.5,263.8 L583.0,266.5 L577.5,269.2 Z" fill="#14a84e"/>
<circle cx="571.5" cy="266.5" r="2.1" fill="#e53030"/>
<circle cx="584.5" cy="266.5" r="2.1" fill="#14a84e"/>
<line x1="609.2" y1="266.5" x2="616.3" y2="266.5" stroke="#14a84e" stroke-width="1.6"/>
<path d="M614.3,263.8 L619.8,266.5 L614.3,269.2 Z" fill="#14a84e"/>
<circle cx="609.2" cy="266.5" r="2.1" fill="#e53030"/>
<circle cx="621.3" cy="266.5" r="2.1" fill="#14a84e"/>
<line x1="409" y1="357.5" x2="409" y2="215" stroke="#222" stroke-width="1.9"/>
<path d="M406.4,217.5 L409,211 L411.6,217.5 L409,216 Z" fill="#222"/>
<line x1="408.2" y1="357" x2="644.5" y2="357" stroke="#222" stroke-width="1.9"/>
<path d="M642.0,354.4 L648.5,357 L642.0,359.6 L643.5,357 Z" fill="#222"/>
<line x1="409.8" y1="215.95000000000002" x2="413.6" y2="215.95000000000002" stroke="#222" stroke-width="1.1"/>
<text x="402" y="219.25000000000003" font-family="Liberation Sans, sans-serif" font-size="9.2" fill="#333" text-anchor="end">0.3</text>
<line x1="409.8" y1="236.00000000000003" x2="413.6" y2="236.00000000000003" stroke="#222" stroke-width="1.1"/>
<text x="402" y="239.30000000000004" font-family="Liberation Sans, sans-serif" font-size="9.2" fill="#333" text-anchor="end">0.2</text>
<line x1="409.8" y1="256.05" x2="413.6" y2="256.05" stroke="#222" stroke-width="1.1"/>
<text x="402" y="259.35" font-family="Liberation Sans, sans-serif" font-size="9.2" fill="#333" text-anchor="end">0.1</text>
<line x1="409.8" y1="276.1" x2="413.6" y2="276.1" stroke="#222" stroke-width="1.1"/>
<text x="402" y="279.40000000000003" font-family="Liberation Sans, sans-serif" font-size="9.2" fill="#333" text-anchor="end">0</text>
<line x1="409.8" y1="296.15000000000003" x2="413.6" y2="296.15000000000003" stroke="#222" stroke-width="1.1"/>
<text x="402" y="299.45000000000005" font-family="Liberation Sans, sans-serif" font-size="9.2" fill="#333" text-anchor="end">−0.1</text>
<line x1="409.8" y1="316.20000000000005" x2="413.6" y2="316.20000000000005" stroke="#222" stroke-width="1.1"/>
<text x="402" y="319.50000000000006" font-family="Liberation Sans, sans-serif" font-size="9.2" fill="#333" text-anchor="end">−0.2</text>
<line x1="409.8" y1="336.25" x2="413.6" y2="336.25" stroke="#222" stroke-width="1.1"/>
<text x="402" y="339.55" font-family="Liberation Sans, sans-serif" font-size="9.2" fill="#333" text-anchor="end">−0.3</text>
<line x1="409.8" y1="356.3" x2="413.6" y2="356.3" stroke="#222" stroke-width="1.1"/>
<text x="402" y="359.6" font-family="Liberation Sans, sans-serif" font-size="9.2" fill="#333" text-anchor="end">−0.4</text>
<line x1="429.6" y1="356.2" x2="429.6" y2="352.4" stroke="#222" stroke-width="1.1"/>
<text x="429.6" y="370" font-family="Liberation Sans, sans-serif" font-size="9.2" fill="#333" text-anchor="middle">0</text>
<line x1="482.40000000000003" y1="356.2" x2="482.40000000000003" y2="352.4" stroke="#222" stroke-width="1.1"/>
<text x="482.40000000000003" y="370" font-family="Liberation Sans, sans-serif" font-size="9.2" fill="#333" text-anchor="middle">0.1</text>
<line x1="535.2" y1="356.2" x2="535.2" y2="352.4" stroke="#222" stroke-width="1.1"/>
<text x="535.2" y="370" font-family="Liberation Sans, sans-serif" font-size="9.2" fill="#333" text-anchor="middle">0.2</text>
<line x1="588.0" y1="356.2" x2="588.0" y2="352.4" stroke="#222" stroke-width="1.1"/>
<text x="588.0" y="370" font-family="Liberation Sans, sans-serif" font-size="9.2" fill="#333" text-anchor="middle">0.3</text>
<line x1="640.8000000000001" y1="356.2" x2="640.8000000000001" y2="352.4" stroke="#222" stroke-width="1.1"/>
<text x="640.8000000000001" y="370" font-family="Liberation Sans, sans-serif" font-size="9.2" fill="#333" text-anchor="middle">0.4</text>
<text x="532.6" y="384.4" font-family="Liberation Sans, sans-serif" font-size="10.4" fill="#333" text-anchor="middle">Time (ms)</text>
<text transform="translate(363.6,289.6) rotate(-90)" font-family="Liberation Sans, sans-serif" font-size="10.9" fill="#333" text-anchor="middle">Photodetector output (V)</text>
<text transform="translate(377.4,291.4) rotate(-90)" font-family="Liberation Sans, sans-serif" font-size="10.9" fill="#333" text-anchor="middle">(PPM encoded)</text>
<polyline points="413.2,397.8 422.5,397.3 460,399 497.7,449 534.5,512.5 572.5,517.4 609.9,521.5 619,522.1" fill="none" stroke="#111" stroke-width="1.5"/>
<line x1="422.5" y1="547" x2="422.5" y2="402.3" stroke="#14a84e" stroke-width="1.8"/>
<path d="M419.9,404.3 L422.5,397.8 L425.1,404.3 Z" fill="#14a84e"/>
<line x1="422.5" y1="298.5" x2="422.5" y2="396.3" stroke="#e53030" stroke-width="2" stroke-dasharray="7.5 5.5"/>
<circle cx="422.5" cy="397.3" r="1.3" fill="#111"/>
<line x1="460" y1="547" x2="460" y2="404" stroke="#14a84e" stroke-width="1.8"/>
<path d="M457.4,406 L460,399.5 L462.6,406 Z" fill="#14a84e"/>
<line x1="460" y1="298.5" x2="460" y2="398" stroke="#e53030" stroke-width="2" stroke-dasharray="7.5 5.5"/>
<circle cx="460" cy="399" r="1.3" fill="#111"/>
<line x1="497.7" y1="547" x2="497.7" y2="454" stroke="#14a84e" stroke-width="1.8"/>
<path d="M495.09999999999997,456 L497.7,449.5 L500.3,456 Z" fill="#14a84e"/>
<line x1="497.7" y1="298.5" x2="497.7" y2="448" stroke="#e53030" stroke-width="2" stroke-dasharray="7.5 5.5"/>
<circle cx="497.7" cy="449" r="1.3" fill="#111"/>
<line x1="534.5" y1="547" x2="534.5" y2="517.5" stroke="#14a84e" stroke-width="1.8"/>
<path d="M531.9,519.5 L534.5,513.0 L537.1,519.5 Z" fill="#14a84e"/>
<line x1="534.5" y1="298.5" x2="534.5" y2="511.5" stroke="#e53030" stroke-width="2" stroke-dasharray="7.5 5.5"/>
<circle cx="534.5" cy="512.5" r="1.3" fill="#111"/>
<line x1="572.5" y1="547" x2="572.5" y2="522.4" stroke="#14a84e" stroke-width="1.8"/>
<path d="M569.9,524.4 L572.5,517.9 L575.1,524.4 Z" fill="#14a84e"/>
<line x1="572.5" y1="298.5" x2="572.5" y2="516.4" stroke="#e53030" stroke-width="2" stroke-dasharray="7.5 5.5"/>
<circle cx="572.5" cy="517.4" r="1.3" fill="#111"/>
<line x1="609.9" y1="547" x2="609.9" y2="526.5" stroke="#14a84e" stroke-width="1.8"/>
<path d="M607.3,528.5 L609.9,522.0 L612.5,528.5 Z" fill="#14a84e"/>
<line x1="609.9" y1="298.5" x2="609.9" y2="520.5" stroke="#e53030" stroke-width="2" stroke-dasharray="7.5 5.5"/>
<circle cx="609.9" cy="521.5" r="1.3" fill="#111"/>
<line x1="409" y1="548" x2="409" y2="394.2" stroke="#222" stroke-width="1.9"/>
<path d="M406.4,396.7 L409,390.2 L411.6,396.7 L409,395.2 Z" fill="#222"/>
<line x1="408.2" y1="547" x2="644.8" y2="547" stroke="#222" stroke-width="1.9"/>
<path d="M642.3,544.4 L648.8,547 L642.3,549.6 L643.8,547 Z" fill="#222"/>
<line x1="409.8" y1="400.6" x2="413.6" y2="400.6" stroke="#222" stroke-width="1.1"/>
<text x="402" y="403.90000000000003" font-family="Liberation Sans, sans-serif" font-size="9.2" fill="#333" text-anchor="end">2.5</text>
<line x1="409.8" y1="424.70000000000005" x2="413.6" y2="424.70000000000005" stroke="#222" stroke-width="1.1"/>
<text x="402" y="428.00000000000006" font-family="Liberation Sans, sans-serif" font-size="9.2" fill="#333" text-anchor="end">2.0</text>
<line x1="409.8" y1="448.8" x2="413.6" y2="448.8" stroke="#222" stroke-width="1.1"/>
<text x="402" y="452.1" font-family="Liberation Sans, sans-serif" font-size="9.2" fill="#333" text-anchor="end">1.5</text>
<line x1="409.8" y1="472.90000000000003" x2="413.6" y2="472.90000000000003" stroke="#222" stroke-width="1.1"/>
<text x="402" y="476.20000000000005" font-family="Liberation Sans, sans-serif" font-size="9.2" fill="#333" text-anchor="end">1.0</text>
<line x1="409.8" y1="497.0" x2="413.6" y2="497.0" stroke="#222" stroke-width="1.1"/>
<text x="402" y="500.3" font-family="Liberation Sans, sans-serif" font-size="9.2" fill="#333" text-anchor="end">0.5</text>
<line x1="409.8" y1="521.1" x2="413.6" y2="521.1" stroke="#222" stroke-width="1.1"/>
<text x="402" y="524.4" font-family="Liberation Sans, sans-serif" font-size="9.2" fill="#333" text-anchor="end">0</text>
<line x1="409.8" y1="545.2" x2="413.6" y2="545.2" stroke="#222" stroke-width="1.1"/>
<text x="402" y="548.5" font-family="Liberation Sans, sans-serif" font-size="9.2" fill="#333" text-anchor="end">−0.5</text>
<line x1="429.6" y1="546.2" x2="429.6" y2="542.4000000000001" stroke="#222" stroke-width="1.1"/>
<text x="429.6" y="559.8" font-family="Liberation Sans, sans-serif" font-size="9.2" fill="#333" text-anchor="middle">0</text>
<line x1="482.40000000000003" y1="546.2" x2="482.40000000000003" y2="542.4000000000001" stroke="#222" stroke-width="1.1"/>
<text x="482.40000000000003" y="559.8" font-family="Liberation Sans, sans-serif" font-size="9.2" fill="#333" text-anchor="middle">0.1</text>
<line x1="535.2" y1="546.2" x2="535.2" y2="542.4000000000001" stroke="#222" stroke-width="1.1"/>
<text x="535.2" y="559.8" font-family="Liberation Sans, sans-serif" font-size="9.2" fill="#333" text-anchor="middle">0.2</text>
<line x1="588.0" y1="546.2" x2="588.0" y2="542.4000000000001" stroke="#222" stroke-width="1.1"/>
<text x="588.0" y="559.8" font-family="Liberation Sans, sans-serif" font-size="9.2" fill="#333" text-anchor="middle">0.3</text>
<line x1="640.8000000000001" y1="546.2" x2="640.8000000000001" y2="542.4000000000001" stroke="#222" stroke-width="1.1"/>
<text x="640.8000000000001" y="559.8" font-family="Liberation Sans, sans-serif" font-size="9.2" fill="#333" text-anchor="middle">0.4</text>
<text x="528.4" y="573" font-family="Liberation Sans, sans-serif" font-size="10.4" fill="#333" text-anchor="middle">Time (ms)</text>
<text transform="translate(375.4,476.5) rotate(-90)" font-family="Liberation Sans, sans-serif" font-size="10.66" fill="#333" text-anchor="middle">Decoded amplitude (mV)</text>
<text x="0" y="617" font-family="Liberation Sans, sans-serif" font-size="10" fill="#333">(i)</text>
<text x="501" y="617" font-family="Liberation Sans, sans-serif" font-size="10" fill="#333">(ii)</text>
<text x="120.9" y="608" font-family="Liberation Sans, sans-serif" font-size="10.6" fill="#e8474a">Isoproterenol (5 µM)</text>
<text x="286.4" y="608" font-family="Liberation Sans, sans-serif" font-size="10.6" fill="#e8474a">Blebbistatin (5 µM)</text>
<rect x="146.8" y="617.8000000000001" width="33.89999999999998" height="4.8" fill="url(#cArrow)"/>
<path d="M176.39999999999998,613.4000000000001 L192.7,620.2 L176.39999999999998,627.0 Q180.2,620.2 176.39999999999998,613.4000000000001 Z" fill="#5ab4e0"/>
<rect x="308.9" y="617.7" width="33.60000000000002" height="4.8" fill="url(#cArrow)"/>
<path d="M338.2,613.3000000000001 L354.5,620.1 L338.2,626.9 Q342.0,620.1 338.2,613.3000000000001 Z" fill="#5ab4e0"/>
<line x1="45.4" y1="657.0" x2="45.4" y2="726.5" stroke="#111" stroke-width="1.1"/>
<circle cx="45.4" cy="657.0" r="1.6" fill="#111"/>
<circle cx="45.4" cy="680.3" r="1.4" fill="#111"/>
<circle cx="45.4" cy="677.3" r="1.4" fill="#111"/>
<circle cx="45.4" cy="667.4" r="1.4" fill="#111"/>
<circle cx="45.4" cy="716.8" r="1.3" fill="#111"/>
<circle cx="45.4" cy="703.8" r="1.3" fill="#111"/>
<circle cx="45.4" cy="689.6" r="1.3" fill="#111"/>
<circle cx="45.4" cy="698.4" r="1.3" fill="#111"/>
<circle cx="45.4" cy="690.9" r="1.3" fill="#111"/>
<circle cx="45.4" cy="714.3" r="1.3" fill="#111"/>
<circle cx="45.4" cy="703.7" r="1.3" fill="#111"/>
<circle cx="45.4" cy="710.3" r="1.3" fill="#111"/>
<rect x="43.9" y="711" width="3" height="15.5" rx="1" fill="#111"/>
<line x1="59.6" y1="657.0" x2="59.6" y2="726.5" stroke="#111" stroke-width="1.1"/>
<circle cx="59.6" cy="657.0" r="1.6" fill="#111"/>
<circle cx="59.6" cy="684.9" r="1.4" fill="#111"/>
<circle cx="59.6" cy="680.5" r="1.4" fill="#111"/>
<circle cx="59.6" cy="666.2" r="1.4" fill="#111"/>
<circle cx="59.6" cy="709.3" r="1.3" fill="#111"/>
<circle cx="59.6" cy="690.4" r="1.3" fill="#111"/>
<circle cx="59.6" cy="694.9" r="1.3" fill="#111"/>
<circle cx="59.6" cy="712.9" r="1.3" fill="#111"/>
<circle cx="59.6" cy="693.9" r="1.3" fill="#111"/>
<circle cx="59.6" cy="713.5" r="1.3" fill="#111"/>
<circle cx="59.6" cy="699.3" r="1.3" fill="#111"/>
<rect x="58.1" y="711" width="3" height="15.5" rx="1" fill="#111"/>
<line x1="73.7" y1="657.0" x2="73.7" y2="726.5" stroke="#111" stroke-width="1.1"/>
<circle cx="73.7" cy="657.0" r="1.6" fill="#111"/>
<circle cx="73.7" cy="684.0" r="1.4" fill="#111"/>
<circle cx="73.7" cy="711.4" r="1.3" fill="#111"/>
<circle cx="73.7" cy="711.2" r="1.3" fill="#111"/>
<circle cx="73.7" cy="688.4" r="1.3" fill="#111"/>
<circle cx="73.7" cy="691.7" r="1.3" fill="#111"/>
<rect x="72.2" y="711" width="3" height="15.5" rx="1" fill="#111"/>
<line x1="87.6" y1="657.0" x2="87.6" y2="726.5" stroke="#111" stroke-width="1.1"/>
<circle cx="87.6" cy="657.0" r="1.6" fill="#111"/>
<circle cx="87.6" cy="678.6" r="1.4" fill="#111"/>
<circle cx="87.6" cy="682.0" r="1.4" fill="#111"/>
<circle cx="87.6" cy="712.2" r="1.3" fill="#111"/>
<circle cx="87.6" cy="688.9" r="1.3" fill="#111"/>
<circle cx="87.6" cy="711.8" r="1.3" fill="#111"/>
<circle cx="87.6" cy="689.0" r="1.3" fill="#111"/>
<circle cx="87.6" cy="706.2" r="1.3" fill="#111"/>
<rect x="86.1" y="711" width="3" height="15.5" rx="1" fill="#111"/>
<line x1="101.8" y1="657.0" x2="101.8" y2="726.5" stroke="#111" stroke-width="1.1"/>
<circle cx="101.8" cy="657.0" r="1.6" fill="#111"/>
<circle cx="101.8" cy="677.2" r="1.4" fill="#111"/>
<circle cx="101.8" cy="689.8" r="1.3" fill="#111"/>
<circle cx="101.8" cy="709.8" r="1.3" fill="#111"/>
<circle cx="101.8" cy="707.8" r="1.3" fill="#111"/>
<circle cx="101.8" cy="693.3" r="1.3" fill="#111"/>
<circle cx="101.8" cy="700.2" r="1.3" fill="#111"/>
<rect x="100.3" y="711" width="3" height="15.5" rx="1" fill="#111"/>
<line x1="115.9" y1="657.0" x2="115.9" y2="726.5" stroke="#111" stroke-width="1.1"/>
<circle cx="115.9" cy="657.0" r="1.6" fill="#111"/>
<circle cx="115.9" cy="667.8" r="1.4" fill="#111"/>
<circle cx="115.9" cy="677.9" r="1.4" fill="#111"/>
<circle cx="115.9" cy="678.7" r="1.4" fill="#111"/>
<circle cx="115.9" cy="703.3" r="1.3" fill="#111"/>
<circle cx="115.9" cy="708.2" r="1.3" fill="#111"/>
<circle cx="115.9" cy="703.3" r="1.3" fill="#111"/>
<circle cx="115.9" cy="696.7" r="1.3" fill="#111"/>
<circle cx="115.9" cy="715.9" r="1.3" fill="#111"/>
<circle cx="115.9" cy="688.7" r="1.3" fill="#111"/>
<rect x="114.4" y="711" width="3" height="15.5" rx="1" fill="#111"/>
<line x1="130.1" y1="657.0" x2="130.1" y2="726.5" stroke="#111" stroke-width="1.1"/>
<circle cx="130.1" cy="657.0" r="1.6" fill="#111"/>
<circle cx="130.1" cy="659.7" r="1.4" fill="#111"/>
<circle cx="130.1" cy="692.5" r="1.3" fill="#111"/>
<circle cx="130.1" cy="717.1" r="1.3" fill="#111"/>
<circle cx="130.1" cy="694.2" r="1.3" fill="#111"/>
<circle cx="130.1" cy="706.7" r="1.3" fill="#111"/>
<circle cx="130.1" cy="700.4" r="1.3" fill="#111"/>
<circle cx="130.1" cy="717.4" r="1.3" fill="#111"/>
<rect x="128.6" y="711" width="3" height="15.5" rx="1" fill="#111"/>
<line x1="144.0" y1="657.0" x2="144.0" y2="726.5" stroke="#111" stroke-width="1.1"/>
<circle cx="144.0" cy="657.0" r="1.6" fill="#111"/>
<circle cx="144.0" cy="666.9" r="1.4" fill="#111"/>
<circle cx="144.0" cy="689.3" r="1.3" fill="#111"/>
<circle cx="144.0" cy="711.8" r="1.3" fill="#111"/>
<circle cx="144.0" cy="695.2" r="1.3" fill="#111"/>
<circle cx="144.0" cy="690.0" r="1.3" fill="#111"/>
<circle cx="144.0" cy="689.6" r="1.3" fill="#111"/>
<circle cx="144.0" cy="707.4" r="1.3" fill="#111"/>
<circle cx="144.0" cy="707.1" r="1.3" fill="#111"/>
<circle cx="144.0" cy="702.0" r="1.3" fill="#111"/>
<rect x="142.5" y="711" width="3" height="15.5" rx="1" fill="#111"/>
<line x1="31.4" y1="657.0" x2="31.4" y2="726.5" stroke="#111" stroke-width="0.9"/>
<circle cx="31.4" cy="657.0" r="1.4" fill="#111"/>
<circle cx="31.4" cy="670.0" r="1.2" fill="#111"/>
<circle cx="31.4" cy="708.9" r="1.2" fill="#111"/>
<circle cx="31.4" cy="671.6" r="1.2" fill="#111"/>
<circle cx="31.4" cy="695.9" r="1.2" fill="#111"/>
<circle cx="31.4" cy="694.2" r="1.2" fill="#111"/>
<circle cx="31.4" cy="716.6" r="1.2" fill="#111"/>
<circle cx="31.4" cy="691.9" r="1.2" fill="#111"/>
<line x1="32.6" y1="657.0" x2="32.6" y2="726.5" stroke="#111" stroke-width="0.9"/>
<circle cx="32.6" cy="657.0" r="1.4" fill="#111"/>
<circle cx="32.6" cy="709.8" r="1.2" fill="#111"/>
<circle cx="32.6" cy="695.3" r="1.2" fill="#111"/>
<circle cx="32.6" cy="679.6" r="1.2" fill="#111"/>
<circle cx="32.6" cy="692.6" r="1.2" fill="#111"/>
<circle cx="32.6" cy="708.4" r="1.2" fill="#111"/>
<circle cx="32.6" cy="692.5" r="1.2" fill="#111"/>
<circle cx="32.6" cy="702.8" r="1.2" fill="#111"/>
<rect x="30" y="714.6" width="127" height="6" rx="2" fill="#151515"/>
<path d="M30.0,714.2 V721.0 M30.8,714.4 V720.6 M31.6,714.5 V721.8 M32.4,712.8 V720.7 M33.2,714.7 V722.4 M34.0,713.7 V721.2 M34.8,714.3 V721.6 M35.6,713.1 V721.3 M36.4,714.0 V720.5 M37.2,713.0 V720.5 M38.0,713.8 V722.1 M38.8,714.5 V721.9 M39.6,712.9 V721.7 M40.4,713.2 V720.6 M41.2,713.9 V720.7 M42.0,713.1 V721.0 M42.8,713.9 V722.4 M43.6,713.1 V722.4 M44.4,713.9 V721.4 M45.2,713.3 V721.4 M46.0,714.2 V721.2 M46.8,714.5 V721.2 M47.6,712.8 V722.3 M48.4,713.5 V721.4 M49.2,714.1 V720.6 M50.0,714.3 V722.0 M50.8,713.1 V721.1 M51.6,713.2 V721.9 M52.4,713.4 V721.7 M53.2,713.3 V721.1 M54.0,713.4 V721.0 M54.8,713.8 V721.9 M55.6,713.4 V721.0 M56.4,712.9 V721.7 M57.2,713.6 V720.4 M58.0,713.7 V720.9 M58.8,713.5 V721.3 M59.6,713.2 V721.7 M60.4,713.2 V721.1 M61.2,713.5 V721.9 M62.0,713.1 V721.1 M62.8,713.1 V722.1 M63.6,713.4 V722.4 M64.4,712.9 V721.4 M65.2,713.7 V720.7 M66.0,713.1 V722.3 M66.8,713.8 V721.8 M67.6,713.4 V721.9 M68.4,714.5 V722.0 M69.2,713.6 V721.7 M70.0,714.0 V721.6 M70.8,713.3 V721.7 M71.6,713.4 V720.5 M72.4,714.5 V721.3 M73.2,713.5 V720.8 M74.0,713.4 V721.7 M74.8,714.7 V721.3 M75.6,714.3 V720.5 M76.4,714.5 V721.0 M77.2,714.4 V720.8 M78.0,714.7 V721.3 M78.8,714.0 V721.6 M79.6,713.6 V720.9 M80.4,713.0 V720.4 M81.2,714.0 V721.0 M82.0,714.0 V720.6 M82.8,713.1 V721.1 M83.6,714.7 V721.6 M84.4,714.6 V721.5 M85.2,714.1 V721.6 M86.0,712.9 V722.0 M86.8,714.0 V722.0 M87.6,713.5 V721.1 M88.4,714.5 V721.6 M89.2,713.7 V722.3 M90.0,712.9 V721.6 M90.8,714.1 V722.2 M91.6,714.8 V720.6 M92.4,713.7 V721.6 M93.2,714.5 V721.7 M94.0,713.0 V721.2 M94.8,713.9 V720.9 M95.6,714.2 V722.3 M96.4,714.0 V722.3 M97.2,713.0 V721.6 M98.0,714.3 V722.4 M98.8,713.8 V721.2 M99.6,714.2 V722.4 M100.4,713.8 V721.0 M101.2,713.8 V720.6 M102.0,713.6 V721.3 M102.8,714.2 V722.0 M103.6,713.1 V720.4 M104.4,713.7 V720.9 M105.2,712.9 V722.0 M106.0,714.3 V720.9 M106.8,714.5 V722.4 M107.6,714.2 V721.6 M108.4,713.9 V721.7 M109.2,713.6 V721.9 M110.0,714.6 V721.9 M110.8,714.2 V721.5 M111.6,714.1 V721.0 M112.4,713.7 V721.3 M113.2,714.1 V721.9 M114.0,713.6 V720.5 M114.8,714.3 V721.3 M115.6,713.0 V722.2 M116.4,713.7 V720.4 M117.2,713.2 V721.3 M118.0,713.6 V721.8 M118.8,713.5 V721.4 M119.6,713.0 V721.2 M120.4,714.0 V722.1 M121.2,714.4 V721.0 M122.0,713.1 V720.5 M122.8,713.1 V721.8 M123.6,713.9 V721.0 M124.4,713.2 V722.2 M125.2,714.5 V721.4 M126.0,713.7 V721.4 M126.8,714.1 V720.7 M127.6,713.6 V722.0 M128.4,714.7 V720.9 M129.2,713.2 V722.0 M130.0,713.5 V720.5 M130.8,713.4 V722.4 M131.6,712.8 V721.8 M132.4,714.7 V722.1 M133.2,714.4 V721.7 M134.0,712.9 V721.8 M134.8,714.5 V721.0 M135.6,713.0 V720.7 M136.4,713.6 V721.2 M137.2,714.5 V721.6 M138.0,714.7 V720.6 M138.8,714.0 V720.5 M139.6,714.7 V721.6 M140.4,713.3 V722.2 M141.2,714.5 V721.3 M142.0,714.2 V721.6 M142.8,713.8 V722.3 M143.6,714.1 V720.5 M144.4,713.4 V720.7 M145.2,713.5 V721.4 M146.0,713.0 V721.5 M146.8,713.6 V720.9 M147.6,713.7 V720.9 M148.4,713.3 V721.4 M149.2,714.5 V720.9 M150.0,714.1 V721.9 M150.8,714.4 V721.8 M151.6,713.5 V720.6 M152.4,713.5 V720.6 M153.2,714.6 V721.6 M154.0,714.3 V722.2 M154.8,713.8 V721.0 M155.6,713.2 V720.5 M156.4,713.3 V720.5" stroke="#1a1a1a" stroke-width="0.8" fill="none"/>
<rect x="32.3" y="727.6" width="98.50000000000001" height="10.899999999999977" fill="#dedd3c"/>
<text x="33.8" y="736.3" font-family="Liberation Sans, sans-serif" font-size="10.3" fill="#222" textLength="95.50000000000001" lengthAdjust="spacingAndGlyphs">1.8 beats per second</text>
<line x1="30" y1="743" x2="30" y2="638.6" stroke="#222" stroke-width="1.6"/>
<path d="M27.4,641.1 L30,634.6 L32.6,641.1 L30,639.6 Z" fill="#222"/>
<line x1="29.2" y1="742.4" x2="153.6" y2="742.4" stroke="#222" stroke-width="1.6"/>
<path d="M151.1,739.8 L157.6,742.4 L151.1,745.0 L152.6,742.4 Z" fill="#222"/>
<line x1="30.8" y1="645.85" x2="34.3" y2="645.85" stroke="#222" stroke-width="1.1"/>
<text x="24" y="648.95" font-family="Liberation Sans, sans-serif" font-size="8.6" fill="#333" text-anchor="end">3</text>
<line x1="30.8" y1="670.6" x2="34.3" y2="670.6" stroke="#222" stroke-width="1.1"/>
<text x="24" y="673.7" font-family="Liberation Sans, sans-serif" font-size="8.6" fill="#333" text-anchor="end">2</text>
<line x1="30.8" y1="695.35" x2="34.3" y2="695.35" stroke="#222" stroke-width="1.1"/>
<text x="24" y="698.45" font-family="Liberation Sans, sans-serif" font-size="8.6" fill="#333" text-anchor="end">1</text>
<line x1="30.8" y1="720.1" x2="34.3" y2="720.1" stroke="#222" stroke-width="1.1"/>
<text x="24" y="723.2" font-family="Liberation Sans, sans-serif" font-size="8.6" fill="#333" text-anchor="end">0</text>
<text x="24" y="745.7" font-family="Liberation Sans, sans-serif" font-size="8.6" fill="#333" text-anchor="end">−1</text>
<line x1="29.3" y1="741.6" x2="29.3" y2="738.1" stroke="#222" stroke-width="1.1"/>
<text x="29.3" y="755.5" font-family="Liberation Sans, sans-serif" font-size="8.6" fill="#333" text-anchor="middle">0</text>
<line x1="54.2" y1="741.6" x2="54.2" y2="738.1" stroke="#222" stroke-width="1.1"/>
<text x="54.2" y="755.5" font-family="Liberation Sans, sans-serif" font-size="8.6" fill="#333" text-anchor="middle">1</text>
<line x1="79.1" y1="741.6" x2="79.1" y2="738.1" stroke="#222" stroke-width="1.1"/>
<text x="79.1" y="755.5" font-family="Liberation Sans, sans-serif" font-size="8.6" fill="#333" text-anchor="middle">2</text>
<line x1="103.99999999999999" y1="741.6" x2="103.99999999999999" y2="738.1" stroke="#222" stroke-width="1.1"/>
<text x="103.99999999999999" y="755.5" font-family="Liberation Sans, sans-serif" font-size="8.6" fill="#333" text-anchor="middle">3</text>
<line x1="128.9" y1="741.6" x2="128.9" y2="738.1" stroke="#222" stroke-width="1.1"/>
<text x="128.9" y="755.5" font-family="Liberation Sans, sans-serif" font-size="8.6" fill="#333" text-anchor="middle">4</text>
<line x1="153.8" y1="741.6" x2="153.8" y2="738.1" stroke="#222" stroke-width="1.1"/>
<text x="153.8" y="755.5" font-family="Liberation Sans, sans-serif" font-size="8.6" fill="#333" text-anchor="middle">5</text>
<text x="96.2" y="770.3" font-family="Liberation Sans, sans-serif" font-size="10.2" fill="#333" text-anchor="middle">Time (s)</text>
<text transform="translate(8.7,694.3) rotate(-90)" font-family="Liberation Sans, sans-serif" font-size="10.7" fill="#333" text-anchor="middle">Decoded amplitude (mV)</text>
<line x1="204.0" y1="657.0" x2="204.0" y2="726.5" stroke="#111" stroke-width="1.1"/>
<circle cx="204.0" cy="657.0" r="1.6" fill="#111"/>
<circle cx="204.0" cy="659.9" r="1.4" fill="#111"/>
<circle cx="204.0" cy="697.4" r="1.3" fill="#111"/>
<circle cx="204.0" cy="711.0" r="1.3" fill="#111"/>
<circle cx="204.0" cy="714.2" r="1.3" fill="#111"/>
<circle cx="204.0" cy="688.7" r="1.3" fill="#111"/>
<circle cx="204.0" cy="697.9" r="1.3" fill="#111"/>
<circle cx="204.0" cy="693.3" r="1.3" fill="#111"/>
<circle cx="204.0" cy="713.5" r="1.3" fill="#111"/>
<rect x="202.5" y="711" width="3" height="15.5" rx="1" fill="#111"/>
<line x1="216.4" y1="657.0" x2="216.4" y2="726.5" stroke="#111" stroke-width="1.1"/>
<circle cx="216.4" cy="657.0" r="1.6" fill="#111"/>
<circle cx="216.4" cy="676.8" r="1.4" fill="#111"/>
<circle cx="216.4" cy="663.1" r="1.4" fill="#111"/>
<circle cx="216.4" cy="679.3" r="1.4" fill="#111"/>
<circle cx="216.4" cy="696.7" r="1.3" fill="#111"/>
<circle cx="216.4" cy="694.0" r="1.3" fill="#111"/>
<circle cx="216.4" cy="706.4" r="1.3" fill="#111"/>
<circle cx="216.4" cy="696.2" r="1.3" fill="#111"/>
<circle cx="216.4" cy="707.0" r="1.3" fill="#111"/>
<circle cx="216.4" cy="708.8" r="1.3" fill="#111"/>
<circle cx="216.4" cy="698.9" r="1.3" fill="#111"/>
<circle cx="216.4" cy="689.1" r="1.3" fill="#111"/>
<rect x="214.9" y="711" width="3" height="15.5" rx="1" fill="#111"/>
<line x1="228.9" y1="657.0" x2="228.9" y2="726.5" stroke="#111" stroke-width="1.1"/>
<circle cx="228.9" cy="657.0" r="1.6" fill="#111"/>
<circle cx="228.9" cy="672.6" r="1.4" fill="#111"/>
<circle cx="228.9" cy="670.3" r="1.4" fill="#111"/>
<circle cx="228.9" cy="711.2" r="1.3" fill="#111"/>
<circle cx="228.9" cy="712.3" r="1.3" fill="#111"/>
<circle cx="228.9" cy="715.7" r="1.3" fill="#111"/>
<circle cx="228.9" cy="716.5" r="1.3" fill="#111"/>
<circle cx="228.9" cy="712.1" r="1.3" fill="#111"/>
<circle cx="228.9" cy="711.8" r="1.3" fill="#111"/>
<circle cx="228.9" cy="703.1" r="1.3" fill="#111"/>
<circle cx="228.9" cy="689.8" r="1.3" fill="#111"/>
<rect x="227.4" y="711" width="3" height="15.5" rx="1" fill="#111"/>
<line x1="240.5" y1="657.0" x2="240.5" y2="726.5" stroke="#111" stroke-width="1.1"/>
<circle cx="240.5" cy="657.0" r="1.6" fill="#111"/>
<circle cx="240.5" cy="665.3" r="1.4" fill="#111"/>
<circle cx="240.5" cy="687.9" r="1.4" fill="#111"/>
<circle cx="240.5" cy="674.0" r="1.4" fill="#111"/>
<circle cx="240.5" cy="690.3" r="1.3" fill="#111"/>
<circle cx="240.5" cy="708.0" r="1.3" fill="#111"/>
<circle cx="240.5" cy="703.9" r="1.3" fill="#111"/>
<circle cx="240.5" cy="711.9" r="1.3" fill="#111"/>
<circle cx="240.5" cy="698.2" r="1.3" fill="#111"/>
<circle cx="240.5" cy="715.5" r="1.3" fill="#111"/>
<circle cx="240.5" cy="691.8" r="1.3" fill="#111"/>
<circle cx="240.5" cy="691.8" r="1.3" fill="#111"/>
<rect x="239.0" y="711" width="3" height="15.5" rx="1" fill="#111"/>
<line x1="252.9" y1="657.0" x2="252.9" y2="726.5" stroke="#111" stroke-width="1.1"/>
<circle cx="252.9" cy="657.0" r="1.6" fill="#111"/>
<circle cx="252.9" cy="683.4" r="1.4" fill="#111"/>
<circle cx="252.9" cy="680.4" r="1.4" fill="#111"/>
<circle cx="252.9" cy="693.3" r="1.3" fill="#111"/>
<circle cx="252.9" cy="695.3" r="1.3" fill="#111"/>
<circle cx="252.9" cy="697.7" r="1.3" fill="#111"/>
<circle cx="252.9" cy="716.6" r="1.3" fill="#111"/>
<circle cx="252.9" cy="691.0" r="1.3" fill="#111"/>
<circle cx="252.9" cy="707.4" r="1.3" fill="#111"/>
<rect x="251.4" y="711" width="3" height="15.5" rx="1" fill="#111"/>
<line x1="265.3" y1="657.0" x2="265.3" y2="726.5" stroke="#111" stroke-width="1.1"/>
<circle cx="265.3" cy="657.0" r="1.6" fill="#111"/>
<circle cx="265.3" cy="678.5" r="1.4" fill="#111"/>
<circle cx="265.3" cy="686.2" r="1.4" fill="#111"/>
<circle cx="265.3" cy="697.6" r="1.3" fill="#111"/>
<circle cx="265.3" cy="703.6" r="1.3" fill="#111"/>
<circle cx="265.3" cy="689.5" r="1.3" fill="#111"/>
<circle cx="265.3" cy="714.1" r="1.3" fill="#111"/>
<rect x="263.8" y="711" width="3" height="15.5" rx="1" fill="#111"/>
<line x1="277.5" y1="657.0" x2="277.5" y2="726.5" stroke="#111" stroke-width="1.1"/>
<circle cx="277.5" cy="657.0" r="1.6" fill="#111"/>
<circle cx="277.5" cy="678.3" r="1.4" fill="#111"/>
<circle cx="277.5" cy="674.4" r="1.4" fill="#111"/>
<circle cx="277.5" cy="680.8" r="1.4" fill="#111"/>
<circle cx="277.5" cy="716.6" r="1.3" fill="#111"/>
<circle cx="277.5" cy="696.4" r="1.3" fill="#111"/>
<circle cx="277.5" cy="700.6" r="1.3" fill="#111"/>
<circle cx="277.5" cy="698.1" r="1.3" fill="#111"/>
<circle cx="277.5" cy="699.3" r="1.3" fill="#111"/>
<rect x="276.0" y="711" width="3" height="15.5" rx="1" fill="#111"/>
<line x1="289.6" y1="657.0" x2="289.6" y2="726.5" stroke="#111" stroke-width="1.1"/>
<circle cx="289.6" cy="657.0" r="1.6" fill="#111"/>
<circle cx="289.6" cy="677.1" r="1.4" fill="#111"/>
<circle cx="289.6" cy="678.7" r="1.4" fill="#111"/>
<circle cx="289.6" cy="674.0" r="1.4" fill="#111"/>
<circle cx="289.6" cy="715.6" r="1.3" fill="#111"/>
<circle cx="289.6" cy="688.1" r="1.3" fill="#111"/>
<circle cx="289.6" cy="703.7" r="1.3" fill="#111"/>
<circle cx="289.6" cy="694.6" r="1.3" fill="#111"/>
<circle cx="289.6" cy="712.4" r="1.3" fill="#111"/>
<circle cx="289.6" cy="711.4" r="1.3" fill="#111"/>
<rect x="288.1" y="711" width="3" height="15.5" rx="1" fill="#111"/>
<line x1="301.8" y1="657.0" x2="301.8" y2="726.5" stroke="#111" stroke-width="1.1"/>
<circle cx="301.8" cy="657.0" r="1.6" fill="#111"/>
<circle cx="301.8" cy="668.7" r="1.4" fill="#111"/>
<circle cx="301.8" cy="696.1" r="1.3" fill="#111"/>
<circle cx="301.8" cy="709.6" r="1.3" fill="#111"/>
<circle cx="301.8" cy="703.9" r="1.3" fill="#111"/>
<circle cx="301.8" cy="704.2" r="1.3" fill="#111"/>
<circle cx="301.8" cy="697.4" r="1.3" fill="#111"/>
<circle cx="301.8" cy="712.6" r="1.3" fill="#111"/>
<circle cx="301.8" cy="716.6" r="1.3" fill="#111"/>
<rect x="300.3" y="711" width="3" height="15.5" rx="1" fill="#111"/>
<line x1="313.9" y1="657.0" x2="313.9" y2="726.5" stroke="#111" stroke-width="1.1"/>
<circle cx="313.9" cy="657.0" r="1.6" fill="#111"/>
<circle cx="313.9" cy="671.1" r="1.4" fill="#111"/>
<circle cx="313.9" cy="660.0" r="1.4" fill="#111"/>
<circle cx="313.9" cy="666.6" r="1.4" fill="#111"/>
<circle cx="313.9" cy="690.9" r="1.3" fill="#111"/>
<circle cx="313.9" cy="703.0" r="1.3" fill="#111"/>
<circle cx="313.9" cy="689.8" r="1.3" fill="#111"/>
<circle cx="313.9" cy="716.0" r="1.3" fill="#111"/>
<circle cx="313.9" cy="710.4" r="1.3" fill="#111"/>
<rect x="312.4" y="711" width="3" height="15.5" rx="1" fill="#111"/>
<rect x="195.7" y="714.6" width="127.69999999999999" height="6" rx="2" fill="#151515"/>
<path d="M195.7,714.7 V721.2 M196.5,714.7 V720.9 M197.3,714.0 V721.0 M198.1,714.7 V720.5 M198.9,712.9 V720.8 M199.7,713.8 V721.2 M200.5,713.7 V720.6 M201.3,714.2 V720.6 M202.1,713.7 V722.2 M202.9,713.6 V722.1 M203.7,714.4 V720.4 M204.5,713.7 V721.4 M205.3,713.7 V721.2 M206.1,713.5 V721.9 M206.9,713.0 V721.0 M207.7,713.9 V722.1 M208.5,714.4 V720.6 M209.3,714.2 V720.6 M210.1,713.3 V722.0 M210.9,714.2 V720.7 M211.7,714.6 V720.9 M212.5,714.6 V721.3 M213.3,713.6 V720.9 M214.1,714.7 V721.8 M214.9,714.7 V720.8 M215.7,714.2 V721.1 M216.5,714.6 V721.2 M217.3,714.2 V721.9 M218.1,713.7 V722.2 M218.9,713.5 V721.9 M219.7,713.7 V721.3 M220.5,713.2 V721.7 M221.3,712.9 V721.9 M222.1,713.4 V720.9 M222.9,713.2 V721.2 M223.7,714.5 V720.5 M224.5,714.5 V720.9 M225.3,713.4 V721.0 M226.1,714.7 V721.9 M226.9,713.7 V720.5 M227.7,714.7 V720.7 M228.5,714.1 V722.1 M229.3,712.9 V721.6 M230.1,714.3 V721.3 M230.9,714.1 V721.1 M231.7,714.8 V721.6 M232.5,713.1 V721.9 M233.3,714.6 V721.5 M234.1,714.5 V721.8 M234.9,713.9 V722.3 M235.7,713.2 V720.6 M236.5,714.2 V722.2 M237.3,713.9 V721.3 M238.1,713.9 V721.9 M238.9,712.9 V721.5 M239.7,712.9 V721.6 M240.5,714.6 V722.0 M241.3,714.0 V720.5 M242.1,712.8 V720.5 M242.9,713.6 V721.4 M243.7,713.0 V721.2 M244.5,714.4 V721.0 M245.3,714.4 V721.5 M246.1,714.1 V721.9 M246.9,714.3 V721.1 M247.7,714.3 V722.4 M248.5,713.1 V722.1 M249.3,713.6 V721.2 M250.1,714.5 V722.1 M250.9,713.8 V720.5 M251.7,714.5 V720.6 M252.5,713.4 V722.2 M253.3,714.4 V722.0 M254.1,714.2 V721.8 M254.9,713.1 V721.6 M255.7,713.2 V721.2 M256.5,714.8 V721.4 M257.3,713.6 V720.8 M258.1,714.0 V721.0 M258.9,714.7 V721.0 M259.7,714.0 V721.4 M260.5,713.4 V721.2 M261.3,712.8 V722.0 M262.1,713.0 V721.8 M262.9,713.5 V721.5 M263.7,713.2 V721.1 M264.5,713.6 V721.8 M265.3,713.8 V721.0 M266.1,714.6 V720.6 M266.9,714.1 V721.6 M267.7,713.3 V721.8 M268.5,714.2 V722.3 M269.3,714.3 V721.8 M270.1,714.7 V721.9 M270.9,713.5 V722.3 M271.7,713.0 V721.8 M272.5,713.1 V721.9 M273.3,713.6 V720.8 M274.1,713.8 V722.2 M274.9,714.3 V722.3 M275.7,713.7 V721.2 M276.5,714.8 V721.2 M277.3,714.4 V721.7 M278.1,713.0 V722.2 M278.9,713.6 V721.2 M279.7,714.6 V721.8 M280.5,713.7 V721.8 M281.3,714.1 V722.2 M282.1,714.4 V721.0 M282.9,714.3 V721.6 M283.7,713.0 V720.7 M284.5,713.5 V721.9 M285.3,714.4 V720.5 M286.1,713.7 V722.1 M286.9,713.0 V721.9 M287.7,714.0 V721.3 M288.5,713.7 V722.2 M289.3,714.2 V721.0 M290.1,713.6 V722.3 M290.9,714.4 V720.5 M291.7,714.6 V721.5 M292.5,713.6 V720.8 M293.3,714.4 V721.6 M294.1,713.5 V721.8 M294.9,713.3 V720.5 M295.7,713.8 V722.1 M296.5,712.9 V721.0 M297.3,713.1 V721.7 M298.1,712.9 V720.9 M298.9,713.4 V722.1 M299.7,713.8 V720.6 M300.5,714.4 V720.7 M301.3,714.6 V720.7 M302.1,713.6 V720.6 M302.9,713.3 V721.9 M303.7,713.2 V722.0 M304.5,713.4 V722.2 M305.3,712.9 V721.7 M306.1,712.9 V720.6 M306.9,714.6 V720.5 M307.7,714.4 V721.1 M308.5,713.9 V721.8 M309.3,713.3 V720.6 M310.1,714.0 V721.5 M310.9,714.0 V720.6 M311.7,713.6 V721.1 M312.5,713.4 V721.4 M313.3,712.9 V722.3 M314.1,714.7 V721.9 M314.9,713.4 V721.0 M315.7,714.6 V721.4 M316.5,714.1 V721.9 M317.3,713.0 V721.2 M318.1,714.2 V721.4 M318.9,713.4 V722.0 M319.7,713.6 V721.0 M320.5,714.1 V722.1 M321.3,713.8 V720.5 M322.1,714.0 V720.9 M322.9,713.5 V720.5" stroke="#1a1a1a" stroke-width="0.8" fill="none"/>
<rect x="202" y="728.3" width="101.19999999999999" height="10.5" fill="#dedd3c"/>
<text x="203.5" y="736.5999999999999" font-family="Liberation Sans, sans-serif" font-size="10.3" fill="#222" textLength="98.19999999999999" lengthAdjust="spacingAndGlyphs">2.0 beats per second</text>
<line x1="195.7" y1="743" x2="195.7" y2="638.6" stroke="#222" stroke-width="1.6"/>
<path d="M193.1,641.1 L195.7,634.6 L198.29999999999998,641.1 L195.7,639.6 Z" fill="#222"/>
<line x1="194.89999999999998" y1="742.4" x2="321" y2="742.4" stroke="#222" stroke-width="1.6"/>
<path d="M318.5,739.8 L325,742.4 L318.5,745.0 L320,742.4 Z" fill="#222"/>
<line x1="196.5" y1="645.85" x2="200.0" y2="645.85" stroke="#222" stroke-width="1.1"/>
<text x="189.7" y="648.95" font-family="Liberation Sans, sans-serif" font-size="8.6" fill="#333" text-anchor="end">3</text>
<line x1="196.5" y1="670.6" x2="200.0" y2="670.6" stroke="#222" stroke-width="1.1"/>
<text x="189.7" y="673.7" font-family="Liberation Sans, sans-serif" font-size="8.6" fill="#333" text-anchor="end">2</text>
<line x1="196.5" y1="695.35" x2="200.0" y2="695.35" stroke="#222" stroke-width="1.1"/>
<text x="189.7" y="698.45" font-family="Liberation Sans, sans-serif" font-size="8.6" fill="#333" text-anchor="end">1</text>
<line x1="196.5" y1="720.1" x2="200.0" y2="720.1" stroke="#222" stroke-width="1.1"/>
<text x="189.7" y="723.2" font-family="Liberation Sans, sans-serif" font-size="8.6" fill="#333" text-anchor="end">0</text>
<text x="189.7" y="745.7" font-family="Liberation Sans, sans-serif" font-size="8.6" fill="#333" text-anchor="end">−1</text>
<line x1="196.0" y1="741.6" x2="196.0" y2="738.1" stroke="#222" stroke-width="1.1"/>
<text x="196.0" y="755.5" font-family="Liberation Sans, sans-serif" font-size="8.6" fill="#333" text-anchor="middle">0</text>
<line x1="220.9" y1="741.6" x2="220.9" y2="738.1" stroke="#222" stroke-width="1.1"/>
<text x="220.9" y="755.5" font-family="Liberation Sans, sans-serif" font-size="8.6" fill="#333" text-anchor="middle">1</text>
<line x1="245.8" y1="741.6" x2="245.8" y2="738.1" stroke="#222" stroke-width="1.1"/>
<text x="245.8" y="755.5" font-family="Liberation Sans, sans-serif" font-size="8.6" fill="#333" text-anchor="middle">2</text>
<line x1="270.7" y1="741.6" x2="270.7" y2="738.1" stroke="#222" stroke-width="1.1"/>
<text x="270.7" y="755.5" font-family="Liberation Sans, sans-serif" font-size="8.6" fill="#333" text-anchor="middle">3</text>
<line x1="295.6" y1="741.6" x2="295.6" y2="738.1" stroke="#222" stroke-width="1.1"/>
<text x="295.6" y="755.5" font-family="Liberation Sans, sans-serif" font-size="8.6" fill="#333" text-anchor="middle">4</text>
<line x1="320.5" y1="741.6" x2="320.5" y2="738.1" stroke="#222" stroke-width="1.1"/>
<text x="320.5" y="755.5" font-family="Liberation Sans, sans-serif" font-size="8.6" fill="#333" text-anchor="middle">5</text>
<text x="261.2" y="770.3" font-family="Liberation Sans, sans-serif" font-size="10.2" fill="#333" text-anchor="middle">Time (s)</text>
<text transform="translate(176.9,693) rotate(-90)" font-family="Liberation Sans, sans-serif" font-size="10.7" fill="#333" text-anchor="middle">Decoded amplitude (mV)</text>
<line x1="366.7" y1="657.0" x2="366.7" y2="726.5" stroke="#111" stroke-width="1.1"/>
<circle cx="366.7" cy="657.0" r="1.6" fill="#111"/>
<circle cx="366.7" cy="659.2" r="1.4" fill="#111"/>
<circle cx="366.7" cy="671.5" r="1.4" fill="#111"/>
<circle cx="366.7" cy="688.4" r="1.3" fill="#111"/>
<circle cx="366.7" cy="701.5" r="1.3" fill="#111"/>
<circle cx="366.7" cy="706.2" r="1.3" fill="#111"/>
<circle cx="366.7" cy="689.9" r="1.3" fill="#111"/>
<circle cx="366.7" cy="714.9" r="1.3" fill="#111"/>
<circle cx="366.7" cy="707.1" r="1.3" fill="#111"/>
<circle cx="366.7" cy="693.5" r="1.3" fill="#111"/>
<rect x="365.2" y="711" width="3" height="15.5" rx="1" fill="#111"/>
<line x1="397.9" y1="657.0" x2="397.9" y2="726.5" stroke="#111" stroke-width="1.1"/>
<circle cx="397.9" cy="657.0" r="1.6" fill="#111"/>
<circle cx="397.9" cy="663.6" r="1.4" fill="#111"/>
<circle cx="397.9" cy="706.9" r="1.3" fill="#111"/>
<circle cx="397.9" cy="717.1" r="1.3" fill="#111"/>
<circle cx="397.9" cy="710.2" r="1.3" fill="#111"/>
<circle cx="397.9" cy="704.0" r="1.3" fill="#111"/>
<circle cx="397.9" cy="706.3" r="1.3" fill="#111"/>
<rect x="396.4" y="711" width="3" height="15.5" rx="1" fill="#111"/>
<line x1="428.7" y1="657.0" x2="428.7" y2="726.5" stroke="#111" stroke-width="1.1"/>
<circle cx="428.7" cy="657.0" r="1.6" fill="#111"/>
<circle cx="428.7" cy="685.6" r="1.4" fill="#111"/>
<circle cx="428.7" cy="659.1" r="1.4" fill="#111"/>
<circle cx="428.7" cy="682.2" r="1.4" fill="#111"/>
<circle cx="428.7" cy="717.3" r="1.3" fill="#111"/>
<circle cx="428.7" cy="702.2" r="1.3" fill="#111"/>
<circle cx="428.7" cy="689.2" r="1.3" fill="#111"/>
<circle cx="428.7" cy="699.9" r="1.3" fill="#111"/>
<circle cx="428.7" cy="692.7" r="1.3" fill="#111"/>
<circle cx="428.7" cy="703.7" r="1.3" fill="#111"/>
<circle cx="428.7" cy="717.0" r="1.3" fill="#111"/>
<rect x="427.2" y="711" width="3" height="15.5" rx="1" fill="#111"/>
<line x1="459.8" y1="657.0" x2="459.8" y2="726.5" stroke="#111" stroke-width="1.1"/>
<circle cx="459.8" cy="657.0" r="1.6" fill="#111"/>
<circle cx="459.8" cy="676.3" r="1.4" fill="#111"/>
<circle cx="459.8" cy="704.7" r="1.3" fill="#111"/>
<circle cx="459.8" cy="700.0" r="1.3" fill="#111"/>
<circle cx="459.8" cy="690.8" r="1.3" fill="#111"/>
<circle cx="459.8" cy="698.5" r="1.3" fill="#111"/>
<circle cx="459.8" cy="698.7" r="1.3" fill="#111"/>
<circle cx="459.8" cy="716.6" r="1.3" fill="#111"/>
<circle cx="459.8" cy="716.9" r="1.3" fill="#111"/>
<circle cx="459.8" cy="694.8" r="1.3" fill="#111"/>
<rect x="458.3" y="711" width="3" height="15.5" rx="1" fill="#111"/>
<rect x="363.5" y="714.6" width="126.80000000000001" height="6" rx="2" fill="#151515"/>
<path d="M363.5,714.0 V722.1 M364.3,713.1 V722.2 M365.1,714.0 V722.4 M365.9,713.3 V722.2 M366.7,714.5 V722.0 M367.5,714.0 V722.3 M368.3,712.8 V720.8 M369.1,714.0 V720.9 M369.9,713.9 V721.0 M370.7,713.5 V720.6 M371.5,714.5 V721.3 M372.3,714.7 V721.2 M373.1,713.0 V722.2 M373.9,714.4 V720.4 M374.7,713.1 V722.3 M375.5,713.6 V720.7 M376.3,714.3 V722.2 M377.1,712.9 V720.5 M377.9,714.4 V721.3 M378.7,714.3 V721.9 M379.5,714.1 V722.0 M380.3,714.5 V721.4 M381.1,712.9 V721.8 M381.9,714.6 V720.6 M382.7,713.5 V721.1 M383.5,714.1 V721.4 M384.3,713.6 V722.3 M385.1,714.3 V721.5 M385.9,714.3 V721.5 M386.7,713.3 V720.7 M387.5,713.8 V721.8 M388.3,714.8 V721.9 M389.1,714.0 V721.4 M389.9,713.6 V722.0 M390.7,714.7 V721.4 M391.5,714.7 V721.2 M392.3,714.1 V720.4 M393.1,714.2 V721.3 M393.9,713.5 V722.2 M394.7,714.1 V721.5 M395.5,713.4 V722.3 M396.3,712.9 V722.4 M397.1,714.2 V720.7 M397.9,712.9 V720.6 M398.7,713.9 V721.9 M399.5,713.7 V721.2 M400.3,713.0 V721.0 M401.1,713.7 V722.1 M401.9,714.5 V721.1 M402.7,713.8 V721.5 M403.5,714.4 V721.3 M404.3,714.7 V720.6 M405.1,714.1 V720.7 M405.9,712.9 V720.9 M406.7,714.2 V722.0 M407.5,713.3 V720.9 M408.3,713.1 V721.7 M409.1,714.0 V721.7 M409.9,714.3 V720.9 M410.7,713.0 V721.3 M411.5,713.0 V720.8 M412.3,714.5 V720.5 M413.1,713.3 V721.5 M413.9,714.8 V720.5 M414.7,713.2 V721.4 M415.5,713.1 V720.5 M416.3,713.6 V720.6 M417.1,713.4 V721.6 M417.9,713.6 V720.8 M418.7,712.9 V720.6 M419.5,714.7 V721.8 M420.3,714.6 V720.5 M421.1,713.9 V721.7 M421.9,713.0 V721.8 M422.7,714.7 V721.7 M423.5,713.1 V720.6 M424.3,713.3 V720.9 M425.1,714.2 V720.4 M425.9,713.3 V721.4 M426.7,713.0 V721.3 M427.5,714.5 V720.8 M428.3,714.3 V722.3 M429.1,714.4 V720.6 M429.9,714.1 V720.6 M430.7,713.9 V721.6 M431.5,713.5 V720.7 M432.3,714.5 V721.4 M433.1,713.4 V721.3 M433.9,713.7 V722.2 M434.7,714.5 V720.9 M435.5,713.8 V721.5 M436.3,713.0 V721.5 M437.1,713.5 V721.2 M437.9,713.2 V722.1 M438.7,714.2 V720.6 M439.5,714.3 V721.1 M440.3,713.0 V720.9 M441.1,713.5 V721.7 M441.9,712.9 V720.6 M442.7,713.3 V721.1 M443.5,714.6 V721.7 M444.3,713.1 V721.6 M445.1,714.7 V722.3 M445.9,714.0 V721.7 M446.7,713.4 V720.9 M447.5,714.0 V721.1 M448.3,714.6 V720.5 M449.1,713.4 V721.2 M449.9,713.1 V720.5 M450.7,714.2 V720.8 M451.5,712.9 V722.0 M452.3,713.0 V721.4 M453.1,714.6 V721.2 M453.9,714.3 V720.5 M454.7,713.7 V721.0 M455.5,714.6 V721.4 M456.3,712.9 V722.3 M457.1,713.9 V720.6 M457.9,713.3 V720.6 M458.7,713.7 V720.6 M459.5,712.8 V721.5 M460.3,713.9 V720.9 M461.1,713.7 V722.3 M461.9,713.9 V720.8 M462.7,713.8 V722.2 M463.5,714.0 V721.7 M464.3,713.0 V721.1 M465.1,713.2 V721.5 M465.9,714.5 V720.5 M466.7,712.9 V721.3 M467.5,713.9 V722.2 M468.3,713.7 V721.4 M469.1,714.2 V721.9 M469.9,714.3 V721.3 M470.7,713.3 V721.6 M471.5,714.5 V720.8 M472.3,713.4 V721.9 M473.1,714.6 V722.4 M473.9,714.5 V720.7 M474.7,714.6 V721.3 M475.5,713.6 V722.1 M476.3,714.5 V721.8 M477.1,714.6 V721.6 M477.9,714.3 V721.1 M478.7,714.7 V721.8 M479.5,714.6 V721.9 M480.3,714.1 V721.6 M481.1,713.5 V721.4 M481.9,713.1 V722.2 M482.7,714.2 V721.1 M483.5,713.0 V720.7 M484.3,714.0 V721.2 M485.1,712.8 V720.7 M485.9,713.5 V721.9 M486.7,713.3 V720.4 M487.5,712.9 V721.0 M488.3,713.1 V721.7 M489.1,714.0 V722.1 M489.9,713.4 V721.1" stroke="#1a1a1a" stroke-width="0.8" fill="none"/>
<rect x="370.6" y="727.3" width="102.09999999999997" height="11.700000000000045" fill="#dedd3c"/>
<text x="372.1" y="736.8" font-family="Liberation Sans, sans-serif" font-size="10.3" fill="#222" textLength="99.09999999999997" lengthAdjust="spacingAndGlyphs">0.8 beats per second</text>
<line x1="363.5" y1="743" x2="363.5" y2="638.6" stroke="#222" stroke-width="1.6"/>
<path d="M360.9,641.1 L363.5,634.6 L366.1,641.1 L363.5,639.6 Z" fill="#222"/>
<line x1="362.7" y1="742.4" x2="488" y2="742.4" stroke="#222" stroke-width="1.6"/>
<path d="M485.5,739.8 L492,742.4 L485.5,745.0 L487,742.4 Z" fill="#222"/>
<line x1="364.3" y1="645.85" x2="367.8" y2="645.85" stroke="#222" stroke-width="1.1"/>
<text x="357.5" y="648.95" font-family="Liberation Sans, sans-serif" font-size="8.6" fill="#333" text-anchor="end">3</text>
<line x1="364.3" y1="670.6" x2="367.8" y2="670.6" stroke="#222" stroke-width="1.1"/>
<text x="357.5" y="673.7" font-family="Liberation Sans, sans-serif" font-size="8.6" fill="#333" text-anchor="end">2</text>
<line x1="364.3" y1="695.35" x2="367.8" y2="695.35" stroke="#222" stroke-width="1.1"/>
<text x="357.5" y="698.45" font-family="Liberation Sans, sans-serif" font-size="8.6" fill="#333" text-anchor="end">1</text>
<line x1="364.3" y1="720.1" x2="367.8" y2="720.1" stroke="#222" stroke-width="1.1"/>
<text x="357.5" y="723.2" font-family="Liberation Sans, sans-serif" font-size="8.6" fill="#333" text-anchor="end">0</text>
<text x="357.5" y="745.7" font-family="Liberation Sans, sans-serif" font-size="8.6" fill="#333" text-anchor="end">−1</text>
<line x1="363.5" y1="741.6" x2="363.5" y2="738.1" stroke="#222" stroke-width="1.1"/>
<text x="363.5" y="755.5" font-family="Liberation Sans, sans-serif" font-size="8.6" fill="#333" text-anchor="middle">0</text>
<line x1="388.5" y1="741.6" x2="388.5" y2="738.1" stroke="#222" stroke-width="1.1"/>
<text x="388.5" y="755.5" font-family="Liberation Sans, sans-serif" font-size="8.6" fill="#333" text-anchor="middle">1</text>
<line x1="413.5" y1="741.6" x2="413.5" y2="738.1" stroke="#222" stroke-width="1.1"/>
<text x="413.5" y="755.5" font-family="Liberation Sans, sans-serif" font-size="8.6" fill="#333" text-anchor="middle">2</text>
<line x1="438.5" y1="741.6" x2="438.5" y2="738.1" stroke="#222" stroke-width="1.1"/>
<text x="438.5" y="755.5" font-family="Liberation Sans, sans-serif" font-size="8.6" fill="#333" text-anchor="middle">3</text>
<line x1="463.5" y1="741.6" x2="463.5" y2="738.1" stroke="#222" stroke-width="1.1"/>
<text x="463.5" y="755.5" font-family="Liberation Sans, sans-serif" font-size="8.6" fill="#333" text-anchor="middle">4</text>
<line x1="488.5" y1="741.6" x2="488.5" y2="738.1" stroke="#222" stroke-width="1.1"/>
<text x="488.5" y="755.5" font-family="Liberation Sans, sans-serif" font-size="8.6" fill="#333" text-anchor="middle">5</text>
<text x="428.4" y="770.3" font-family="Liberation Sans, sans-serif" font-size="10.2" fill="#333" text-anchor="middle">Time (s)</text>
<text transform="translate(343.9,692.2) rotate(-90)" font-family="Liberation Sans, sans-serif" font-size="10.7" fill="#333" text-anchor="middle">Decoded amplitude (mV)</text>
<line x1="540.8" y1="742.4" x2="540.8" y2="637.3" stroke="#222" stroke-width="1.6"/>
<path d="M538.1999999999999,639.8 L540.8,633.3 L543.4,639.8 L540.8,638.3 Z" fill="#222"/>
<line x1="540" y1="741.6" x2="665.2" y2="741.6" stroke="#222" stroke-width="1.6"/>
<path d="M662.7,739.0 L669.2,741.6 L662.7,744.2 L664.2,741.6 Z" fill="#222"/>
<line x1="541.6" y1="666.7" x2="545.1" y2="666.7" stroke="#222" stroke-width="1.1"/>
<text x="535.6" y="669.8000000000001" font-family="Liberation Sans, sans-serif" font-size="8.6" fill="#333" text-anchor="end">2</text>
<line x1="541.6" y1="717.6" x2="545.1" y2="717.6" stroke="#222" stroke-width="1.1"/>
<text x="535.6" y="720.7" font-family="Liberation Sans, sans-serif" font-size="8.6" fill="#333" text-anchor="end">1</text>
<text transform="translate(509.8,694) rotate(-90)" font-family="Liberation Sans, sans-serif" font-size="10.7" fill="#333" text-anchor="middle">Beating rate</text>
<text transform="translate(522.2,694.5) rotate(-90)" font-family="Liberation Sans, sans-serif" font-size="10.6" fill="#333" text-anchor="middle">(beats per second)</text>
<line x1="557.2" y1="741" x2="557.2" y2="737.5" stroke="#222" stroke-width="1.1"/>
<circle cx="557.2" cy="676.907" r="2.4" fill="#8a8e96"/>
<circle cx="556.7" cy="679.6070000000001" r="2.2" fill="#e53030"/>
<circle cx="557.2" cy="678.407" r="2.3" fill="#2a3aa0"/>
<line x1="553.2" y1="678.407" x2="562.7" y2="678.407" stroke="#222" stroke-width="1.1"/>
<text x="557.2" y="754.3" font-family="Liberation Sans, sans-serif" font-size="10" fill="#333" text-anchor="middle">CTRL</text>
<line x1="588.4" y1="741" x2="588.4" y2="737.5" stroke="#222" stroke-width="1.1"/>
<circle cx="588.4" cy="663.673" r="2.4" fill="#8a8e96"/>
<circle cx="587.9" cy="666.373" r="2.2" fill="#e53030"/>
<circle cx="588.4" cy="665.173" r="2.3" fill="#2a3aa0"/>
<line x1="584.4" y1="665.173" x2="593.9" y2="665.173" stroke="#222" stroke-width="1.1"/>
<text x="588.4" y="754.3" font-family="Liberation Sans, sans-serif" font-size="10" fill="#333" text-anchor="middle">ISO</text>
<text x="588.4" y="764.2" font-family="Liberation Sans, sans-serif" font-size="10" fill="#333" text-anchor="middle">(1 µM)</text>
<line x1="620.7" y1="741" x2="620.7" y2="737.5" stroke="#222" stroke-width="1.1"/>
<circle cx="620.7" cy="661.6370000000001" r="2.4" fill="#8a8e96"/>
<circle cx="620.2" cy="664.3370000000001" r="2.2" fill="#e53030"/>
<circle cx="620.7" cy="663.1370000000001" r="2.3" fill="#2a3aa0"/>
<line x1="616.7" y1="663.1370000000001" x2="626.2" y2="663.1370000000001" stroke="#222" stroke-width="1.1"/>
<text x="620.7" y="754.3" font-family="Liberation Sans, sans-serif" font-size="10" fill="#333" text-anchor="middle">ISO</text>
<text x="620.7" y="764.2" font-family="Liberation Sans, sans-serif" font-size="10" fill="#333" text-anchor="middle">(5 µM)</text>
<line x1="652.7" y1="741" x2="652.7" y2="737.5" stroke="#222" stroke-width="1.1"/>
<circle cx="652.7" cy="726.28" r="2.4" fill="#8a8e96"/>
<circle cx="652.2" cy="728.98" r="2.2" fill="#e53030"/>
<circle cx="652.7" cy="727.78" r="2.3" fill="#2a3aa0"/>
<line x1="648.7" y1="727.78" x2="658.2" y2="727.78" stroke="#222" stroke-width="1.1"/>
<text x="654.5" y="754.3" font-family="Liberation Sans, sans-serif" font-size="10" fill="#333" text-anchor="middle">BLEB</text>
<text x="654.5" y="764.2" font-family="Liberation Sans, sans-serif" font-size="10" fill="#333" text-anchor="middle">(5 µM)</text>
</svg></body></html>
